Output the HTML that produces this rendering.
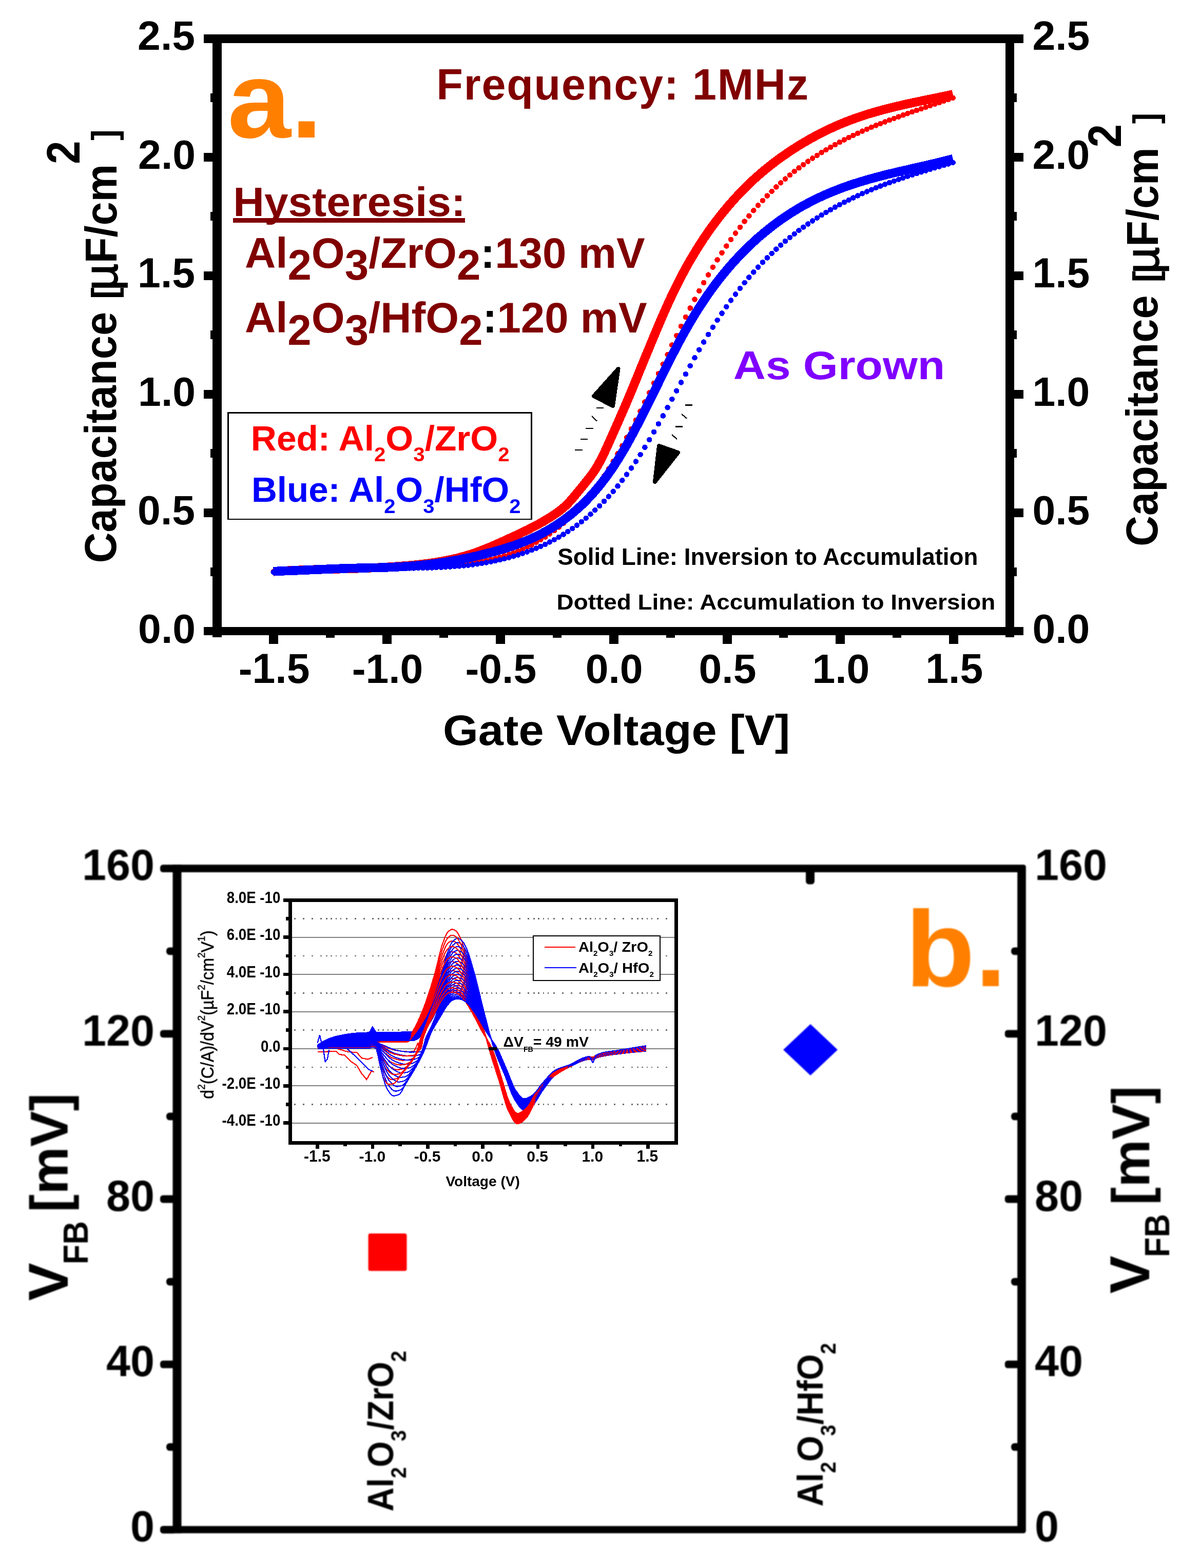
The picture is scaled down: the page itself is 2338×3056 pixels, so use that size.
<!DOCTYPE html>
<html lang="en">
<head>
<meta charset="utf-8">
<title>C-V hysteresis and flat-band voltage</title>
<style>
html,body{margin:0;padding:0;background:#fff;}
body{width:2338px;height:3056px;overflow:hidden;}
svg{display:block;font-family:"Liberation Sans", sans-serif;}
text{white-space:pre;}
</style>
</head>
<body>
<svg width="2338" height="3056" viewBox="0 0 2338 3056">
<rect width="2338" height="3056" fill="#fff"/>
<g id="chart-a" shape-rendering="crispEdges">
<rect x="414.00" y="67.00" width="18.00" height="1175.40" fill="#000" />
<rect x="1959.00" y="67.00" width="17.00" height="1175.40" fill="#000" />
<rect x="397.00" y="67.00" width="1597.00" height="17.00" fill="#000" />
<rect x="397.00" y="1222.40" width="1597.00" height="16.00" fill="#000" />
<rect x="397.00" y="990.90" width="18.00" height="17.00" fill="#000" />
<rect x="1975.00" y="990.90" width="19.00" height="17.00" fill="#000" />
<rect x="397.00" y="759.80" width="18.00" height="17.00" fill="#000" />
<rect x="1975.00" y="759.80" width="19.00" height="17.00" fill="#000" />
<rect x="397.00" y="528.70" width="18.00" height="17.00" fill="#000" />
<rect x="1975.00" y="528.70" width="19.00" height="17.00" fill="#000" />
<rect x="397.00" y="297.60" width="18.00" height="17.00" fill="#000" />
<rect x="1975.00" y="297.60" width="19.00" height="17.00" fill="#000" />
<rect x="410.00" y="1106.45" width="5.00" height="17.00" fill="#000" />
<rect x="1975.00" y="1106.45" width="6.00" height="17.00" fill="#000" />
<rect x="410.00" y="875.35" width="5.00" height="17.00" fill="#000" />
<rect x="1975.00" y="875.35" width="6.00" height="17.00" fill="#000" />
<rect x="410.00" y="644.25" width="5.00" height="17.00" fill="#000" />
<rect x="1975.00" y="644.25" width="6.00" height="17.00" fill="#000" />
<rect x="410.00" y="413.15" width="5.00" height="17.00" fill="#000" />
<rect x="1975.00" y="413.15" width="6.00" height="17.00" fill="#000" />
<rect x="410.00" y="182.05" width="5.00" height="17.00" fill="#000" />
<rect x="1975.00" y="182.05" width="6.00" height="17.00" fill="#000" />
<rect x="524.15" y="1237.40" width="18.00" height="17.60" fill="#000" />
<rect x="745.00" y="1237.40" width="18.00" height="17.60" fill="#000" />
<rect x="965.85" y="1237.40" width="18.00" height="17.60" fill="#000" />
<rect x="1186.70" y="1237.40" width="18.00" height="17.60" fill="#000" />
<rect x="1407.55" y="1237.40" width="18.00" height="17.60" fill="#000" />
<rect x="1628.40" y="1237.40" width="18.00" height="17.60" fill="#000" />
<rect x="1849.25" y="1237.40" width="18.00" height="17.60" fill="#000" />
<rect x="635.08" y="1237.40" width="17.00" height="5.60" fill="#000" />
<rect x="855.93" y="1237.40" width="17.00" height="5.60" fill="#000" />
<rect x="1076.78" y="1237.40" width="17.00" height="5.60" fill="#000" />
<rect x="1297.62" y="1237.40" width="17.00" height="5.60" fill="#000" />
<rect x="1518.47" y="1237.40" width="17.00" height="5.60" fill="#000" />
<rect x="1739.33" y="1237.40" width="17.00" height="5.60" fill="#000" />
<text transform="translate(269.12 1252.90) scale(0.8050 0.7972)" font-size="100" font-weight="bold" fill="#000" >0.0</text>
<text transform="translate(2011.48 1252.90) scale(0.8050 0.7972)" font-size="100" font-weight="bold" fill="#000" >0.0</text>
<text transform="translate(268.12 1021.80) scale(0.8050 0.7972)" font-size="100" font-weight="bold" fill="#000" >0.5</text>
<text transform="translate(2011.48 1021.80) scale(0.8050 0.7972)" font-size="100" font-weight="bold" fill="#000" >0.5</text>
<text transform="translate(269.12 790.70) scale(0.8050 0.7972)" font-size="100" font-weight="bold" fill="#000" >1.0</text>
<text transform="translate(2011.48 790.70) scale(0.8050 0.7972)" font-size="100" font-weight="bold" fill="#000" >1.0</text>
<text transform="translate(268.12 559.59) scale(0.8050 0.8086)" font-size="100" font-weight="bold" fill="#000" >1.5</text>
<text transform="translate(2011.48 559.59) scale(0.8050 0.8086)" font-size="100" font-weight="bold" fill="#000" >1.5</text>
<text transform="translate(269.12 328.50) scale(0.8050 0.7972)" font-size="100" font-weight="bold" fill="#000" >2.0</text>
<text transform="translate(2011.48 328.50) scale(0.8050 0.7972)" font-size="100" font-weight="bold" fill="#000" >2.0</text>
<text transform="translate(268.12 97.40) scale(0.8050 0.7972)" font-size="100" font-weight="bold" fill="#000" >2.5</text>
<text transform="translate(2011.48 97.40) scale(0.8050 0.7972)" font-size="100" font-weight="bold" fill="#000" >2.5</text>
<text transform="translate(464.79 1331.19) scale(0.8050 0.8072)" font-size="100" font-weight="bold" fill="#000" >-1.5</text>
<text transform="translate(685.64 1331.20) scale(0.8050 0.7958)" font-size="100" font-weight="bold" fill="#000" >-1.0</text>
<text transform="translate(906.49 1331.20) scale(0.8050 0.7958)" font-size="100" font-weight="bold" fill="#000" >-0.5</text>
<text transform="translate(1140.74 1331.20) scale(0.8050 0.7958)" font-size="100" font-weight="bold" fill="#000" >0.0</text>
<text transform="translate(1361.59 1331.20) scale(0.8050 0.7958)" font-size="100" font-weight="bold" fill="#000" >0.5</text>
<text transform="translate(1582.44 1331.20) scale(0.8050 0.7958)" font-size="100" font-weight="bold" fill="#000" >1.0</text>
<text transform="translate(1803.29 1331.19) scale(0.8050 0.8072)" font-size="100" font-weight="bold" fill="#000" >1.5</text>
<text transform="translate(863.06 1452.47) scale(0.8839 0.8341)" font-size="100" font-weight="bold" fill="#000" >Gate Voltage [V]</text>
<text transform="translate(226.28 1097.53) rotate(-90) scale(0.8313 0.8783)" font-size="100" font-weight="bold" fill="#000" >Capacitance</text>
<text transform="translate(226.76 582.74) rotate(-90) scale(0.6792 0.6863)" font-size="100" font-weight="bold" fill="#000" >[</text>
<text transform="translate(228.80 566.12) rotate(-90) scale(0.9072 0.9252)" font-size="100" font-weight="normal" fill="#000" stroke="#000" stroke-width="2">µ</text>
<text transform="translate(226.55 513.19) rotate(-90) scale(0.8281 0.8765)" font-size="100" font-weight="bold" fill="#000" >F/cm</text>
<text transform="translate(155.20 319.84) rotate(-90) scale(0.8125 0.9133)" font-size="100" font-weight="bold" fill="#000" >2</text>
<text transform="translate(226.76 273.80) rotate(-90) scale(0.6415 0.6863)" font-size="100" font-weight="bold" fill="#000" >]</text>
<text transform="translate(2255.28 1065.03) rotate(-90) scale(0.8313 0.8783)" font-size="100" font-weight="bold" fill="#000" >Capacitance</text>
<text transform="translate(2255.76 550.24) rotate(-90) scale(0.6792 0.6863)" font-size="100" font-weight="bold" fill="#000" >[</text>
<text transform="translate(2257.80 533.62) rotate(-90) scale(0.9072 0.9252)" font-size="100" font-weight="normal" fill="#000" stroke="#000" stroke-width="2">µ</text>
<text transform="translate(2255.55 480.69) rotate(-90) scale(0.8281 0.8765)" font-size="100" font-weight="bold" fill="#000" >F/cm</text>
<text transform="translate(2184.20 287.34) rotate(-90) scale(0.8125 0.9133)" font-size="100" font-weight="bold" fill="#000" >2</text>
<text transform="translate(2255.76 241.30) rotate(-90) scale(0.6415 0.6863)" font-size="100" font-weight="bold" fill="#000" >]</text>
<text transform="translate(443.14 267.68) scale(2.2204 2.1151)" font-size="100" font-weight="bold" fill="#ff8000" >a.</text>
<text transform="translate(850.30 193.77) scale(0.8447 0.8447)" font-size="100" font-weight="bold" fill="#800000"  letter-spacing="2.135">Frequency: 1MHz</text>
<text transform="translate(454.33 421.30) scale(0.8394 0.7903)" font-size="100" font-weight="bold" fill="#800000" >Hysteresis:</text>
<rect x="454.00" y="425.00" width="452.00" height="9.00" fill="#800000" />
<text transform="translate(476.91 521.50) scale(1.0024 1.0000)" font-size="83.30" font-weight="bold" fill="#800000" ><tspan>Al</tspan><tspan dy="23.57">2</tspan><tspan dy="-23.57">O</tspan><tspan dy="23.57">3</tspan><tspan dy="-23.57">/ZrO</tspan><tspan dy="23.57">2</tspan><tspan dy="-23.57" fill="#000">:</tspan><tspan>130 mV</tspan></text>
<text transform="translate(476.91 648.00) scale(1.0016 1.0000)" font-size="83.30" font-weight="bold" fill="#800000" ><tspan>Al</tspan><tspan dy="23.57">2</tspan><tspan dy="-23.57">O</tspan><tspan dy="23.57">3</tspan><tspan dy="-23.57">/HfO</tspan><tspan dy="23.57">2</tspan><tspan dy="-23.57" fill="#000">:</tspan><tspan>120 mV</tspan></text>
<text transform="translate(1428.82 739.22) scale(0.8733 0.7845)" font-size="100" font-weight="bold" fill="#8000ff" >As Grown</text>
<rect x="444.3" y="804.3" width="591.4" height="207.6" fill="#fff" stroke="#000" stroke-width="2.6"/>
<text transform="translate(488.82 877.80) scale(1.0260 1.0000)" font-size="67.60" font-weight="bold" fill="#ff0000" ><tspan>Red: Al</tspan><tspan font-size="39.21" dy="21.63">2</tspan><tspan dy="-21.63">O</tspan><tspan font-size="39.21" dy="21.63">3</tspan><tspan dy="-21.63">/ZrO</tspan><tspan font-size="39.21" dy="21.63">2</tspan></text>
<text transform="translate(489.94 978.00) scale(1.0217 1.0000)" font-size="67.60" font-weight="bold" fill="#0000ff" ><tspan>Blue: Al</tspan><tspan font-size="39.21" dy="21.63">2</tspan><tspan dy="-21.63">O</tspan><tspan font-size="39.21" dy="21.63">3</tspan><tspan dy="-21.63">/HfO</tspan><tspan font-size="39.21" dy="21.63">2</tspan></text>
<text transform="translate(1086.33 1100.53) scale(0.4576 0.4653)" font-size="100" font-weight="bold" fill="#000" >Solid Line: Inversion to Accumulation</text>
<text transform="translate(1084.60 1187.58) scale(0.4589 0.4245)" font-size="100" font-weight="bold" fill="#000" >Dotted Line: Accumulation to Inversion</text>
<path d="M532.7 1113.9 L537.8 1113.6 L542.9 1113.3 L548.0 1113.0 L553.1 1112.7 L558.3 1112.4 L563.4 1112.1 L568.5 1111.9 L573.6 1111.6 L578.7 1111.4 L583.8 1111.2 L588.9 1111.0 L594.0 1110.8 L599.2 1110.6 L604.3 1110.4 L609.4 1110.3 L614.5 1110.1 L619.6 1110.0 L624.7 1109.8 L629.8 1109.7 L634.9 1109.5 L640.0 1109.4 L645.2 1109.2 L650.3 1109.1 L655.4 1109.0 L660.5 1108.8 L665.6 1108.7 L670.7 1108.5 L675.8 1108.4 L680.9 1108.2 L686.0 1108.1 L691.2 1107.9 L696.3 1107.8 L701.4 1107.6 L706.5 1107.4 L711.6 1107.2 L716.7 1107.0 L721.8 1106.8 L726.9 1106.6 L732.1 1106.4 L737.2 1106.2 L742.3 1105.9 L747.4 1105.6 L752.5 1105.4 L757.6 1105.1 L762.7 1104.8 L767.8 1104.4 L772.9 1104.1 L778.1 1103.7 L783.2 1103.3 L788.3 1102.9 L793.4 1102.5 L798.5 1102.1 L803.6 1101.6 L808.7 1101.1 L813.8 1100.6 L818.9 1100.0 L824.1 1099.4 L829.2 1098.8 L834.3 1098.2 L839.4 1097.5 L844.5 1096.7 L849.6 1096.0 L854.7 1095.1 L859.8 1094.2 L865.0 1093.3 L870.1 1092.3 L875.2 1091.3 L880.3 1090.2 L885.4 1089.0 L890.5 1087.8 L895.6 1086.5 L900.7 1085.1 L905.8 1083.7 L911.0 1082.2 L916.1 1080.6 L921.2 1078.9 L926.3 1077.2 L931.4 1075.3 L936.5 1073.4 L941.6 1071.4 L946.7 1069.4 L951.8 1067.3 L957.0 1065.2 L962.1 1063.0 L967.2 1060.7 L972.3 1058.5 L977.4 1056.2 L982.5 1053.9 L987.6 1051.5 L992.7 1049.2 L997.9 1046.8 L1003.0 1044.5 L1008.1 1042.1 L1013.2 1039.7 L1018.3 1037.3 L1023.4 1034.8 L1028.5 1032.3 L1033.6 1029.7 L1038.7 1027.1 L1043.9 1024.4 L1049.0 1021.7 L1054.1 1018.8 L1059.2 1015.9 L1064.3 1012.8 L1069.4 1009.7 L1074.5 1006.5 L1079.6 1003.1 L1084.8 999.6 L1089.9 995.9 L1095.0 991.9 L1100.1 987.5 L1105.2 982.6 L1110.3 977.2 L1115.4 971.5 L1120.5 965.4 L1125.6 959.1 L1130.8 952.9 L1135.9 946.6 L1141.0 940.3 L1146.1 934.0 L1151.2 927.4 L1156.3 920.4 L1161.4 912.6 L1166.5 903.9 L1171.6 894.2 L1176.8 883.8 L1181.9 872.8 L1187.0 861.5 L1192.1 850.1 L1197.2 838.6 L1202.3 827.1 L1207.4 815.5 L1212.5 803.7 L1217.7 791.9 L1222.8 779.8 L1227.9 767.7 L1233.0 755.4 L1238.1 743.0 L1243.2 730.5 L1248.3 718.0 L1253.4 705.5 L1258.5 693.0 L1263.7 680.6 L1268.8 668.2 L1273.9 655.9 L1279.0 643.7 L1284.1 631.6 L1289.2 619.7 L1294.3 608.0 L1299.4 596.6 L1304.5 585.4 L1309.7 574.4 L1314.8 563.8 L1319.9 553.5 L1325.0 543.4 L1330.1 533.7 L1335.2 524.2 L1340.3 515.0 L1345.4 506.1 L1350.6 497.4 L1355.7 489.0 L1360.8 480.8 L1365.9 472.8 L1371.0 465.0 L1376.1 457.5 L1381.2 450.2 L1386.3 443.0 L1391.4 436.1 L1396.6 429.3 L1401.7 422.7 L1406.8 416.3 L1411.9 410.0 L1417.0 403.9 L1422.1 397.9 L1427.2 392.1 L1432.3 386.4 L1437.5 380.8 L1442.6 375.4 L1447.7 370.2 L1452.8 365.0 L1457.9 360.0 L1463.0 355.1 L1468.1 350.3 L1473.2 345.7 L1478.3 341.2 L1483.5 336.7 L1488.6 332.4 L1493.7 328.2 L1498.8 324.1 L1503.9 320.1 L1509.0 316.2 L1514.1 312.3 L1519.2 308.6 L1524.3 304.9 L1529.5 301.4 L1534.6 297.9 L1539.7 294.4 L1544.8 291.1 L1549.9 287.8 L1555.0 284.6 L1560.1 281.4 L1565.2 278.4 L1570.4 275.4 L1575.5 272.4 L1580.6 269.5 L1585.7 266.7 L1590.8 264.0 L1595.9 261.3 L1601.0 258.6 L1606.1 256.1 L1611.2 253.6 L1616.4 251.2 L1621.5 248.8 L1626.6 246.5 L1631.7 244.3 L1636.8 242.1 L1641.9 240.0 L1647.0 237.9 L1652.1 235.9 L1657.2 234.0 L1662.4 232.1 L1667.5 230.2 L1672.6 228.5 L1677.7 226.7 L1682.8 225.1 L1687.9 223.4 L1693.0 221.8 L1698.1 220.3 L1703.3 218.8 L1708.4 217.3 L1713.5 215.9 L1718.6 214.5 L1723.7 213.1 L1728.8 211.8 L1733.9 210.5 L1739.0 209.2 L1744.1 208.0 L1749.3 206.8 L1754.4 205.6 L1759.5 204.4 L1764.6 203.2 L1769.7 202.1 L1774.8 201.0 L1779.9 199.9 L1785.0 198.8 L1790.1 197.7 L1795.3 196.7 L1800.4 195.6 L1805.5 194.5 L1810.6 193.5 L1815.7 192.4 L1820.8 191.4 L1825.9 190.4 L1831.0 189.3 L1836.2 188.2 L1841.3 187.2 L1846.4 186.1 L1851.5 185.0 L1856.6 183.9" fill="none" stroke="#ff0000" stroke-width="17.5" stroke-linecap="butt" stroke-linejoin="round"/>
<path d="M532.7 1113.7h0M541.5 1113.3h0M550.4 1112.9h0M559.2 1112.5h0M568.0 1112.1h0M576.8 1111.8h0M585.7 1111.4h0M594.5 1111.1h0M603.3 1110.8h0M612.1 1110.4h0M621.0 1110.1h0M629.8 1109.8h0M638.6 1109.5h0M647.4 1109.2h0M656.3 1108.9h0M665.1 1108.7h0M673.9 1108.4h0M682.7 1108.1h0M691.6 1107.8h0M700.4 1107.5h0M709.2 1107.3h0M718.0 1107.0h0M726.9 1106.7h0M735.7 1106.4h0M744.5 1106.2h0M753.4 1105.9h0M762.2 1105.6h0M771.0 1105.3h0M779.8 1105.0h0M788.7 1104.7h0M797.5 1104.4h0M806.3 1104.1h0M815.1 1103.7h0M824.0 1103.4h0M832.8 1103.1h0M841.6 1102.7h0M850.4 1102.3h0M859.3 1101.9h0M868.1 1101.4h0M876.9 1100.9h0M885.7 1100.3h0M894.6 1099.5h0M903.4 1098.7h0M912.2 1097.7h0M921.0 1096.6h0M929.9 1095.3h0M938.7 1093.9h0M947.5 1092.2h0M956.3 1090.4h0M965.2 1088.3h0M974.0 1086.0h0M982.8 1083.4h0M991.7 1080.6h0M1000.5 1077.5h0M1009.3 1074.1h0M1018.1 1070.3h0M1027.0 1066.3h0M1035.8 1061.9h0M1044.6 1057.1h0M1053.4 1052.0h0M1062.3 1046.5h0M1071.1 1040.5h0M1079.9 1034.2h0M1088.7 1027.4h0M1097.6 1020.1h0M1106.4 1012.3h0M1115.2 1004.0h0M1124.0 995.0h0M1132.9 985.5h0M1141.7 975.3h0M1150.5 964.4h0M1159.3 952.9h0M1168.2 940.5h0M1177.0 927.5h0M1185.8 913.8h0M1194.7 899.4h0M1203.5 884.4h0M1212.3 868.8h0M1221.1 852.7h0M1230.0 836.1h0M1238.8 818.9h0M1247.6 801.4h0M1256.4 783.5h0M1265.3 765.3h0M1274.1 746.9h0M1282.9 728.3h0M1291.7 709.7h0M1300.6 691.0h0M1309.4 672.5h0M1318.2 654.1h0M1327.0 635.9h0M1335.9 618.0h0M1344.7 600.5h0M1353.5 583.5h0M1362.3 566.9h0M1371.2 550.9h0M1380.0 535.6h0M1388.8 520.7h0M1397.6 506.4h0M1406.5 492.7h0M1415.3 479.5h0M1424.1 466.8h0M1433.0 454.5h0M1441.8 442.8h0M1450.6 431.5h0M1459.4 420.7h0M1468.3 410.3h0M1477.1 400.3h0M1485.9 390.8h0M1494.7 381.6h0M1503.6 372.8h0M1512.4 364.4h0M1521.2 356.3h0M1530.0 348.6h0M1538.9 341.2h0M1547.7 334.1h0M1556.5 327.3h0M1565.3 320.8h0M1574.2 314.5h0M1583.0 308.5h0M1591.8 302.8h0M1600.6 297.3h0M1609.5 291.9h0M1618.3 286.8h0M1627.1 281.9h0M1635.9 277.1h0M1644.8 272.5h0M1653.6 268.1h0M1662.4 263.8h0M1671.3 259.7h0M1680.1 255.7h0M1688.9 251.8h0M1697.7 248.1h0M1706.6 244.4h0M1715.4 240.9h0M1724.2 237.5h0M1733.0 234.1h0M1741.9 230.8h0M1750.7 227.6h0M1759.5 224.4h0M1768.3 221.3h0M1777.2 218.2h0M1786.0 215.1h0M1794.8 212.1h0M1803.6 209.1h0M1812.5 206.0h0M1821.3 203.0h0M1830.1 200.0h0M1838.9 196.9h0M1847.8 193.8h0M1856.6 190.7h0" fill="none" stroke="#ff0000" stroke-width="10.6" stroke-linecap="round"/>
<path d="M532.7 1113.5 L537.8 1113.3 L542.9 1113.2 L548.0 1113.0 L553.1 1112.8 L558.3 1112.6 L563.4 1112.4 L568.5 1112.2 L573.6 1112.0 L578.7 1111.8 L583.8 1111.6 L588.9 1111.4 L594.0 1111.1 L599.2 1110.9 L604.3 1110.7 L609.4 1110.5 L614.5 1110.2 L619.6 1110.0 L624.7 1109.8 L629.8 1109.5 L634.9 1109.3 L640.0 1109.1 L645.2 1108.9 L650.3 1108.7 L655.4 1108.5 L660.5 1108.3 L665.6 1108.1 L670.7 1107.9 L675.8 1107.8 L680.9 1107.6 L686.0 1107.5 L691.2 1107.4 L696.3 1107.2 L701.4 1107.1 L706.5 1107.0 L711.6 1106.9 L716.7 1106.8 L721.8 1106.7 L726.9 1106.6 L732.1 1106.4 L737.2 1106.3 L742.3 1106.2 L747.4 1106.0 L752.5 1105.9 L757.6 1105.7 L762.7 1105.5 L767.8 1105.2 L772.9 1105.0 L778.1 1104.7 L783.2 1104.4 L788.3 1104.1 L793.4 1103.8 L798.5 1103.4 L803.6 1103.0 L808.7 1102.5 L813.8 1102.1 L818.9 1101.6 L824.1 1101.1 L829.2 1100.5 L834.3 1099.9 L839.4 1099.3 L844.5 1098.6 L849.6 1098.0 L854.7 1097.3 L859.8 1096.5 L865.0 1095.8 L870.1 1095.0 L875.2 1094.1 L880.3 1093.3 L885.4 1092.4 L890.5 1091.5 L895.6 1090.5 L900.7 1089.5 L905.8 1088.5 L911.0 1087.5 L916.1 1086.4 L921.2 1085.3 L926.3 1084.1 L931.4 1082.9 L936.5 1081.7 L941.6 1080.5 L946.7 1079.2 L951.8 1077.9 L957.0 1076.6 L962.1 1075.2 L967.2 1073.8 L972.3 1072.3 L977.4 1070.8 L982.5 1069.3 L987.6 1067.7 L992.7 1066.0 L997.9 1064.3 L1003.0 1062.6 L1008.1 1060.7 L1013.2 1058.8 L1018.3 1056.8 L1023.4 1054.8 L1028.5 1052.7 L1033.6 1050.4 L1038.7 1048.1 L1043.9 1045.7 L1049.0 1043.2 L1054.1 1040.6 L1059.2 1037.9 L1064.3 1035.1 L1069.4 1032.2 L1074.5 1029.2 L1079.6 1026.0 L1084.8 1022.8 L1089.9 1019.4 L1095.0 1015.8 L1100.1 1012.1 L1105.2 1008.3 L1110.3 1004.3 L1115.4 1000.2 L1120.5 995.9 L1125.6 991.4 L1130.8 986.7 L1135.9 981.9 L1141.0 976.8 L1146.1 971.5 L1151.2 966.1 L1156.3 960.4 L1161.4 954.5 L1166.5 948.3 L1171.6 942.0 L1176.8 935.3 L1181.9 928.5 L1187.0 921.4 L1192.1 914.0 L1197.2 906.3 L1202.3 898.4 L1207.4 890.2 L1212.5 881.7 L1217.7 872.9 L1222.8 863.9 L1227.9 854.6 L1233.0 845.2 L1238.1 835.5 L1243.2 825.7 L1248.3 815.7 L1253.4 805.6 L1258.5 795.4 L1263.7 785.2 L1268.8 774.8 L1273.9 764.5 L1279.0 754.1 L1284.1 743.7 L1289.2 733.3 L1294.3 723.0 L1299.4 712.7 L1304.5 702.5 L1309.7 692.5 L1314.8 682.5 L1319.9 672.7 L1325.0 663.1 L1330.1 653.7 L1335.2 644.5 L1340.3 635.5 L1345.4 626.7 L1350.6 618.2 L1355.7 609.9 L1360.8 601.7 L1365.9 593.8 L1371.0 586.1 L1376.1 578.6 L1381.2 571.2 L1386.3 564.1 L1391.4 557.1 L1396.6 550.3 L1401.7 543.7 L1406.8 537.3 L1411.9 531.0 L1417.0 524.9 L1422.1 518.9 L1427.2 513.1 L1432.3 507.5 L1437.5 501.9 L1442.6 496.5 L1447.7 491.3 L1452.8 486.2 L1457.9 481.2 L1463.0 476.3 L1468.1 471.5 L1473.2 466.8 L1478.3 462.3 L1483.5 457.9 L1488.6 453.6 L1493.7 449.4 L1498.8 445.3 L1503.9 441.3 L1509.0 437.4 L1514.1 433.6 L1519.2 429.9 L1524.3 426.3 L1529.5 422.8 L1534.6 419.3 L1539.7 416.0 L1544.8 412.8 L1549.9 409.7 L1555.0 406.6 L1560.1 403.6 L1565.2 400.7 L1570.4 397.9 L1575.5 395.2 L1580.6 392.5 L1585.7 389.9 L1590.8 387.4 L1595.9 385.0 L1601.0 382.6 L1606.1 380.3 L1611.2 378.0 L1616.4 375.9 L1621.5 373.7 L1626.6 371.7 L1631.7 369.7 L1636.8 367.7 L1641.9 365.8 L1647.0 364.0 L1652.1 362.2 L1657.2 360.4 L1662.4 358.7 L1667.5 357.1 L1672.6 355.5 L1677.7 353.9 L1682.8 352.4 L1687.9 350.9 L1693.0 349.4 L1698.1 348.0 L1703.3 346.6 L1708.4 345.2 L1713.5 343.8 L1718.6 342.5 L1723.7 341.2 L1728.8 339.9 L1733.9 338.7 L1739.0 337.4 L1744.1 336.2 L1749.3 335.0 L1754.4 333.8 L1759.5 332.6 L1764.6 331.5 L1769.7 330.3 L1774.8 329.1 L1779.9 327.9 L1785.0 326.8 L1790.1 325.6 L1795.3 324.4 L1800.4 323.3 L1805.5 322.1 L1810.6 320.9 L1815.7 319.7 L1820.8 318.5 L1825.9 317.3 L1831.0 316.0 L1836.2 314.8 L1841.3 313.5 L1846.4 312.2 L1851.5 310.8 L1856.6 309.5" fill="none" stroke="#0000ff" stroke-width="17.5" stroke-linecap="butt" stroke-linejoin="round"/>
<path d="M532.7 1115.3h0M541.5 1114.3h0M550.4 1113.3h0M559.2 1112.5h0M568.0 1111.7h0M576.8 1111.0h0M585.7 1110.4h0M594.5 1109.9h0M603.3 1109.4h0M612.1 1109.0h0M621.0 1108.7h0M629.8 1108.4h0M638.6 1108.2h0M647.4 1108.0h0M656.3 1107.8h0M665.1 1107.7h0M673.9 1107.6h0M682.7 1107.6h0M691.6 1107.5h0M700.4 1107.5h0M709.2 1107.5h0M718.0 1107.5h0M726.9 1107.5h0M735.7 1107.5h0M744.5 1107.5h0M753.4 1107.5h0M762.2 1107.5h0M771.0 1107.5h0M779.8 1107.5h0M788.7 1107.5h0M797.5 1107.5h0M806.3 1107.4h0M815.1 1107.2h0M824.0 1107.1h0M832.8 1106.8h0M841.6 1106.5h0M850.4 1106.2h0M859.3 1105.8h0M868.1 1105.3h0M876.9 1104.8h0M885.7 1104.1h0M894.6 1103.4h0M903.4 1102.5h0M912.2 1101.6h0M921.0 1100.5h0M929.9 1099.3h0M938.7 1097.9h0M947.5 1096.5h0M956.3 1094.8h0M965.2 1093.1h0M974.0 1091.1h0M982.8 1089.0h0M991.7 1086.7h0M1000.5 1084.2h0M1009.3 1081.5h0M1018.1 1078.6h0M1027.0 1075.5h0M1035.8 1072.2h0M1044.6 1068.6h0M1053.4 1064.8h0M1062.3 1060.8h0M1071.1 1056.4h0M1079.9 1051.8h0M1088.7 1046.8h0M1097.6 1041.6h0M1106.4 1035.9h0M1115.2 1030.0h0M1124.0 1023.6h0M1132.9 1016.9h0M1141.7 1009.8h0M1150.5 1002.2h0M1159.3 994.3h0M1168.2 985.9h0M1177.0 977.0h0M1185.8 967.6h0M1194.7 957.7h0M1203.5 947.3h0M1212.3 936.3h0M1221.1 924.7h0M1230.0 912.4h0M1238.8 899.5h0M1247.6 885.9h0M1256.4 871.7h0M1265.3 857.0h0M1274.1 841.8h0M1282.9 826.2h0M1291.7 810.4h0M1300.6 794.3h0M1309.4 778.0h0M1318.2 761.7h0M1327.0 745.4h0M1335.9 729.2h0M1344.7 713.1h0M1353.5 697.2h0M1362.3 681.7h0M1371.2 666.6h0M1380.0 651.9h0M1388.8 637.7h0M1397.6 623.9h0M1406.5 610.6h0M1415.3 597.8h0M1424.1 585.4h0M1433.0 573.5h0M1441.8 562.0h0M1450.6 551.0h0M1459.4 540.5h0M1468.3 530.4h0M1477.1 520.6h0M1485.9 511.3h0M1494.7 502.4h0M1503.6 493.8h0M1512.4 485.6h0M1521.2 477.7h0M1530.0 470.1h0M1538.9 462.8h0M1547.7 455.8h0M1556.5 449.1h0M1565.3 442.7h0M1574.2 436.5h0M1583.0 430.5h0M1591.8 424.7h0M1600.6 419.2h0M1609.5 413.8h0M1618.3 408.7h0M1627.1 403.7h0M1635.9 398.9h0M1644.8 394.3h0M1653.6 389.8h0M1662.4 385.5h0M1671.3 381.4h0M1680.1 377.3h0M1688.9 373.5h0M1697.7 369.7h0M1706.6 366.1h0M1715.4 362.6h0M1724.2 359.3h0M1733.0 356.0h0M1741.9 352.8h0M1750.7 349.7h0M1759.5 346.7h0M1768.3 343.7h0M1777.2 340.9h0M1786.0 338.1h0M1794.8 335.3h0M1803.6 332.6h0M1812.5 329.9h0M1821.3 327.3h0M1830.1 324.7h0M1838.9 322.1h0M1847.8 319.5h0M1856.6 317.0h0" fill="none" stroke="#0000ff" stroke-width="10.6" stroke-linecap="round"/>
<path d="M1204.5 719 L1157 772 L1194 791 Z" fill="#000" stroke="#000" stroke-width="8" stroke-linejoin="round"/>
<path d="M1276 939 L1284 869 L1321 882 Z" fill="#000" stroke="#000" stroke-width="8" stroke-linejoin="round"/>
<path d="M1162 795h14 M1153 811l10 9.5 M1141 835h15 M1131 856h14 M1120 877h15 M1335 789.5h14 M1328 807l10 8.5 M1316 831.5h14 M1309 847l10 9" fill="none" stroke="#000" stroke-width="2.2"/>
</g>
<defs><filter id="soft" x="-2%" y="-2%" width="104%" height="104%"><feGaussianBlur stdDeviation="0.85"/></filter></defs>
<g id="chart-b">
<g id="b-main" filter="url(#soft)">
<rect x="336.50" y="1685.30" width="17.00" height="1303.00" fill="#000" />
<path d="M336.5 1685.3 H1993.8 Q1998.8 1685.3 1998.8 1690.3 V2983.3 Q1998.8 2988.3 1993.8 2988.3 H336.5 V2974.2 H1982.2 V1700.0 H336.5 Z" fill="#000"/>
<rect x="312.0" y="2973.9" width="30.5" height="14.8" rx="5.5" fill="#000"/>
<rect x="312.0" y="2651.8" width="30.5" height="14.8" rx="5.5" fill="#000"/>
<rect x="1957.8" y="2651.8" width="30.4" height="14.8" rx="5.5" fill="#000"/>
<rect x="312.0" y="2329.6" width="30.5" height="14.8" rx="5.5" fill="#000"/>
<rect x="1957.8" y="2329.6" width="30.4" height="14.8" rx="5.5" fill="#000"/>
<rect x="312.0" y="2007.4" width="30.5" height="14.8" rx="5.5" fill="#000"/>
<rect x="1957.8" y="2007.4" width="30.4" height="14.8" rx="5.5" fill="#000"/>
<rect x="312.0" y="1685.3" width="30.5" height="14.8" rx="5.5" fill="#000"/>
<rect x="324.0" y="2812.8" width="18.5" height="14.8" rx="6.5" fill="#000"/>
<rect x="1970.0" y="2812.8" width="18.2" height="14.8" rx="6.5" fill="#000"/>
<rect x="324.0" y="2490.7" width="18.5" height="14.8" rx="6.5" fill="#000"/>
<rect x="1970.0" y="2490.7" width="18.2" height="14.8" rx="6.5" fill="#000"/>
<rect x="324.0" y="2168.5" width="18.5" height="14.8" rx="6.5" fill="#000"/>
<rect x="1970.0" y="2168.5" width="18.2" height="14.8" rx="6.5" fill="#000"/>
<rect x="324.0" y="1846.4" width="18.5" height="14.8" rx="6.5" fill="#000"/>
<rect x="1970.0" y="1846.4" width="18.2" height="14.8" rx="6.5" fill="#000"/>
<rect x="1570" y="1694.0" width="17" height="29.5" rx="6" fill="#000"/>
<text transform="translate(253.98 3004.07) scale(0.8450 0.8450)" font-size="100" font-weight="bold" fill="#000" >0</text>
<text transform="translate(2016.12 3004.07) scale(0.8450 0.8450)" font-size="100" font-weight="bold" fill="#000" >0</text>
<text transform="translate(207.08 2681.92) scale(0.8450 0.8450)" font-size="100" font-weight="bold" fill="#000" >40</text>
<text transform="translate(2016.12 2681.92) scale(0.8450 0.8450)" font-size="100" font-weight="bold" fill="#000" >40</text>
<text transform="translate(207.09 2359.77) scale(0.8450 0.8450)" font-size="100" font-weight="bold" fill="#000" >80</text>
<text transform="translate(2016.12 2359.77) scale(0.8450 0.8450)" font-size="100" font-weight="bold" fill="#000" >80</text>
<text transform="translate(159.98 2037.62) scale(0.8450 0.8450)" font-size="100" font-weight="bold" fill="#000" >120</text>
<text transform="translate(2016.12 2037.62) scale(0.8450 0.8450)" font-size="100" font-weight="bold" fill="#000" >120</text>
<text transform="translate(159.98 1715.47) scale(0.8450 0.8450)" font-size="100" font-weight="bold" fill="#000" >160</text>
<text transform="translate(2016.12 1715.47) scale(0.8450 0.8450)" font-size="100" font-weight="bold" fill="#000" >160</text>
<text transform="translate(131.60 2535.23) rotate(-90) scale(1.1096 1.0996)" font-size="100" font-weight="bold" fill="#000" >V</text>
<text transform="translate(170.70 2464.27) rotate(-90) scale(0.6328 0.6836)" font-size="100" font-weight="bold" fill="#000" >FB</text>
<text transform="translate(131.42 2362.54) rotate(-90) scale(1.0438 1.0402)" font-size="100" font-weight="bold" fill="#000" >[mV]</text>
<text transform="translate(2239.10 2521.23) rotate(-90) scale(1.1096 1.0996)" font-size="100" font-weight="bold" fill="#000" >V</text>
<text transform="translate(2278.20 2450.27) rotate(-90) scale(0.6328 0.6836)" font-size="100" font-weight="bold" fill="#000" >FB</text>
<text transform="translate(2238.92 2348.54) rotate(-90) scale(1.0438 1.0402)" font-size="100" font-weight="bold" fill="#000" >[mV]</text>
<text transform="translate(1763.86 1921.90) scale(2.2212 2.0952)" font-size="100" font-weight="bold" fill="#ff8000" >b.</text>
<rect x="717.5" y="2404" width="75" height="73" rx="4" fill="#ff0000"/>
<path d="M1579 1996 L1632 2046 L1579 2096 L1526 2046 Z" fill="#0000ff"/>
<text transform="translate(765.80 2945.82) rotate(-90) scale(0.9258 1.0000)" font-size="70.00" font-weight="bold" fill="#000" ><tspan>Al</tspan><tspan font-size="42.00" dy="25.20">2</tspan><tspan dy="-25.20">O</tspan><tspan font-size="42.00" dy="25.20">3</tspan><tspan dy="-25.20">/ZrO</tspan><tspan font-size="42.00" dy="25.20">2</tspan></text>
<text transform="translate(1603.00 2935.93) rotate(-90) scale(0.9300 1.0000)" font-size="70.00" font-weight="bold" fill="#000" ><tspan>Al</tspan><tspan font-size="42.00" dy="25.20">2</tspan><tspan dy="-25.20">O</tspan><tspan font-size="42.00" dy="25.20">3</tspan><tspan dy="-25.20">/HfO</tspan><tspan font-size="42.00" dy="25.20">2</tspan></text>
</g>
<g id="inset">
<g id="inset-grid" shape-rendering="crispEdges">
<path d="M565.0 1826.7H1317.3 M565.0 1899.1H1317.3 M565.0 1971.5H1317.3 M565.0 2043.9H1317.3 M565.0 2116.3H1317.3 M565.0 2188.7H1317.3" fill="none" stroke="#7f7f7f" stroke-width="2"/>
<path d="M573.0 1790.5H1313.3 M573.0 1862.9H1313.3 M573.0 1935.3H1313.3 M573.0 2007.7H1313.3 M573.0 2080.1H1313.3 M573.0 2152.5H1313.3" fill="none" stroke="#707070" stroke-width="2.6" stroke-dasharray="2.6 14.4 2.6 14.4 2.6 14.4 2.6 8.6 2.6 6.6 2.6 6.6 2.6 6.6 2.6 8.6"/>
</g>
<g id="inset-curves" shape-rendering="crispEdges">
<path d="M618.6 2050.2 L654.7 2049.0 L661.5 2055.1 L671.4 2056.2 L683.0 2068.2 L695.2 2076.5 L704.4 2092.0 L714.3 2104.0 L723.8 2087.3 L728.7 2089.5 M657.2 2043.9 L678.7 2050.2 L695.2 2051.1 L704.4 2062.0 L716.7 2064.5 L725.9 2060.9" fill="none" stroke="#ff0000" stroke-width="2.2"/>
<path d="M618.6 2033.0 L622.9 2016.8 L627.2 2036.7 L630.4 2047.5 L633.6 2069.2 L637.9 2063.8 L641.1 2045.7 M676.1 2043.9 L695.2 2060.9 L707.0 2072.9 L719.0 2084.8 L726.1 2087.3" fill="none" stroke="#0000ff" stroke-width="2.2"/>
<path d="M618.6 2038.9 622.2 2037.1 625.7 2035.5 629.3 2034.0 632.8 2032.6 636.4 2031.3 640.0 2030.2 643.5 2029.3 647.1 2028.4 650.6 2027.6 654.2 2026.9 657.7 2026.2 661.3 2025.7 664.9 2025.2 668.4 2024.7 672.0 2024.3 675.5 2023.8 679.1 2023.5 682.7 2023.1 686.2 2022.8 689.8 2022.5 693.3 2022.3 696.9 2022.1 700.5 2022.0 704.0 2021.9 707.6 2021.8 711.1 2021.7 714.7 2021.5 718.2 2021.2 719.5 2021.1 721.8 2017.7 725.4 2010.4 725.9 2010.2 728.9 2015.2 732.3 2021.1 732.5 2021.1 736.0 2021.1 739.6 2021.0 743.2 2021.0 746.7 2020.9 750.3 2020.9 753.8 2020.8 757.4 2020.7 761.0 2020.7 764.5 2020.7 768.1 2020.7 771.6 2020.6 775.2 2020.6 778.7 2020.6 782.3 2020.6 785.9 2020.5 789.4 2020.5 793.0 2020.4 796.5 2019.8 800.1 2015.6 803.7 2010.7 807.2 2004.8 810.8 1998.0 814.3 1990.5 817.9 1982.5 821.5 1974.1 825.0 1965.4 828.6 1956.0 832.1 1945.9 835.7 1935.3 839.2 1924.1 842.8 1912.4 846.4 1900.4 849.9 1887.2 853.5 1872.3 857.0 1857.5 860.6 1844.6 864.2 1834.0 867.7 1824.5 871.3 1818.1 874.8 1814.4 878.4 1811.8 881.9 1811.2 885.5 1812.7 889.1 1815.1 892.6 1819.7 896.2 1826.3 899.7 1834.5 903.3 1845.1 906.9 1857.5 910.4 1870.8 914.0 1884.4 917.5 1898.4 921.1 1913.6 924.7 1929.6 928.2 1945.7 931.8 1961.2 935.3 1975.9 938.9 1990.5 942.4 2004.9 946.0 2019.0 949.6 2032.5 953.1 2045.3 956.7 2057.3 960.2 2068.7 963.8 2079.8 967.4 2090.7 970.9 2101.7 974.5 2113.3 978.0 2125.9 981.6 2138.6 985.2 2150.5 988.7 2160.8 992.3 2168.6 995.8 2175.6 999.4 2182.1 1002.9 2187.3 1006.5 2190.2 1010.1 2190.3 1013.6 2188.8 1017.2 2186.4 1020.7 2183.2 1024.3 2179.7 1027.9 2175.6 1031.4 2169.7 1035.0 2162.7 1038.5 2155.2 1042.1 2148.0 1045.7 2141.8 1049.2 2135.9 1052.8 2129.9 1056.3 2124.1 1059.9 2118.5 1063.4 2113.5 1067.0 2109.0 1070.6 2105.3 1074.1 2102.0 1077.7 2099.1 1081.2 2096.3 1084.8 2093.7 1088.4 2091.3 1091.9 2089.1 1095.5 2087.0 1099.0 2085.0 1102.6 2083.1 1106.2 2081.3 1109.7 2079.6 1113.3 2077.7 1116.8 2075.9 1120.4 2074.0 1123.9 2072.2 1127.5 2070.5 1131.1 2069.0 1134.6 2067.6 1138.2 2066.5 1141.7 2065.6 1145.3 2065.1 1148.7 2064.9 1148.9 2064.9 1152.4 2065.6 1155.1 2066.0 1156.0 2065.8 1159.5 2063.2 1161.5 2062.0 1163.1 2061.5 1166.7 2060.5 1170.2 2059.6 1173.8 2058.8 1177.3 2058.0 1180.9 2057.4 1184.4 2056.8 1188.0 2056.3 1191.6 2055.8 1195.1 2055.3 1198.7 2054.9 1202.2 2054.5 1205.8 2054.0 1209.4 2053.6 1212.9 2053.2 1216.5 2052.7 1220.0 2052.3 1223.6 2051.9 1227.2 2051.5 1230.7 2051.1 1234.3 2050.8 1237.8 2050.4 1241.4 2050.1 1244.9 2049.8 1248.5 2049.5 1252.1 2049.2 1255.6 2049.0 1259.2 2048.8 M618.6 2039.5 622.2 2038.0 625.7 2036.6 629.3 2035.3 632.8 2034.1 636.4 2033.0 640.0 2032.0 643.5 2031.2 647.1 2030.4 650.6 2029.7 654.2 2029.1 657.7 2028.5 661.3 2028.1 664.9 2027.6 668.4 2027.2 672.0 2026.8 675.5 2026.4 679.1 2026.1 682.7 2025.8 686.2 2025.5 689.8 2025.3 693.3 2025.1 696.9 2024.9 700.5 2024.8 704.0 2024.7 707.6 2024.7 711.1 2024.6 714.7 2024.4 718.2 2024.2 719.5 2024.1 721.8 2021.0 725.4 2014.5 725.9 2014.3 728.9 2018.8 732.3 2024.1 732.5 2024.1 736.0 2024.0 739.6 2024.0 743.2 2024.0 746.7 2023.9 750.3 2023.8 753.8 2023.8 757.4 2023.7 761.0 2023.7 764.5 2023.6 768.1 2023.6 771.6 2023.6 775.2 2023.6 778.7 2023.6 782.3 2023.5 785.9 2023.5 789.4 2023.5 793.0 2023.4 796.5 2022.8 800.1 2018.5 803.7 2013.7 807.2 2008.3 810.8 2002.2 814.3 1995.5 817.9 1988.3 821.5 1980.8 825.0 1973.0 828.6 1964.5 832.1 1955.4 835.7 1945.8 839.2 1935.7 842.8 1925.2 846.4 1914.3 849.9 1902.3 853.5 1888.9 857.0 1875.6 860.6 1863.9 864.2 1854.3 867.7 1845.7 871.3 1840.0 874.8 1836.6 878.4 1834.3 881.9 1833.8 885.5 1835.1 889.1 1837.3 892.6 1841.3 896.2 1847.1 899.7 1854.3 903.3 1863.6 906.9 1874.5 910.4 1886.4 914.0 1898.6 917.5 1911.0 921.1 1924.4 924.7 1938.7 928.2 1953.0 931.8 1967.0 935.3 1980.2 938.9 1993.1 942.4 2005.8 946.0 2018.3 949.6 2030.5 953.1 2042.5 956.7 2054.2 960.2 2065.6 963.8 2076.7 967.4 2087.8 970.9 2098.9 974.5 2110.4 978.0 2122.8 981.6 2135.5 985.2 2147.5 988.7 2157.9 992.3 2165.8 995.8 2172.8 999.4 2179.4 1002.9 2184.5 1006.5 2187.5 1010.1 2187.6 1013.6 2186.2 1017.2 2183.7 1020.7 2180.6 1024.3 2177.2 1027.9 2173.2 1031.4 2167.4 1035.0 2160.5 1038.5 2153.1 1042.1 2146.1 1045.7 2140.0 1049.2 2134.2 1052.8 2128.3 1056.3 2122.6 1059.9 2117.1 1063.4 2112.2 1067.0 2107.8 1070.6 2104.1 1074.1 2101.0 1077.7 2098.1 1081.2 2095.4 1084.8 2092.9 1088.4 2090.6 1091.9 2088.4 1095.5 2086.3 1099.0 2084.4 1102.6 2082.5 1106.2 2080.8 1109.7 2079.0 1113.3 2077.2 1116.8 2075.3 1120.4 2073.5 1123.9 2071.6 1127.5 2069.9 1131.1 2068.3 1134.6 2066.9 1138.2 2065.8 1141.7 2064.9 1145.3 2064.4 1148.7 2064.2 1148.9 2064.2 1152.4 2064.8 1155.1 2065.3 1156.0 2065.1 1159.5 2062.5 1161.5 2061.3 1163.1 2060.8 1166.7 2059.7 1170.2 2058.8 1173.8 2058.0 1177.3 2057.3 1180.9 2056.6 1184.4 2056.0 1188.0 2055.5 1191.6 2055.0 1195.1 2054.5 1198.7 2054.0 1202.2 2053.6 1205.8 2053.2 1209.4 2052.7 1212.9 2052.2 1216.5 2051.8 1220.0 2051.3 1223.6 2050.9 1227.2 2050.5 1230.7 2050.1 1234.3 2049.7 1237.8 2049.3 1241.4 2048.9 1244.9 2048.6 1248.5 2048.3 1252.1 2048.0 1255.6 2047.7 1259.2 2047.5 M618.6 2040.2 622.2 2038.9 625.7 2037.7 629.3 2036.5 632.8 2035.5 636.4 2034.6 640.0 2033.8 643.5 2033.1 647.1 2032.4 650.6 2031.8 654.2 2031.3 657.7 2030.8 661.3 2030.4 664.9 2030.0 668.4 2029.7 672.0 2029.3 675.5 2029.0 679.1 2028.7 682.7 2028.5 686.2 2028.2 689.8 2028.0 693.3 2027.8 696.9 2027.7 700.5 2027.6 704.0 2027.6 707.6 2027.5 711.1 2027.4 714.7 2027.3 718.2 2027.1 719.5 2027.0 721.8 2024.3 725.4 2018.6 725.9 2018.4 728.9 2022.3 732.3 2027.0 732.5 2027.0 736.0 2027.0 739.6 2026.9 743.2 2026.9 746.7 2026.8 750.3 2026.7 753.8 2026.7 757.4 2026.6 761.0 2026.6 764.5 2026.6 768.1 2026.5 771.6 2026.5 775.2 2026.5 778.7 2026.5 782.3 2026.5 785.9 2026.4 789.4 2026.4 793.0 2026.3 796.5 2025.7 800.1 2021.3 803.7 2016.6 807.2 2011.5 810.8 2006.0 814.3 2000.1 817.9 1993.8 821.5 1987.1 825.0 1980.1 828.6 1972.4 832.1 1964.3 835.7 1955.6 839.2 1946.5 842.8 1937.0 846.4 1927.3 849.9 1916.5 853.5 1904.4 857.0 1892.4 860.6 1881.9 864.2 1873.2 867.7 1865.5 871.3 1860.3 874.8 1857.3 878.4 1855.2 881.9 1854.7 885.5 1855.9 889.1 1857.9 892.6 1861.4 896.2 1866.5 899.7 1872.7 903.3 1880.9 906.9 1890.6 910.4 1901.1 914.0 1912.0 917.5 1922.9 921.1 1934.8 924.7 1947.4 928.2 1960.2 931.8 1972.8 935.3 1984.6 938.9 1996.0 942.4 2007.1 946.0 2018.1 949.6 2029.1 953.1 2040.1 956.7 2051.3 960.2 2062.5 963.8 2073.7 967.4 2084.9 970.9 2096.1 974.5 2107.5 978.0 2119.7 981.6 2132.4 985.2 2144.4 988.7 2155.0 992.3 2163.1 995.8 2170.0 999.4 2176.6 1002.9 2181.8 1006.5 2184.7 1010.1 2184.9 1013.6 2183.5 1017.2 2181.1 1020.7 2178.1 1024.3 2174.7 1027.9 2170.8 1031.4 2165.1 1035.0 2158.3 1038.5 2151.1 1042.1 2144.2 1045.7 2138.2 1049.2 2132.5 1052.8 2126.7 1056.3 2121.1 1059.9 2115.8 1063.4 2110.9 1067.0 2106.6 1070.6 2103.0 1074.1 2099.9 1077.7 2097.1 1081.2 2094.5 1084.8 2092.1 1088.4 2089.8 1091.9 2087.7 1095.5 2085.7 1099.0 2083.8 1102.6 2082.0 1106.2 2080.2 1109.7 2078.5 1113.3 2076.6 1116.8 2074.8 1120.4 2072.9 1123.9 2071.0 1127.5 2069.3 1131.1 2067.7 1134.6 2066.3 1138.2 2065.1 1141.7 2064.2 1145.3 2063.6 1148.7 2063.4 1148.9 2063.5 1152.4 2064.1 1155.1 2064.5 1156.0 2064.4 1159.5 2061.8 1161.5 2060.6 1163.1 2060.1 1166.7 2059.0 1170.2 2058.1 1173.8 2057.2 1177.3 2056.5 1180.9 2055.8 1184.4 2055.2 1188.0 2054.7 1191.6 2054.1 1195.1 2053.7 1198.7 2053.2 1202.2 2052.7 1205.8 2052.3 1209.4 2051.8 1212.9 2051.3 1216.5 2050.8 1220.0 2050.3 1223.6 2049.9 1227.2 2049.4 1230.7 2049.0 1234.3 2048.6 1237.8 2048.2 1241.4 2047.8 1244.9 2047.4 1248.5 2047.1 1252.1 2046.7 1255.6 2046.4 1259.2 2046.1 M618.6 2040.8 622.2 2039.7 625.7 2038.7 629.3 2037.8 632.8 2036.9 636.4 2036.2 640.0 2035.5 643.5 2034.9 647.1 2034.4 650.6 2033.9 654.2 2033.4 657.7 2033.0 661.3 2032.7 664.9 2032.4 668.4 2032.1 672.0 2031.8 675.5 2031.6 679.1 2031.3 682.7 2031.1 686.2 2030.9 689.8 2030.7 693.3 2030.6 696.9 2030.5 700.5 2030.4 704.0 2030.3 707.6 2030.3 711.1 2030.2 714.7 2030.1 718.2 2029.9 719.5 2029.9 721.8 2027.6 725.4 2022.5 725.9 2022.4 728.9 2025.8 732.3 2029.9 732.5 2029.9 736.0 2029.8 739.6 2029.8 743.2 2029.8 746.7 2029.7 750.3 2029.6 753.8 2029.6 757.4 2029.5 761.0 2029.5 764.5 2029.4 768.1 2029.4 771.6 2029.4 775.2 2029.4 778.7 2029.4 782.3 2029.3 785.9 2029.3 789.4 2029.3 793.0 2029.2 796.5 2028.5 800.1 2023.8 803.7 2019.1 807.2 2014.4 810.8 2009.5 814.3 2004.3 817.9 1998.8 821.5 1992.9 825.0 1986.6 828.6 1979.7 832.1 1972.4 835.7 1964.6 839.2 1956.4 842.8 1947.9 846.4 1939.2 849.9 1929.5 853.5 1918.6 857.0 1907.8 860.6 1898.4 864.2 1890.6 867.7 1883.7 871.3 1879.1 874.8 1876.3 878.4 1874.4 881.9 1874.0 885.5 1875.1 889.1 1876.8 892.6 1879.9 896.2 1884.3 899.7 1889.8 903.3 1897.0 906.9 1905.5 910.4 1914.8 914.0 1924.5 917.5 1934.1 921.1 1944.6 924.7 1955.7 928.2 1967.1 931.8 1978.3 935.3 1988.9 938.9 1998.9 942.4 2008.7 946.0 2018.3 949.6 2028.0 953.1 2038.0 956.7 2048.5 960.2 2059.4 963.8 2070.6 967.4 2082.0 970.9 2093.3 974.5 2104.6 978.0 2116.7 981.6 2129.3 985.2 2141.4 988.7 2152.1 992.3 2160.3 995.8 2167.3 999.4 2173.8 1002.9 2179.0 1006.5 2182.0 1010.1 2182.1 1013.6 2180.8 1017.2 2178.4 1020.7 2175.5 1024.3 2172.2 1027.9 2168.3 1031.4 2162.7 1035.0 2156.1 1038.5 2149.0 1042.1 2142.2 1045.7 2136.4 1049.2 2130.8 1052.8 2125.1 1056.3 2119.6 1059.9 2114.4 1063.4 2109.6 1067.0 2105.3 1070.6 2101.9 1074.1 2098.9 1077.7 2096.1 1081.2 2093.6 1084.8 2091.2 1088.4 2089.0 1091.9 2087.0 1095.5 2085.0 1099.0 2083.2 1102.6 2081.4 1106.2 2079.7 1109.7 2077.9 1113.3 2076.1 1116.8 2074.2 1120.4 2072.3 1123.9 2070.5 1127.5 2068.7 1131.1 2067.0 1134.6 2065.6 1138.2 2064.4 1141.7 2063.5 1145.3 2062.9 1148.7 2062.7 1148.9 2062.7 1152.4 2063.4 1155.1 2063.8 1156.0 2063.6 1159.5 2061.1 1161.5 2059.8 1163.1 2059.3 1166.7 2058.3 1170.2 2057.3 1173.8 2056.5 1177.3 2055.7 1180.9 2055.0 1184.4 2054.4 1188.0 2053.8 1191.6 2053.3 1195.1 2052.8 1198.7 2052.3 1202.2 2051.9 1205.8 2051.4 1209.4 2050.9 1212.9 2050.4 1216.5 2049.8 1220.0 2049.3 1223.6 2048.9 1227.2 2048.4 1230.7 2047.9 1234.3 2047.5 1237.8 2047.0 1241.4 2046.6 1244.9 2046.2 1248.5 2045.8 1252.1 2045.5 1255.6 2045.1 1259.2 2044.8 M618.6 2041.4 622.2 2040.6 625.7 2039.8 629.3 2039.0 632.8 2038.3 636.4 2037.7 640.0 2037.2 643.5 2036.7 647.1 2036.3 650.6 2035.9 654.2 2035.5 657.7 2035.2 661.3 2034.9 664.9 2034.7 668.4 2034.5 672.0 2034.2 675.5 2034.0 679.1 2033.8 682.7 2033.7 686.2 2033.5 689.8 2033.4 693.3 2033.3 696.9 2033.2 700.5 2033.1 704.0 2033.1 707.6 2033.0 711.1 2033.0 714.7 2032.9 718.2 2032.7 719.5 2032.7 721.8 2030.7 725.4 2026.5 725.9 2026.3 728.9 2028.7 732.3 2032.7 732.5 2032.8 736.0 2034.8 739.6 2036.4 743.2 2037.8 746.7 2039.1 750.3 2040.4 753.8 2041.7 757.4 2043.1 761.0 2044.3 764.5 2045.5 768.1 2046.4 771.6 2047.1 775.2 2047.7 778.7 2048.2 782.3 2048.7 785.9 2049.1 789.4 2049.4 793.0 2049.6 796.5 2049.6 800.1 2049.6 803.7 2049.5 807.2 2048.0 810.8 2040.6 814.3 2032.9 817.9 2046.7 821.5 2040.0 825.0 2020.0 828.6 2000.1 832.1 1987.8 835.7 1977.4 839.2 1968.0 842.8 1959.1 846.4 1950.0 849.9 1940.4 853.5 1930.7 857.0 1921.4 860.6 1913.3 864.2 1906.4 867.7 1900.1 871.3 1896.0 874.8 1893.5 878.4 1891.8 881.9 1891.5 885.5 1892.4 889.1 1894.0 892.6 1896.7 896.2 1900.5 899.7 1905.3 903.3 1911.6 906.9 1919.1 910.4 1927.3 914.0 1935.9 917.5 1944.4 921.1 1953.6 924.7 1963.4 928.2 1973.5 931.8 1983.5 935.3 1993.0 938.9 2001.9 942.4 2010.4 946.0 2018.8 949.6 2027.4 953.1 2036.3 956.7 2045.9 960.2 2056.4 963.8 2067.5 967.4 2079.0 970.9 2090.5 974.5 2101.8 978.0 2113.7 981.6 2126.2 985.2 2138.3 988.7 2149.1 992.3 2157.6 995.8 2164.5 999.4 2171.0 1002.9 2176.3 1006.5 2179.3 1010.1 2179.4 1013.6 2178.1 1017.2 2175.8 1020.7 2172.9 1024.3 2169.7 1027.9 2165.9 1031.4 2160.4 1035.0 2153.9 1038.5 2146.9 1042.1 2140.3 1045.7 2134.6 1049.2 2129.0 1052.8 2123.5 1056.3 2118.1 1059.9 2113.0 1063.4 2108.3 1067.0 2104.1 1070.6 2100.7 1074.1 2097.8 1077.7 2095.1 1081.2 2092.7 1084.8 2090.4 1088.4 2088.3 1091.9 2086.3 1095.5 2084.4 1099.0 2082.6 1102.6 2080.8 1106.2 2079.1 1109.7 2077.4 1113.3 2075.6 1116.8 2073.7 1120.4 2071.7 1123.9 2069.9 1127.5 2068.1 1131.1 2066.4 1134.6 2064.9 1138.2 2063.7 1141.7 2062.8 1145.3 2062.2 1148.7 2062.0 1148.9 2062.0 1152.4 2062.7 1155.1 2063.1 1156.0 2062.9 1159.5 2060.3 1161.5 2059.1 1163.1 2058.6 1166.7 2057.5 1170.2 2056.5 1173.8 2055.7 1177.3 2054.9 1180.9 2054.2 1184.4 2053.6 1188.0 2053.0 1191.6 2052.5 1195.1 2052.0 1198.7 2051.5 1202.2 2051.0 1205.8 2050.5 1209.4 2050.0 1212.9 2049.4 1216.5 2048.9 1220.0 2048.4 1223.6 2047.8 1227.2 2047.3 1230.7 2046.9 1234.3 2046.4 1237.8 2045.9 1241.4 2045.5 1244.9 2045.0 1248.5 2044.6 1252.1 2044.2 1255.6 2043.9 1259.2 2043.5 M618.6 2042.0 622.2 2041.4 625.7 2040.8 629.3 2040.2 632.8 2039.7 636.4 2039.2 640.0 2038.8 643.5 2038.5 647.1 2038.1 650.6 2037.9 654.2 2037.6 657.7 2037.3 661.3 2037.1 664.9 2036.9 668.4 2036.8 672.0 2036.6 675.5 2036.4 679.1 2036.3 682.7 2036.2 686.2 2036.1 689.8 2036.0 693.3 2035.9 696.9 2035.8 700.5 2035.7 704.0 2035.7 707.6 2035.7 711.1 2035.6 714.7 2035.6 718.2 2035.5 719.5 2035.4 721.8 2033.8 725.4 2030.3 725.9 2030.2 728.9 2031.9 732.3 2035.4 732.5 2035.6 736.0 2038.9 739.6 2042.5 743.2 2045.9 746.7 2049.1 750.3 2052.1 753.8 2055.0 757.4 2057.8 761.0 2060.1 764.5 2061.8 768.1 2063.1 771.6 2064.3 775.2 2065.3 778.7 2066.0 782.3 2066.5 785.9 2066.5 789.4 2066.3 793.0 2066.0 796.5 2065.5 800.1 2064.6 803.7 2063.1 807.2 2061.0 810.8 2054.2 814.3 2042.2 817.9 2031.6 821.5 2022.1 825.0 2012.8 828.6 2003.6 832.1 1994.6 835.7 1985.6 839.2 1976.7 842.8 1968.0 846.4 1959.5 849.9 1950.8 853.5 1942.1 857.0 1933.8 860.6 1926.5 864.2 1920.2 867.7 1914.6 871.3 1910.9 874.8 1908.7 878.4 1907.2 881.9 1906.8 885.5 1907.7 889.1 1909.1 892.6 1911.5 896.2 1914.8 899.7 1919.0 903.3 1924.5 906.9 1931.1 910.4 1938.4 914.0 1946.0 917.5 1953.6 921.1 1961.7 924.7 1970.4 928.2 1979.4 931.8 1988.3 935.3 1996.8 938.9 2004.7 942.4 2012.2 946.0 2019.6 949.6 2027.1 953.1 2035.0 956.7 2043.7 960.2 2053.6 963.8 2064.4 967.4 2075.9 970.9 2087.6 974.5 2099.0 978.0 2110.7 981.6 2123.1 985.2 2135.3 988.7 2146.2 992.3 2154.8 995.8 2161.7 999.4 2168.3 1002.9 2173.6 1006.5 2176.6 1010.1 2176.7 1013.6 2175.4 1017.2 2173.2 1020.7 2170.3 1024.3 2167.2 1027.9 2163.4 1031.4 2158.1 1035.0 2151.7 1038.5 2144.9 1042.1 2138.4 1045.7 2132.8 1049.2 2127.3 1052.8 2121.9 1056.3 2116.6 1059.9 2111.6 1063.4 2107.0 1067.0 2102.9 1070.6 2099.6 1074.1 2096.7 1077.7 2094.1 1081.2 2091.8 1084.8 2089.6 1088.4 2087.5 1091.9 2085.6 1095.5 2083.7 1099.0 2082.0 1102.6 2080.3 1106.2 2078.6 1109.7 2076.9 1113.3 2075.0 1116.8 2073.1 1120.4 2071.2 1123.9 2069.3 1127.5 2067.4 1131.1 2065.8 1134.6 2064.3 1138.2 2063.0 1141.7 2062.1 1145.3 2061.5 1148.7 2061.3 1148.9 2061.3 1152.4 2062.0 1155.1 2062.4 1156.0 2062.2 1159.5 2059.6 1161.5 2058.4 1163.1 2057.9 1166.7 2056.8 1170.2 2055.8 1173.8 2054.9 1177.3 2054.1 1180.9 2053.4 1184.4 2052.8 1188.0 2052.2 1191.6 2051.7 1195.1 2051.2 1198.7 2050.7 1202.2 2050.1 1205.8 2049.6 1209.4 2049.1 1212.9 2048.5 1216.5 2047.9 1220.0 2047.4 1223.6 2046.8 1227.2 2046.3 1230.7 2045.8 1234.3 2045.3 1237.8 2044.8 1241.4 2044.3 1244.9 2043.9 1248.5 2043.4 1252.1 2043.0 1255.6 2042.6 1259.2 2042.2 M618.6 2042.6 622.2 2042.2 625.7 2041.8 629.3 2041.4 632.8 2041.0 636.4 2040.7 640.0 2040.4 643.5 2040.2 647.1 2040.0 650.6 2039.7 654.2 2039.6 657.7 2039.4 661.3 2039.3 664.9 2039.1 668.4 2039.0 672.0 2038.9 675.5 2038.8 679.1 2038.7 682.7 2038.6 686.2 2038.5 689.8 2038.4 693.3 2038.4 696.9 2038.3 700.5 2038.3 704.0 2038.3 707.6 2038.3 711.1 2038.2 714.7 2038.2 718.2 2038.1 719.5 2038.1 721.8 2036.8 725.4 2034.1 725.9 2034.0 728.9 2035.2 732.3 2038.1 732.5 2038.2 736.0 2043.4 739.6 2050.7 743.2 2057.4 746.7 2063.1 750.3 2068.7 753.8 2073.7 757.4 2077.3 761.0 2079.8 764.5 2082.0 768.1 2083.7 771.6 2084.7 775.2 2084.7 778.7 2084.4 782.3 2083.8 785.9 2082.9 789.4 2080.9 793.0 2078.1 796.5 2074.7 800.1 2070.6 803.7 2065.2 807.2 2058.8 810.8 2051.6 814.3 2044.1 817.9 2036.3 821.5 2027.1 825.0 2017.2 828.6 2007.6 832.1 1999.0 835.7 1990.8 839.2 1982.9 842.8 1975.1 846.4 1967.5 849.9 1959.7 853.5 1951.7 857.0 1944.2 860.6 1937.6 864.2 1932.0 867.7 1926.9 871.3 1923.5 874.8 1921.5 878.4 1920.1 881.9 1919.8 885.5 1920.6 889.1 1921.9 892.6 1924.0 896.2 1926.9 899.7 1930.6 903.3 1935.4 906.9 1941.3 910.4 1947.8 914.0 1954.6 917.5 1961.4 921.1 1968.6 924.7 1976.3 928.2 1984.3 931.8 1992.4 935.3 2000.1 938.9 2007.2 942.4 2013.9 946.0 2020.3 949.6 2026.9 953.1 2034.0 956.7 2041.8 960.2 2050.9 963.8 2061.5 967.4 2072.9 970.9 2084.7 974.5 2096.2 978.0 2107.7 981.6 2120.0 985.2 2132.2 988.7 2143.3 992.3 2152.1 995.8 2158.9 999.4 2165.5 1002.9 2170.8 1006.5 2173.9 1010.1 2174.0 1013.6 2172.7 1017.2 2170.5 1020.7 2167.7 1024.3 2164.6 1027.9 2161.0 1031.4 2155.7 1035.0 2149.5 1038.5 2142.8 1042.1 2136.4 1045.7 2130.9 1049.2 2125.6 1052.8 2120.3 1056.3 2115.1 1059.9 2110.2 1063.4 2105.7 1067.0 2101.7 1070.6 2098.4 1074.1 2095.7 1077.7 2093.2 1081.2 2090.9 1084.8 2088.7 1088.4 2086.7 1091.9 2084.9 1095.5 2083.1 1099.0 2081.4 1102.6 2079.7 1106.2 2078.0 1109.7 2076.3 1113.3 2074.5 1116.8 2072.6 1120.4 2070.6 1123.9 2068.7 1127.5 2066.8 1131.1 2065.1 1134.6 2063.6 1138.2 2062.3 1141.7 2061.4 1145.3 2060.8 1148.7 2060.6 1148.9 2060.6 1152.4 2061.2 1155.1 2061.6 1156.0 2061.5 1159.5 2058.9 1161.5 2057.7 1163.1 2057.1 1166.7 2056.0 1170.2 2055.0 1173.8 2054.2 1177.3 2053.4 1180.9 2052.7 1184.4 2052.0 1188.0 2051.4 1191.6 2050.9 1195.1 2050.3 1198.7 2049.8 1202.2 2049.3 1205.8 2048.7 1209.4 2048.1 1212.9 2047.5 1216.5 2047.0 1220.0 2046.4 1223.6 2045.8 1227.2 2045.3 1230.7 2044.7 1234.3 2044.2 1237.8 2043.7 1241.4 2043.2 1244.9 2042.7 1248.5 2042.2 1252.1 2041.7 1255.6 2041.3 1259.2 2040.8 M618.6 2043.2 622.2 2042.9 625.7 2042.7 629.3 2042.5 632.8 2042.3 636.4 2042.1 640.0 2041.9 643.5 2041.8 647.1 2041.7 650.6 2041.5 654.2 2041.4 657.7 2041.4 661.3 2041.3 664.9 2041.2 668.4 2041.1 672.0 2041.1 675.5 2041.0 679.1 2040.9 682.7 2040.9 686.2 2040.9 689.8 2040.8 693.3 2040.8 696.9 2040.8 700.5 2040.7 704.0 2040.7 707.6 2040.7 711.1 2040.7 714.7 2040.7 718.2 2040.6 719.5 2040.6 721.8 2039.7 725.4 2037.7 725.9 2037.7 728.9 2038.4 732.3 2040.6 732.5 2040.7 736.0 2050.0 739.6 2063.8 743.2 2074.5 746.7 2084.8 750.3 2092.7 753.8 2097.5 757.4 2101.4 761.0 2103.6 764.5 2103.8 768.1 2103.3 771.6 2102.5 775.2 2101.1 778.7 2097.8 782.3 2093.5 785.9 2089.0 789.4 2084.8 793.0 2080.4 796.5 2075.8 800.1 2070.9 803.7 2065.8 807.2 2060.2 810.8 2054.2 814.3 2047.8 817.9 2040.5 821.5 2031.1 825.0 2020.6 828.6 2010.7 832.1 2002.4 835.7 1994.8 839.2 1987.6 842.8 1980.6 846.4 1973.7 849.9 1966.5 853.5 1959.2 857.0 1952.3 860.6 1946.2 864.2 1941.0 867.7 1936.3 871.3 1933.2 874.8 1931.4 878.4 1930.1 881.9 1929.9 885.5 1930.6 889.1 1931.7 892.6 1933.6 896.2 1936.3 899.7 1939.5 903.3 1943.9 906.9 1949.1 910.4 1955.0 914.0 1961.2 917.5 1967.4 921.1 1973.9 924.7 1980.9 928.2 1988.1 931.8 1995.4 935.3 2002.5 938.9 2009.1 942.4 2015.1 946.0 2020.9 949.6 2026.8 953.1 2033.1 956.7 2040.2 960.2 2048.5 963.8 2058.6 967.4 2069.9 970.9 2081.8 974.5 2093.4 978.0 2104.8 981.6 2117.0 985.2 2129.2 988.7 2140.3 992.3 2149.3 995.8 2156.2 999.4 2162.7 1002.9 2168.1 1006.5 2171.1 1010.1 2171.3 1013.6 2170.0 1017.2 2167.9 1020.7 2165.2 1024.3 2162.1 1027.9 2158.6 1031.4 2153.4 1035.0 2147.3 1038.5 2140.8 1042.1 2134.5 1045.7 2129.1 1049.2 2123.9 1052.8 2118.7 1056.3 2113.6 1059.9 2108.8 1063.4 2104.4 1067.0 2100.5 1070.6 2097.3 1074.1 2094.6 1077.7 2092.2 1081.2 2089.9 1084.8 2087.9 1088.4 2086.0 1091.9 2084.2 1095.5 2082.4 1099.0 2080.8 1102.6 2079.1 1106.2 2077.5 1109.7 2075.8 1113.3 2073.9 1116.8 2072.0 1120.4 2070.0 1123.9 2068.1 1127.5 2066.2 1131.1 2064.5 1134.6 2062.9 1138.2 2061.6 1141.7 2060.7 1145.3 2060.0 1148.7 2059.8 1148.9 2059.8 1152.4 2060.5 1155.1 2060.9 1156.0 2060.7 1159.5 2058.2 1161.5 2056.9 1163.1 2056.4 1166.7 2055.3 1170.2 2054.3 1173.8 2053.4 1177.3 2052.6 1180.9 2051.9 1184.4 2051.2 1188.0 2050.6 1191.6 2050.1 1195.1 2049.5 1198.7 2049.0 1202.2 2048.4 1205.8 2047.8 1209.4 2047.2 1212.9 2046.6 1216.5 2046.0 1220.0 2045.4 1223.6 2044.8 1227.2 2044.2 1230.7 2043.7 1234.3 2043.1 1237.8 2042.6 1241.4 2042.0 1244.9 2041.5 1248.5 2041.0 1252.1 2040.5 1255.6 2040.0 1259.2 2039.5" fill="none" stroke="#ff0000" stroke-width="2.2" stroke-linejoin="round"/>
<path d="M618.6 2036.9 622.2 2034.5 625.7 2032.2 629.3 2030.0 632.8 2028.1 636.4 2026.3 640.0 2024.8 643.5 2023.5 647.1 2022.3 650.6 2021.1 654.2 2020.1 657.7 2019.2 661.3 2018.5 664.9 2017.8 668.4 2017.1 672.0 2016.5 675.5 2015.9 679.1 2015.3 682.7 2014.8 686.2 2014.4 689.8 2014.0 693.3 2013.7 696.9 2013.4 700.5 2013.2 704.0 2013.1 707.6 2013.0 711.1 2012.8 714.7 2012.6 718.2 2012.2 719.5 2012.0 721.8 2008.6 725.4 2001.4 725.9 2001.2 728.9 2006.1 732.3 2012.0 732.5 2012.0 736.0 2012.0 739.6 2012.0 743.2 2011.9 746.7 2011.9 750.3 2011.8 753.8 2011.7 757.4 2011.7 761.0 2011.7 764.5 2011.6 768.1 2011.6 771.6 2011.6 775.2 2011.6 778.7 2011.6 782.3 2011.6 785.9 2011.5 789.4 2011.5 793.0 2011.5 796.5 2011.5 800.1 2011.4 803.7 2011.3 807.2 2011.2 810.8 2010.5 814.3 2008.9 817.9 2005.1 821.5 1999.6 825.0 1992.9 828.6 1985.6 832.1 1978.1 835.7 1970.7 839.2 1962.2 842.8 1952.8 846.4 1942.7 849.9 1932.0 853.5 1921.0 857.0 1909.8 860.6 1897.3 864.2 1883.5 867.7 1870.0 871.3 1858.4 874.8 1848.7 878.4 1840.2 881.9 1834.8 885.5 1831.5 889.1 1829.3 892.6 1829.0 896.2 1830.6 899.7 1833.0 903.3 1837.6 906.9 1843.9 910.4 1851.9 914.0 1862.1 917.5 1873.7 921.1 1886.2 924.7 1898.8 928.2 1911.9 931.8 1926.2 935.3 1941.1 938.9 1956.0 942.4 1970.2 946.0 1984.0 949.6 1997.9 953.1 2011.6 956.7 2024.6 960.2 2036.6 963.8 2047.4 967.4 2056.9 970.9 2065.7 974.5 2074.1 978.0 2082.2 981.6 2090.6 985.2 2099.5 988.7 2109.1 992.3 2119.0 995.8 2128.4 999.4 2136.7 1002.9 2143.5 1006.5 2148.9 1010.1 2154.2 1013.6 2158.8 1017.2 2162.0 1020.7 2163.4 1024.3 2162.8 1027.9 2161.3 1031.4 2159.0 1035.0 2156.3 1038.5 2153.5 1042.1 2149.5 1045.7 2144.3 1049.2 2138.3 1052.8 2132.3 1056.3 2126.7 1059.9 2121.8 1063.4 2117.0 1067.0 2112.1 1070.6 2107.4 1074.1 2103.0 1077.7 2099.1 1081.2 2095.7 1084.8 2092.9 1088.4 2090.5 1091.9 2088.3 1095.5 2086.4 1099.0 2084.6 1102.6 2082.9 1106.2 2081.3 1109.7 2079.6 1113.3 2077.9 1116.8 2076.0 1120.4 2074.2 1123.9 2072.4 1127.5 2070.7 1131.1 2069.1 1134.6 2067.7 1138.2 2066.5 1141.7 2065.6 1145.3 2065.1 1148.7 2064.9 1148.9 2064.9 1152.4 2065.6 1155.1 2066.0 1156.0 2065.8 1159.5 2063.2 1161.5 2062.0 1163.1 2061.5 1166.7 2060.5 1170.2 2059.6 1173.8 2058.8 1177.3 2058.0 1180.9 2057.4 1184.4 2056.8 1188.0 2056.3 1191.6 2055.8 1195.1 2055.3 1198.7 2054.9 1202.2 2054.5 1205.8 2054.0 1209.4 2053.6 1212.9 2053.2 1216.5 2052.7 1220.0 2052.3 1223.6 2051.9 1227.2 2051.5 1230.7 2051.1 1234.3 2050.8 1237.8 2050.4 1241.4 2050.1 1244.9 2049.8 1248.5 2049.5 1252.1 2049.2 1255.6 2049.0 1259.2 2048.8 M618.6 2037.2 622.2 2034.9 625.7 2032.7 629.3 2030.7 632.8 2028.9 636.4 2027.2 640.0 2025.7 643.5 2024.5 647.1 2023.3 650.6 2022.2 654.2 2021.3 657.7 2020.4 661.3 2019.7 664.9 2019.0 668.4 2018.4 672.0 2017.8 675.5 2017.2 679.1 2016.7 682.7 2016.2 686.2 2015.8 689.8 2015.4 693.3 2015.1 696.9 2014.9 700.5 2014.7 704.0 2014.6 707.6 2014.5 711.1 2014.3 714.7 2014.1 718.2 2013.7 719.5 2013.6 721.8 2010.3 725.4 2003.3 725.9 2003.1 728.9 2007.9 732.3 2013.6 732.5 2013.6 736.0 2013.6 739.6 2013.5 743.2 2013.5 746.7 2013.4 750.3 2013.3 753.8 2013.3 757.4 2013.2 761.0 2013.2 764.5 2013.2 768.1 2013.1 771.6 2013.1 775.2 2013.1 778.7 2013.1 782.3 2013.1 785.9 2013.1 789.4 2013.0 793.0 2013.0 796.5 2013.0 800.1 2012.9 803.7 2012.9 807.2 2012.7 810.8 2012.0 814.3 2010.4 817.9 2006.8 821.5 2001.4 825.0 1994.9 828.6 1987.8 832.1 1980.6 835.7 1973.3 839.2 1965.1 842.8 1956.1 846.4 1946.4 849.9 1936.1 853.5 1925.6 857.0 1914.8 860.6 1902.7 864.2 1889.4 867.7 1876.4 871.3 1865.2 874.8 1855.9 878.4 1847.7 881.9 1842.6 885.5 1839.3 889.1 1837.2 892.6 1837.0 896.2 1838.4 899.7 1840.7 903.3 1845.2 906.9 1851.2 910.4 1858.8 914.0 1868.5 917.5 1879.6 921.1 1891.6 924.7 1903.7 928.2 1916.2 931.8 1929.9 935.3 1944.2 938.9 1958.5 942.4 1972.2 946.0 1985.4 949.6 1998.6 953.1 2011.7 956.7 2024.2 960.2 2035.9 963.8 2046.5 967.4 2056.0 970.9 2064.8 974.5 2073.2 978.0 2081.4 981.6 2089.7 985.2 2098.5 988.7 2108.1 992.3 2117.9 995.8 2127.4 999.4 2135.7 1002.9 2142.5 1006.5 2147.9 1010.1 2153.2 1013.6 2157.8 1017.2 2161.0 1020.7 2162.4 1024.3 2161.9 1027.9 2160.3 1031.4 2158.1 1035.0 2155.4 1038.5 2152.6 1042.1 2148.7 1045.7 2143.5 1049.2 2137.6 1052.8 2131.5 1056.3 2126.0 1059.9 2121.2 1063.4 2116.4 1067.0 2111.5 1070.6 2106.9 1074.1 2102.5 1077.7 2098.6 1081.2 2095.2 1084.8 2092.5 1088.4 2090.1 1091.9 2088.0 1095.5 2086.1 1099.0 2084.3 1102.6 2082.7 1106.2 2081.1 1109.7 2079.4 1113.3 2077.7 1116.8 2075.9 1120.4 2074.0 1123.9 2072.2 1127.5 2070.5 1131.1 2068.9 1134.6 2067.5 1138.2 2066.3 1141.7 2065.4 1145.3 2064.8 1148.7 2064.6 1148.9 2064.6 1152.4 2065.3 1155.1 2065.7 1156.0 2065.6 1159.5 2063.0 1161.5 2061.7 1163.1 2061.2 1166.7 2060.2 1170.2 2059.3 1173.8 2058.5 1177.3 2057.7 1180.9 2057.1 1184.4 2056.5 1188.0 2056.0 1191.6 2055.5 1195.1 2055.0 1198.7 2054.6 1202.2 2054.1 1205.8 2053.7 1209.4 2053.3 1212.9 2052.8 1216.5 2052.4 1220.0 2052.0 1223.6 2051.5 1227.2 2051.1 1230.7 2050.8 1234.3 2050.4 1237.8 2050.0 1241.4 2049.7 1244.9 2049.4 1248.5 2049.1 1252.1 2048.8 1255.6 2048.5 1259.2 2048.3 M618.6 2037.6 622.2 2035.4 625.7 2033.3 629.3 2031.4 632.8 2029.6 636.4 2028.0 640.0 2026.7 643.5 2025.5 647.1 2024.3 650.6 2023.3 654.2 2022.4 657.7 2021.6 661.3 2020.9 664.9 2020.3 668.4 2019.7 672.0 2019.1 675.5 2018.6 679.1 2018.1 682.7 2017.6 686.2 2017.2 689.8 2016.9 693.3 2016.6 696.9 2016.3 700.5 2016.2 704.0 2016.1 707.6 2016.0 711.1 2015.8 714.7 2015.6 718.2 2015.3 719.5 2015.1 721.8 2012.0 725.4 2005.3 725.9 2005.1 728.9 2009.6 732.3 2015.1 732.5 2015.1 736.0 2015.1 739.6 2015.1 743.2 2015.0 746.7 2014.9 750.3 2014.9 753.8 2014.8 757.4 2014.8 761.0 2014.7 764.5 2014.7 768.1 2014.7 771.6 2014.7 775.2 2014.6 778.7 2014.6 782.3 2014.6 785.9 2014.6 789.4 2014.6 793.0 2014.5 796.5 2014.5 800.1 2014.5 803.7 2014.4 807.2 2014.2 810.8 2013.5 814.3 2012.0 817.9 2008.4 821.5 2003.2 825.0 1996.9 828.6 1990.0 832.1 1983.0 835.7 1975.9 839.2 1968.0 842.8 1959.3 846.4 1950.0 849.9 1940.2 853.5 1930.0 857.0 1919.6 860.6 1908.0 864.2 1895.2 867.7 1882.7 871.3 1871.9 874.8 1862.9 878.4 1855.0 881.9 1850.1 885.5 1847.0 889.1 1844.9 892.6 1844.7 896.2 1846.1 899.7 1848.3 903.3 1852.5 906.9 1858.3 910.4 1865.5 914.0 1874.8 917.5 1885.4 921.1 1896.9 924.7 1908.5 928.2 1920.5 931.8 1933.6 935.3 1947.2 938.9 1960.9 942.4 1974.1 946.0 1986.7 949.6 1999.4 953.1 2011.8 956.7 2023.9 960.2 2035.2 963.8 2045.6 967.4 2055.1 970.9 2063.9 974.5 2072.3 978.0 2080.5 981.6 2088.9 985.2 2097.6 988.7 2107.1 992.3 2116.9 995.8 2126.3 999.4 2134.7 1002.9 2141.5 1006.5 2146.9 1010.1 2152.2 1013.6 2156.8 1017.2 2160.0 1020.7 2161.4 1024.3 2160.9 1027.9 2159.4 1031.4 2157.1 1035.0 2154.5 1038.5 2151.7 1042.1 2147.8 1045.7 2142.6 1049.2 2136.8 1052.8 2130.8 1056.3 2125.3 1059.9 2120.6 1063.4 2115.7 1067.0 2111.0 1070.6 2106.4 1074.1 2102.0 1077.7 2098.1 1081.2 2094.8 1084.8 2092.1 1088.4 2089.8 1091.9 2087.7 1095.5 2085.8 1099.0 2084.1 1102.6 2082.5 1106.2 2080.8 1109.7 2079.2 1113.3 2077.5 1116.8 2075.7 1120.4 2073.8 1123.9 2072.0 1127.5 2070.3 1131.1 2068.7 1134.6 2067.2 1138.2 2066.0 1141.7 2065.1 1145.3 2064.6 1148.7 2064.4 1148.9 2064.4 1152.4 2065.0 1155.1 2065.5 1156.0 2065.3 1159.5 2062.7 1161.5 2061.5 1163.1 2061.0 1166.7 2059.9 1170.2 2059.0 1173.8 2058.2 1177.3 2057.5 1180.9 2056.8 1184.4 2056.2 1188.0 2055.7 1191.6 2055.2 1195.1 2054.7 1198.7 2054.3 1202.2 2053.8 1205.8 2053.4 1209.4 2052.9 1212.9 2052.5 1216.5 2052.0 1220.0 2051.6 1223.6 2051.2 1227.2 2050.8 1230.7 2050.4 1234.3 2050.0 1237.8 2049.6 1241.4 2049.3 1244.9 2048.9 1248.5 2048.6 1252.1 2048.3 1255.6 2048.1 1259.2 2047.8" fill="none" stroke="#0000ff" stroke-width="2.2" stroke-linejoin="round"/>
<path d="M618.6 2039.2 622.2 2037.6 625.7 2036.1 629.3 2034.6 632.8 2033.3 636.4 2032.2 640.0 2031.1 643.5 2030.2 647.1 2029.4 650.6 2028.7 654.2 2028.0 657.7 2027.4 661.3 2026.9 664.9 2026.4 668.4 2026.0 672.0 2025.5 675.5 2025.1 679.1 2024.8 682.7 2024.5 686.2 2024.2 689.8 2023.9 693.3 2023.7 696.9 2023.5 700.5 2023.4 704.0 2023.3 707.6 2023.2 711.1 2023.1 714.7 2023.0 718.2 2022.7 719.5 2022.6 721.8 2019.4 725.4 2012.5 725.9 2012.3 728.9 2017.0 732.3 2022.6 732.5 2022.6 736.0 2022.6 739.6 2022.5 743.2 2022.5 746.7 2022.4 750.3 2022.3 753.8 2022.3 757.4 2022.2 761.0 2022.2 764.5 2022.2 768.1 2022.1 771.6 2022.1 775.2 2022.1 778.7 2022.1 782.3 2022.1 785.9 2022.0 789.4 2022.0 793.0 2021.9 796.5 2021.3 800.1 2017.1 803.7 2012.2 807.2 2006.6 810.8 2000.2 814.3 1993.1 817.9 1985.5 821.5 1977.5 825.0 1969.3 828.6 1960.3 832.1 1950.8 835.7 1940.6 839.2 1930.0 842.8 1918.9 846.4 1907.5 849.9 1894.9 853.5 1880.7 857.0 1866.7 860.6 1854.4 864.2 1844.3 867.7 1835.3 871.3 1829.2 874.8 1825.7 878.4 1823.2 881.9 1822.7 885.5 1824.0 889.1 1826.4 892.6 1830.7 896.2 1836.9 899.7 1844.5 903.3 1854.5 906.9 1866.1 910.4 1878.7 914.0 1891.6 917.5 1904.7 921.1 1919.1 924.7 1934.2 928.2 1949.4 931.8 1964.1 935.3 1978.0 938.9 1991.8 942.4 2005.3 946.0 2018.6 949.6 2031.4 953.1 2043.9 956.7 2055.8 960.2 2067.2 963.8 2078.3 967.4 2089.3 970.9 2100.3 974.5 2111.8 978.0 2124.3 981.6 2137.0 985.2 2149.0 988.7 2159.3 992.3 2167.2 995.8 2174.2 999.4 2180.7 1002.9 2185.9 1006.5 2188.8 1010.1 2188.9 1013.6 2187.5 1017.2 2185.0 1020.7 2181.9 1024.3 2178.5 1027.9 2174.4 1031.4 2168.6 1035.0 2161.6 1038.5 2154.1 1042.1 2147.1 1045.7 2140.9 1049.2 2135.0 1052.8 2129.1 1056.3 2123.3 1059.9 2117.8 1063.4 2112.8 1067.0 2108.4 1070.6 2104.7 1074.1 2101.5 1077.7 2098.6 1081.2 2095.8 1084.8 2093.3 1088.4 2090.9 1091.9 2088.7 1095.5 2086.7 1099.0 2084.7 1102.6 2082.8 1106.2 2081.0 1109.7 2079.3 1113.3 2077.5 1116.8 2075.6 1120.4 2073.8 1123.9 2071.9 1127.5 2070.2 1131.1 2068.7 1134.6 2067.3 1138.2 2066.1 1141.7 2065.3 1145.3 2064.7 1148.7 2064.5 1148.9 2064.5 1152.4 2065.2 1155.1 2065.6 1156.0 2065.5 1159.5 2062.9 1161.5 2061.6 1163.1 2061.1 1166.7 2060.1 1170.2 2059.2 1173.8 2058.4 1177.3 2057.6 1180.9 2057.0 1184.4 2056.4 1188.0 2055.9 1191.6 2055.4 1195.1 2054.9 1198.7 2054.5 1202.2 2054.0 1205.8 2053.6 1209.4 2053.1 1212.9 2052.7 1216.5 2052.3 1220.0 2051.8 1223.6 2051.4 1227.2 2051.0 1230.7 2050.6 1234.3 2050.2 1237.8 2049.9 1241.4 2049.5 1244.9 2049.2 1248.5 2048.9 1252.1 2048.6 1255.6 2048.4 1259.2 2048.1" fill="none" stroke="#ff0000" stroke-width="2.2" stroke-linejoin="round"/>
<path d="M618.6 2037.9 622.2 2035.8 625.7 2033.9 629.3 2032.0 632.8 2030.4 636.4 2028.9 640.0 2027.6 643.5 2026.4 647.1 2025.4 650.6 2024.4 654.2 2023.6 657.7 2022.8 661.3 2022.1 664.9 2021.5 668.4 2020.9 672.0 2020.4 675.5 2019.9 679.1 2019.4 682.7 2019.0 686.2 2018.6 689.8 2018.3 693.3 2018.0 696.9 2017.8 700.5 2017.7 704.0 2017.5 707.6 2017.4 711.1 2017.3 714.7 2017.1 718.2 2016.8 719.5 2016.6 721.8 2013.6 725.4 2007.2 725.9 2007.0 728.9 2011.4 732.3 2016.6 732.5 2016.6 736.0 2016.6 739.6 2016.6 743.2 2016.5 746.7 2016.5 750.3 2016.4 753.8 2016.3 757.4 2016.3 761.0 2016.2 764.5 2016.2 768.1 2016.2 771.6 2016.2 775.2 2016.2 778.7 2016.1 782.3 2016.1 785.9 2016.1 789.4 2016.1 793.0 2016.1 796.5 2016.0 800.1 2016.0 803.7 2015.9 807.2 2015.8 810.8 2015.1 814.3 2013.5 817.9 2010.0 821.5 2004.9 825.0 1998.8 828.6 1992.1 832.1 1985.3 835.7 1978.5 839.2 1970.9 842.8 1962.5 846.4 1953.5 849.9 1944.1 853.5 1934.3 857.0 1924.3 860.6 1913.1 864.2 1900.8 867.7 1888.8 871.3 1878.4 874.8 1869.8 878.4 1862.2 881.9 1857.4 885.5 1854.4 889.1 1852.5 892.6 1852.3 896.2 1853.6 899.7 1855.7 903.3 1859.7 906.9 1865.2 910.4 1872.1 914.0 1880.9 917.5 1891.1 921.1 1902.1 924.7 1913.2 928.2 1924.6 931.8 1937.1 935.3 1950.2 938.9 1963.4 942.4 1976.0 946.0 1988.1 949.6 2000.2 953.1 2012.1 956.7 2023.6 960.2 2034.6 963.8 2044.8 967.4 2054.2 970.9 2063.0 974.5 2071.4 978.0 2079.7 981.6 2088.0 985.2 2096.7 988.7 2106.2 992.3 2115.9 995.8 2125.3 999.4 2133.7 1002.9 2140.5 1006.5 2146.0 1010.1 2151.2 1013.6 2155.8 1017.2 2159.1 1020.7 2160.4 1024.3 2159.9 1027.9 2158.4 1031.4 2156.2 1035.0 2153.6 1038.5 2150.8 1042.1 2146.9 1045.7 2141.8 1049.2 2136.0 1052.8 2130.1 1056.3 2124.6 1059.9 2119.9 1063.4 2115.1 1067.0 2110.4 1070.6 2105.8 1074.1 2101.5 1077.7 2097.7 1081.2 2094.4 1084.8 2091.7 1088.4 2089.4 1091.9 2087.4 1095.5 2085.5 1099.0 2083.8 1102.6 2082.2 1106.2 2080.6 1109.7 2079.0 1113.3 2077.3 1116.8 2075.5 1120.4 2073.6 1123.9 2071.8 1127.5 2070.1 1131.1 2068.4 1134.6 2067.0 1138.2 2065.8 1141.7 2064.9 1145.3 2064.3 1148.7 2064.1 1148.9 2064.1 1152.4 2064.8 1155.1 2065.2 1156.0 2065.0 1159.5 2062.4 1161.5 2061.2 1163.1 2060.7 1166.7 2059.7 1170.2 2058.7 1173.8 2057.9 1177.3 2057.2 1180.9 2056.5 1184.4 2055.9 1188.0 2055.4 1191.6 2054.9 1195.1 2054.4 1198.7 2054.0 1202.2 2053.5 1205.8 2053.1 1209.4 2052.6 1212.9 2052.1 1216.5 2051.7 1220.0 2051.2 1223.6 2050.8 1227.2 2050.4 1230.7 2050.0 1234.3 2049.6 1237.8 2049.2 1241.4 2048.8 1244.9 2048.5 1248.5 2048.2 1252.1 2047.9 1255.6 2047.6 1259.2 2047.3 M618.6 2038.2 622.2 2036.3 625.7 2034.4 629.3 2032.7 632.8 2031.1 636.4 2029.7 640.0 2028.5 643.5 2027.4 647.1 2026.4 650.6 2025.5 654.2 2024.7 657.7 2024.0 661.3 2023.3 664.9 2022.8 668.4 2022.2 672.0 2021.7 675.5 2021.2 679.1 2020.8 682.7 2020.4 686.2 2020.0 689.8 2019.7 693.3 2019.5 696.9 2019.2 700.5 2019.1 704.0 2019.0 707.6 2018.9 711.1 2018.8 714.7 2018.6 718.2 2018.3 719.5 2018.1 721.8 2015.3 725.4 2009.1 725.9 2008.9 728.9 2013.1 732.3 2018.1 732.5 2018.1 736.0 2018.1 739.6 2018.1 743.2 2018.0 746.7 2018.0 750.3 2017.9 753.8 2017.8 757.4 2017.8 761.0 2017.8 764.5 2017.7 768.1 2017.7 771.6 2017.7 775.2 2017.7 778.7 2017.7 782.3 2017.6 785.9 2017.6 789.4 2017.6 793.0 2017.6 796.5 2017.5 800.1 2017.5 803.7 2017.4 807.2 2017.3 810.8 2016.6 814.3 2015.1 817.9 2011.6 821.5 2006.7 825.0 2000.7 828.6 1994.1 832.1 1987.5 835.7 1981.0 839.2 1973.6 842.8 1965.6 846.4 1957.0 849.9 1947.9 853.5 1938.5 857.0 1928.9 860.6 1918.1 864.2 1906.3 867.7 1894.7 871.3 1884.8 874.8 1876.5 878.4 1869.2 881.9 1864.6 885.5 1861.7 889.1 1859.8 892.6 1859.6 896.2 1860.9 899.7 1863.0 903.3 1866.8 906.9 1872.0 910.4 1878.5 914.0 1886.9 917.5 1896.6 921.1 1907.1 924.7 1917.8 928.2 1928.7 931.8 1940.7 935.3 1953.2 938.9 1965.8 942.4 1978.0 946.0 1989.5 949.6 2001.0 953.1 2012.4 956.7 2023.4 960.2 2034.0 963.8 2044.0 967.4 2053.3 970.9 2062.1 974.5 2070.5 978.0 2078.8 981.6 2087.1 985.2 2095.8 988.7 2105.2 992.3 2114.9 995.8 2124.3 999.4 2132.7 1002.9 2139.6 1006.5 2145.0 1010.1 2150.2 1013.6 2154.8 1017.2 2158.1 1020.7 2159.4 1024.3 2158.9 1027.9 2157.4 1031.4 2155.2 1035.0 2152.6 1038.5 2149.9 1042.1 2146.1 1045.7 2141.0 1049.2 2135.2 1052.8 2129.4 1056.3 2124.0 1059.9 2119.3 1063.4 2114.5 1067.0 2109.8 1070.6 2105.3 1074.1 2101.0 1077.7 2097.2 1081.2 2093.9 1084.8 2091.3 1088.4 2089.1 1091.9 2087.1 1095.5 2085.3 1099.0 2083.6 1102.6 2082.0 1106.2 2080.4 1109.7 2078.8 1113.3 2077.1 1116.8 2075.3 1120.4 2073.4 1123.9 2071.6 1127.5 2069.8 1131.1 2068.2 1134.6 2066.8 1138.2 2065.5 1141.7 2064.6 1145.3 2064.0 1148.7 2063.8 1148.9 2063.8 1152.4 2064.5 1155.1 2064.9 1156.0 2064.8 1159.5 2062.2 1161.5 2060.9 1163.1 2060.5 1166.7 2059.4 1170.2 2058.5 1173.8 2057.6 1177.3 2056.9 1180.9 2056.2 1184.4 2055.6 1188.0 2055.1 1191.6 2054.6 1195.1 2054.1 1198.7 2053.7 1202.2 2053.2 1205.8 2052.7 1209.4 2052.3 1212.9 2051.8 1216.5 2051.3 1220.0 2050.9 1223.6 2050.4 1227.2 2050.0 1230.7 2049.6 1234.3 2049.2 1237.8 2048.8 1241.4 2048.4 1244.9 2048.1 1248.5 2047.7 1252.1 2047.4 1255.6 2047.1 1259.2 2046.9 M618.6 2038.6 622.2 2036.7 625.7 2035.0 629.3 2033.3 632.8 2031.9 636.4 2030.5 640.0 2029.4 643.5 2028.4 647.1 2027.4 650.6 2026.6 654.2 2025.8 657.7 2025.1 661.3 2024.5 664.9 2024.0 668.4 2023.5 672.0 2023.0 675.5 2022.6 679.1 2022.2 682.7 2021.8 686.2 2021.4 689.8 2021.1 693.3 2020.9 696.9 2020.7 700.5 2020.6 704.0 2020.5 707.6 2020.4 711.1 2020.2 714.7 2020.1 718.2 2019.8 719.5 2019.6 721.8 2016.9 725.4 2011.0 725.9 2010.8 728.9 2014.8 732.3 2019.6 732.5 2019.6 736.0 2019.6 739.6 2019.6 743.2 2019.5 746.7 2019.5 750.3 2019.4 753.8 2019.3 757.4 2019.3 761.0 2019.3 764.5 2019.2 768.1 2019.2 771.6 2019.2 775.2 2019.2 778.7 2019.2 782.3 2019.1 785.9 2019.1 789.4 2019.1 793.0 2019.1 796.5 2019.0 800.1 2019.0 803.7 2018.9 807.2 2018.8 810.8 2018.1 814.3 2016.6 817.9 2013.2 821.5 2008.4 825.0 2002.5 828.6 1996.2 832.1 1989.8 835.7 1983.4 839.2 1976.3 842.8 1968.6 846.4 1960.3 849.9 1951.6 853.5 1942.6 857.0 1933.4 860.6 1923.0 864.2 1911.6 867.7 1900.5 871.3 1890.9 874.8 1882.9 878.4 1875.9 881.9 1871.5 885.5 1868.8 889.1 1866.9 892.6 1866.8 896.2 1868.0 899.7 1870.0 903.3 1873.6 906.9 1878.5 910.4 1884.7 914.0 1892.8 917.5 1902.1 921.1 1912.1 924.7 1922.3 928.2 1932.7 931.8 1944.1 935.3 1956.1 938.9 1968.2 942.4 1979.9 946.0 1990.9 949.6 2001.9 953.1 2012.7 956.7 2023.2 960.2 2033.4 963.8 2043.2 967.4 2052.4 970.9 2061.2 974.5 2069.6 978.0 2077.9 981.6 2086.3 985.2 2094.9 988.7 2104.2 992.3 2113.9 995.8 2123.3 999.4 2131.7 1002.9 2138.6 1006.5 2144.0 1010.1 2149.2 1013.6 2153.8 1017.2 2157.1 1020.7 2158.4 1024.3 2157.9 1027.9 2156.5 1031.4 2154.3 1035.0 2151.7 1038.5 2148.9 1042.1 2145.2 1045.7 2140.2 1049.2 2134.4 1052.8 2128.6 1056.3 2123.3 1059.9 2118.6 1063.4 2113.9 1067.0 2109.2 1070.6 2104.7 1074.1 2100.5 1077.7 2096.7 1081.2 2093.5 1084.8 2090.9 1088.4 2088.7 1091.9 2086.7 1095.5 2085.0 1099.0 2083.3 1102.6 2081.8 1106.2 2080.2 1109.7 2078.6 1113.3 2076.9 1116.8 2075.1 1120.4 2073.2 1123.9 2071.4 1127.5 2069.6 1131.1 2068.0 1134.6 2066.5 1138.2 2065.3 1141.7 2064.4 1145.3 2063.8 1148.7 2063.6 1148.9 2063.6 1152.4 2064.3 1155.1 2064.7 1156.0 2064.5 1159.5 2061.9 1161.5 2060.7 1163.1 2060.2 1166.7 2059.1 1170.2 2058.2 1173.8 2057.4 1177.3 2056.6 1180.9 2056.0 1184.4 2055.3 1188.0 2054.8 1191.6 2054.3 1195.1 2053.8 1198.7 2053.3 1202.2 2052.9 1205.8 2052.4 1209.4 2051.9 1212.9 2051.5 1216.5 2051.0 1220.0 2050.5 1223.6 2050.1 1227.2 2049.6 1230.7 2049.2 1234.3 2048.8 1237.8 2048.4 1241.4 2048.0 1244.9 2047.6 1248.5 2047.3 1252.1 2047.0 1255.6 2046.7 1259.2 2046.4" fill="none" stroke="#0000ff" stroke-width="2.2" stroke-linejoin="round"/>
<path d="M618.6 2039.9 622.2 2038.5 625.7 2037.1 629.3 2035.9 632.8 2034.8 636.4 2033.8 640.0 2032.9 643.5 2032.1 647.1 2031.4 650.6 2030.8 654.2 2030.2 657.7 2029.7 661.3 2029.2 664.9 2028.8 668.4 2028.4 672.0 2028.1 675.5 2027.7 679.1 2027.4 682.7 2027.1 686.2 2026.9 689.8 2026.7 693.3 2026.5 696.9 2026.3 700.5 2026.2 704.0 2026.2 707.6 2026.1 711.1 2026.0 714.7 2025.8 718.2 2025.6 719.5 2025.5 721.8 2022.7 725.4 2016.5 725.9 2016.4 728.9 2020.5 732.3 2025.5 732.5 2025.5 736.0 2025.5 739.6 2025.5 743.2 2025.4 746.7 2025.4 750.3 2025.3 753.8 2025.2 757.4 2025.2 761.0 2025.1 764.5 2025.1 768.1 2025.1 771.6 2025.1 775.2 2025.1 778.7 2025.0 782.3 2025.0 785.9 2025.0 789.4 2024.9 793.0 2024.9 796.5 2024.2 800.1 2019.9 803.7 2015.2 807.2 2010.0 810.8 2004.2 814.3 1997.8 817.9 1991.1 821.5 1984.0 825.0 1976.6 828.6 1968.6 832.1 1959.9 835.7 1950.8 839.2 1941.2 842.8 1931.2 846.4 1920.9 849.9 1909.5 853.5 1896.8 857.0 1884.1 860.6 1873.0 864.2 1863.9 867.7 1855.8 871.3 1850.4 874.8 1847.2 878.4 1844.9 881.9 1844.4 885.5 1845.7 889.1 1847.8 892.6 1851.5 896.2 1857.0 899.7 1863.7 903.3 1872.4 906.9 1882.7 910.4 1893.9 914.0 1905.4 917.5 1917.0 921.1 1929.7 924.7 1943.1 928.2 1956.7 931.8 1969.9 935.3 1982.4 938.9 1994.5 942.4 2006.4 946.0 2018.1 949.6 2029.7 953.1 2041.3 956.7 2052.7 960.2 2064.0 963.8 2075.2 967.4 2086.4 970.9 2097.5 974.5 2108.9 978.0 2121.3 981.6 2133.9 985.2 2145.9 988.7 2156.4 992.3 2164.4 995.8 2171.4 999.4 2178.0 1002.9 2183.2 1006.5 2186.1 1010.1 2186.2 1013.6 2184.8 1017.2 2182.4 1020.7 2179.3 1024.3 2176.0 1027.9 2172.0 1031.4 2166.2 1035.0 2159.4 1038.5 2152.1 1042.1 2145.1 1045.7 2139.1 1049.2 2133.3 1052.8 2127.5 1056.3 2121.8 1059.9 2116.4 1063.4 2111.5 1067.0 2107.2 1070.6 2103.6 1074.1 2100.5 1077.7 2097.6 1081.2 2094.9 1084.8 2092.5 1088.4 2090.2 1091.9 2088.0 1095.5 2086.0 1099.0 2084.1 1102.6 2082.3 1106.2 2080.5 1109.7 2078.7 1113.3 2076.9 1116.8 2075.0 1120.4 2073.2 1123.9 2071.3 1127.5 2069.6 1131.1 2068.0 1134.6 2066.6 1138.2 2065.4 1141.7 2064.6 1145.3 2064.0 1148.7 2063.8 1148.9 2063.8 1152.4 2064.5 1155.1 2064.9 1156.0 2064.7 1159.5 2062.1 1161.5 2060.9 1163.1 2060.4 1166.7 2059.4 1170.2 2058.4 1173.8 2057.6 1177.3 2056.9 1180.9 2056.2 1184.4 2055.6 1188.0 2055.1 1191.6 2054.5 1195.1 2054.1 1198.7 2053.6 1202.2 2053.2 1205.8 2052.7 1209.4 2052.2 1212.9 2051.8 1216.5 2051.3 1220.0 2050.8 1223.6 2050.4 1227.2 2050.0 1230.7 2049.5 1234.3 2049.1 1237.8 2048.7 1241.4 2048.4 1244.9 2048.0 1248.5 2047.7 1252.1 2047.4 1255.6 2047.1 1259.2 2046.8" fill="none" stroke="#ff0000" stroke-width="2.2" stroke-linejoin="round"/>
<path d="M618.6 2038.9 622.2 2037.2 625.7 2035.5 629.3 2034.0 632.8 2032.6 636.4 2031.4 640.0 2030.3 643.5 2029.3 647.1 2028.4 650.6 2027.6 654.2 2026.9 657.7 2026.3 661.3 2025.7 664.9 2025.2 668.4 2024.7 672.0 2024.3 675.5 2023.9 679.1 2023.5 682.7 2023.1 686.2 2022.8 689.8 2022.5 693.3 2022.3 696.9 2022.1 700.5 2022.0 704.0 2021.9 707.6 2021.8 711.1 2021.7 714.7 2021.5 718.2 2021.3 719.5 2021.1 721.8 2018.5 725.4 2012.9 725.9 2012.7 728.9 2016.6 732.3 2021.1 732.5 2021.1 736.0 2021.1 739.6 2021.1 743.2 2021.0 746.7 2021.0 750.3 2020.9 753.8 2020.8 757.4 2020.8 761.0 2020.7 764.5 2020.7 768.1 2020.7 771.6 2020.7 775.2 2020.7 778.7 2020.7 782.3 2020.6 785.9 2020.6 789.4 2020.6 793.0 2020.6 796.5 2020.5 800.1 2020.5 803.7 2020.4 807.2 2020.3 810.8 2019.6 814.3 2018.1 817.9 2014.8 821.5 2010.0 825.0 2004.3 828.6 1998.1 832.1 1991.9 835.7 1985.7 839.2 1978.9 842.8 1971.5 846.4 1963.5 849.9 1955.2 853.5 1946.5 857.0 1937.7 860.6 1927.8 864.2 1916.8 867.7 1906.1 871.3 1896.9 874.8 1889.3 878.4 1882.5 881.9 1878.3 885.5 1875.6 889.1 1873.9 892.6 1873.7 896.2 1874.9 899.7 1876.8 903.3 1880.2 906.9 1884.9 910.4 1890.8 914.0 1898.5 917.5 1907.3 921.1 1916.9 924.7 1926.7 928.2 1936.7 931.8 1947.5 935.3 1959.0 938.9 1970.5 942.4 1981.7 946.0 1992.3 949.6 2002.8 953.1 2013.1 956.7 2023.1 960.2 2033.0 963.8 2042.4 967.4 2051.5 970.9 2060.2 974.5 2068.7 978.0 2077.1 981.6 2085.4 985.2 2094.0 988.7 2103.3 992.3 2112.9 995.8 2122.3 999.4 2130.7 1002.9 2137.6 1006.5 2143.0 1010.1 2148.3 1013.6 2152.8 1017.2 2156.1 1020.7 2157.4 1024.3 2156.9 1027.9 2155.5 1031.4 2153.3 1035.0 2150.8 1038.5 2148.0 1042.1 2144.3 1045.7 2139.3 1049.2 2133.7 1052.8 2127.9 1056.3 2122.6 1059.9 2118.0 1063.4 2113.3 1067.0 2108.7 1070.6 2104.2 1074.1 2100.0 1077.7 2096.3 1081.2 2093.1 1084.8 2090.5 1088.4 2088.3 1091.9 2086.4 1095.5 2084.7 1099.0 2083.1 1102.6 2081.6 1106.2 2080.0 1109.7 2078.4 1113.3 2076.7 1116.8 2074.9 1120.4 2073.0 1123.9 2071.2 1127.5 2069.4 1131.1 2067.8 1134.6 2066.3 1138.2 2065.1 1141.7 2064.1 1145.3 2063.5 1148.7 2063.3 1148.9 2063.3 1152.4 2064.0 1155.1 2064.4 1156.0 2064.2 1159.5 2061.7 1161.5 2060.4 1163.1 2059.9 1166.7 2058.9 1170.2 2057.9 1173.8 2057.1 1177.3 2056.3 1180.9 2055.7 1184.4 2055.1 1188.0 2054.5 1191.6 2054.0 1195.1 2053.5 1198.7 2053.0 1202.2 2052.6 1205.8 2052.1 1209.4 2051.6 1212.9 2051.1 1216.5 2050.6 1220.0 2050.2 1223.6 2049.7 1227.2 2049.2 1230.7 2048.8 1234.3 2048.4 1237.8 2048.0 1241.4 2047.6 1244.9 2047.2 1248.5 2046.8 1252.1 2046.5 1255.6 2046.2 1259.2 2045.9 M618.6 2039.2 622.2 2037.6 625.7 2036.1 629.3 2034.6 632.8 2033.3 636.4 2032.2 640.0 2031.2 643.5 2030.3 647.1 2029.5 650.6 2028.7 654.2 2028.0 657.7 2027.4 661.3 2026.9 664.9 2026.4 668.4 2026.0 672.0 2025.6 675.5 2025.2 679.1 2024.8 682.7 2024.5 686.2 2024.2 689.8 2023.9 693.3 2023.7 696.9 2023.5 700.5 2023.4 704.0 2023.3 707.6 2023.3 711.1 2023.2 714.7 2023.0 718.2 2022.7 719.5 2022.6 721.8 2020.1 725.4 2014.8 725.9 2014.6 728.9 2018.3 732.3 2022.6 732.5 2022.6 736.0 2022.6 739.6 2022.6 743.2 2022.5 746.7 2022.4 750.3 2022.4 753.8 2022.3 757.4 2022.3 761.0 2022.2 764.5 2022.2 768.1 2022.2 771.6 2022.2 775.2 2022.2 778.7 2022.1 782.3 2022.1 785.9 2022.1 789.4 2022.1 793.0 2022.1 796.5 2022.0 800.1 2022.0 803.7 2021.9 807.2 2021.8 810.8 2021.1 814.3 2019.6 817.9 2016.3 821.5 2011.7 825.0 2006.1 828.6 2000.1 832.1 1994.0 835.7 1988.0 839.2 1981.4 842.8 1974.3 846.4 1966.6 849.9 1958.7 853.5 1950.4 857.0 1941.9 860.6 1932.3 864.2 1921.8 867.7 1911.6 871.3 1902.7 874.8 1895.4 878.4 1888.9 881.9 1884.8 885.5 1882.3 889.1 1880.6 892.6 1880.4 896.2 1881.6 899.7 1883.4 903.3 1886.6 906.9 1891.1 910.4 1896.7 914.0 1904.0 917.5 1912.5 921.1 1921.6 924.7 1931.0 928.2 1940.5 931.8 1950.8 935.3 1961.8 938.9 1972.8 942.4 1983.6 946.0 1993.7 949.6 2003.7 953.1 2013.5 956.7 2023.1 960.2 2032.5 963.8 2041.7 967.4 2050.7 970.9 2059.3 974.5 2067.8 978.0 2076.2 981.6 2084.6 985.2 2093.1 988.7 2102.3 992.3 2111.9 995.8 2121.3 999.4 2129.7 1002.9 2136.7 1006.5 2142.1 1010.1 2147.3 1013.6 2151.8 1017.2 2155.1 1020.7 2156.4 1024.3 2156.0 1027.9 2154.5 1031.4 2152.4 1035.0 2149.8 1038.5 2147.1 1042.1 2143.4 1045.7 2138.5 1049.2 2132.9 1052.8 2127.2 1056.3 2121.9 1059.9 2117.3 1063.4 2112.7 1067.0 2108.1 1070.6 2103.7 1074.1 2099.5 1077.7 2095.8 1081.2 2092.6 1084.8 2090.1 1088.4 2088.0 1091.9 2086.1 1095.5 2084.4 1099.0 2082.8 1102.6 2081.3 1106.2 2079.8 1109.7 2078.3 1113.3 2076.5 1116.8 2074.7 1120.4 2072.8 1123.9 2071.0 1127.5 2069.2 1131.1 2067.5 1134.6 2066.0 1138.2 2064.8 1141.7 2063.9 1145.3 2063.3 1148.7 2063.1 1148.9 2063.1 1152.4 2063.7 1155.1 2064.1 1156.0 2064.0 1159.5 2061.4 1161.5 2060.2 1163.1 2059.7 1166.7 2058.6 1170.2 2057.6 1173.8 2056.8 1177.3 2056.1 1180.9 2055.4 1184.4 2054.8 1188.0 2054.2 1191.6 2053.7 1195.1 2053.2 1198.7 2052.7 1202.2 2052.3 1205.8 2051.8 1209.4 2051.3 1212.9 2050.8 1216.5 2050.3 1220.0 2049.8 1223.6 2049.3 1227.2 2048.9 1230.7 2048.4 1234.3 2048.0 1237.8 2047.6 1241.4 2047.2 1244.9 2046.8 1248.5 2046.4 1252.1 2046.1 1255.6 2045.7 1259.2 2045.4" fill="none" stroke="#0000ff" stroke-width="2.2" stroke-linejoin="round"/>
<path d="M618.6 2040.5 622.2 2039.3 625.7 2038.2 629.3 2037.2 632.8 2036.2 636.4 2035.4 640.0 2034.6 643.5 2034.0 647.1 2033.4 650.6 2032.9 654.2 2032.4 657.7 2031.9 661.3 2031.5 664.9 2031.2 668.4 2030.9 672.0 2030.6 675.5 2030.3 679.1 2030.0 682.7 2029.8 686.2 2029.6 689.8 2029.4 693.3 2029.2 696.9 2029.1 700.5 2029.0 704.0 2029.0 707.6 2028.9 711.1 2028.8 714.7 2028.7 718.2 2028.5 719.5 2028.4 721.8 2025.9 725.4 2020.6 725.9 2020.4 728.9 2024.0 732.3 2028.4 732.5 2028.4 736.0 2028.4 739.6 2028.4 743.2 2028.3 746.7 2028.3 750.3 2028.2 753.8 2028.1 757.4 2028.1 761.0 2028.0 764.5 2028.0 768.1 2028.0 771.6 2028.0 775.2 2028.0 778.7 2027.9 782.3 2027.9 785.9 2027.9 789.4 2027.8 793.0 2027.8 796.5 2027.1 800.1 2022.6 803.7 2017.9 807.2 2013.0 810.8 2007.8 814.3 2002.2 817.9 1996.3 821.5 1990.1 825.0 1983.4 828.6 1976.2 832.1 1968.4 835.7 1960.2 839.2 1951.5 842.8 1942.6 846.4 1933.3 849.9 1923.1 853.5 1911.7 857.0 1900.3 860.6 1890.3 864.2 1882.1 867.7 1874.8 871.3 1869.9 874.8 1867.0 878.4 1865.0 881.9 1864.6 885.5 1865.7 889.1 1867.6 892.6 1870.9 896.2 1875.6 899.7 1881.4 903.3 1889.1 906.9 1898.2 910.4 1908.1 914.0 1918.4 917.5 1928.6 921.1 1939.8 924.7 1951.6 928.2 1963.7 931.8 1975.6 935.3 1986.8 938.9 1997.4 942.4 2007.8 946.0 2018.1 949.6 2028.5 953.1 2039.0 956.7 2049.8 960.2 2060.9 963.8 2072.1 967.4 2083.4 970.9 2094.7 974.5 2106.0 978.0 2118.2 981.6 2130.8 985.2 2142.9 988.7 2153.5 992.3 2161.7 995.8 2168.7 999.4 2175.2 1002.9 2180.4 1006.5 2183.4 1010.1 2183.5 1013.6 2182.1 1017.2 2179.8 1020.7 2176.8 1024.3 2173.4 1027.9 2169.5 1031.4 2163.9 1035.0 2157.2 1038.5 2150.0 1042.1 2143.2 1045.7 2137.3 1049.2 2131.6 1052.8 2125.9 1056.3 2120.3 1059.9 2115.1 1063.4 2110.2 1067.0 2105.9 1070.6 2102.4 1074.1 2099.4 1077.7 2096.6 1081.2 2094.0 1084.8 2091.6 1088.4 2089.4 1091.9 2087.3 1095.5 2085.4 1099.0 2083.5 1102.6 2081.7 1106.2 2079.9 1109.7 2078.2 1113.3 2076.4 1116.8 2074.5 1120.4 2072.6 1123.9 2070.7 1127.5 2069.0 1131.1 2067.4 1134.6 2065.9 1138.2 2064.7 1141.7 2063.8 1145.3 2063.3 1148.7 2063.1 1148.9 2063.1 1152.4 2063.8 1155.1 2064.2 1156.0 2064.0 1159.5 2061.4 1161.5 2060.2 1163.1 2059.7 1166.7 2058.6 1170.2 2057.7 1173.8 2056.8 1177.3 2056.1 1180.9 2055.4 1184.4 2054.8 1188.0 2054.2 1191.6 2053.7 1195.1 2053.2 1198.7 2052.8 1202.2 2052.3 1205.8 2051.8 1209.4 2051.3 1212.9 2050.8 1216.5 2050.3 1220.0 2049.8 1223.6 2049.4 1227.2 2048.9 1230.7 2048.5 1234.3 2048.0 1237.8 2047.6 1241.4 2047.2 1244.9 2046.8 1248.5 2046.5 1252.1 2046.1 1255.6 2045.8 1259.2 2045.5" fill="none" stroke="#ff0000" stroke-width="2.2" stroke-linejoin="round"/>
<path d="M618.6 2039.5 622.2 2038.0 625.7 2036.6 629.3 2035.3 632.8 2034.1 636.4 2033.0 640.0 2032.0 643.5 2031.2 647.1 2030.5 650.6 2029.8 654.2 2029.1 657.7 2028.6 661.3 2028.1 664.9 2027.6 668.4 2027.2 672.0 2026.8 675.5 2026.5 679.1 2026.1 682.7 2025.8 686.2 2025.6 689.8 2025.3 693.3 2025.1 696.9 2024.9 700.5 2024.8 704.0 2024.8 707.6 2024.7 711.1 2024.6 714.7 2024.4 718.2 2024.2 719.5 2024.1 721.8 2021.7 725.4 2016.7 725.9 2016.5 728.9 2020.0 732.3 2024.1 732.5 2024.1 736.0 2024.1 739.6 2024.0 743.2 2024.0 746.7 2023.9 750.3 2023.9 753.8 2023.8 757.4 2023.7 761.0 2023.7 764.5 2023.7 768.1 2023.7 771.6 2023.6 775.2 2023.6 778.7 2023.6 782.3 2023.6 785.9 2023.6 789.4 2023.6 793.0 2023.5 796.5 2023.5 800.1 2023.5 803.7 2023.4 807.2 2023.2 810.8 2022.5 814.3 2021.1 817.9 2017.9 821.5 2013.3 825.0 2007.8 828.6 2001.9 832.1 1996.0 835.7 1990.2 839.2 1983.8 842.8 1977.0 846.4 1969.7 849.9 1962.0 853.5 1954.1 857.0 1946.0 860.6 1936.8 864.2 1926.7 867.7 1916.8 871.3 1908.3 874.8 1901.3 878.4 1895.1 881.9 1891.2 885.5 1888.7 889.1 1887.1 892.6 1886.9 896.2 1888.0 899.7 1889.8 903.3 1892.9 906.9 1897.1 910.4 1902.4 914.0 1909.4 917.5 1917.4 921.1 1926.2 924.7 1935.2 928.2 1944.2 931.8 1954.1 935.3 1964.5 938.9 1975.1 942.4 1985.4 946.0 1995.1 949.6 2004.6 953.1 2013.9 956.7 2023.1 960.2 2032.1 963.8 2041.1 967.4 2049.8 970.9 2058.4 974.5 2066.9 978.0 2075.3 981.6 2083.7 985.2 2092.2 988.7 2101.3 992.3 2110.9 995.8 2120.3 999.4 2128.8 1002.9 2135.7 1006.5 2141.1 1010.1 2146.3 1013.6 2150.8 1017.2 2154.1 1020.7 2155.5 1024.3 2155.0 1027.9 2153.5 1031.4 2151.4 1035.0 2148.9 1038.5 2146.2 1042.1 2142.6 1045.7 2137.7 1049.2 2132.1 1052.8 2126.4 1056.3 2121.2 1059.9 2116.7 1063.4 2112.1 1067.0 2107.5 1070.6 2103.1 1074.1 2099.0 1077.7 2095.3 1081.2 2092.2 1084.8 2089.7 1088.4 2087.6 1091.9 2085.8 1095.5 2084.1 1099.0 2082.6 1102.6 2081.1 1106.2 2079.6 1109.7 2078.1 1113.3 2076.3 1116.8 2074.5 1120.4 2072.6 1123.9 2070.8 1127.5 2069.0 1131.1 2067.3 1134.6 2065.8 1138.2 2064.6 1141.7 2063.6 1145.3 2063.0 1148.7 2062.8 1148.9 2062.8 1152.4 2063.5 1155.1 2063.9 1156.0 2063.7 1159.5 2061.1 1161.5 2059.9 1163.1 2059.4 1166.7 2058.3 1170.2 2057.4 1173.8 2056.5 1177.3 2055.8 1180.9 2055.1 1184.4 2054.5 1188.0 2053.9 1191.6 2053.4 1195.1 2052.9 1198.7 2052.4 1202.2 2051.9 1205.8 2051.5 1209.4 2051.0 1212.9 2050.4 1216.5 2049.9 1220.0 2049.4 1223.6 2049.0 1227.2 2048.5 1230.7 2048.0 1234.3 2047.6 1237.8 2047.2 1241.4 2046.7 1244.9 2046.3 1248.5 2046.0 1252.1 2045.6 1255.6 2045.3 1259.2 2044.9 M618.6 2039.9 622.2 2038.5 625.7 2037.2 629.3 2035.9 632.8 2034.8 636.4 2033.8 640.0 2032.9 643.5 2032.2 647.1 2031.4 650.6 2030.8 654.2 2030.2 657.7 2029.7 661.3 2029.3 664.9 2028.9 668.4 2028.5 672.0 2028.1 675.5 2027.8 679.1 2027.5 682.7 2027.2 686.2 2026.9 689.8 2026.7 693.3 2026.5 696.9 2026.4 700.5 2026.3 704.0 2026.2 707.6 2026.1 711.1 2026.0 714.7 2025.9 718.2 2025.7 719.5 2025.6 721.8 2023.3 725.4 2018.5 725.9 2018.4 728.9 2021.7 732.3 2025.6 732.5 2025.6 736.0 2025.5 739.6 2025.5 743.2 2025.5 746.7 2025.4 750.3 2025.3 753.8 2025.3 757.4 2025.2 761.0 2025.2 764.5 2025.1 768.1 2025.1 771.6 2025.1 775.2 2025.1 778.7 2025.1 782.3 2025.1 785.9 2025.1 789.4 2025.0 793.0 2025.0 796.5 2025.0 800.1 2024.9 803.7 2024.9 807.2 2024.7 810.8 2024.0 814.3 2022.5 817.9 2019.4 821.5 2014.9 825.0 2009.5 828.6 2003.7 832.1 1997.9 835.7 1992.3 839.2 1986.2 842.8 1979.6 846.4 1972.6 849.9 1965.3 853.5 1957.7 857.0 1949.9 860.6 1941.1 864.2 1931.4 867.7 1921.9 871.3 1913.8 874.8 1907.0 878.4 1901.0 881.9 1897.3 885.5 1894.9 889.1 1893.4 892.6 1893.2 896.2 1894.3 899.7 1895.9 903.3 1898.9 906.9 1902.9 910.4 1908.0 914.0 1914.6 917.5 1922.2 921.1 1930.6 924.7 1939.2 928.2 1947.8 931.8 1957.2 935.3 1967.2 938.9 1977.3 942.4 1987.2 946.0 1996.5 949.6 2005.6 953.1 2014.4 956.7 2023.1 960.2 2031.8 963.8 2040.4 967.4 2049.0 970.9 2057.6 974.5 2066.0 978.0 2074.4 981.6 2082.9 985.2 2091.3 988.7 2100.4 992.3 2109.9 995.8 2119.3 999.4 2127.8 1002.9 2134.7 1006.5 2140.1 1010.1 2145.3 1013.6 2149.9 1017.2 2153.1 1020.7 2154.5 1024.3 2154.0 1027.9 2152.6 1031.4 2150.5 1035.0 2148.0 1038.5 2145.3 1042.1 2141.7 1045.7 2136.8 1049.2 2131.3 1052.8 2125.7 1056.3 2120.5 1059.9 2116.0 1063.4 2111.5 1067.0 2107.0 1070.6 2102.6 1074.1 2098.5 1077.7 2094.8 1081.2 2091.8 1084.8 2089.3 1088.4 2087.3 1091.9 2085.5 1095.5 2083.8 1099.0 2082.3 1102.6 2080.9 1106.2 2079.4 1109.7 2077.9 1113.3 2076.2 1116.8 2074.3 1120.4 2072.5 1123.9 2070.6 1127.5 2068.8 1131.1 2067.1 1134.6 2065.6 1138.2 2064.3 1141.7 2063.3 1145.3 2062.7 1148.7 2062.5 1148.9 2062.5 1152.4 2063.2 1155.1 2063.6 1156.0 2063.4 1159.5 2060.9 1161.5 2059.6 1163.1 2059.1 1166.7 2058.1 1170.2 2057.1 1173.8 2056.2 1177.3 2055.5 1180.9 2054.8 1184.4 2054.2 1188.0 2053.6 1191.6 2053.1 1195.1 2052.6 1198.7 2052.1 1202.2 2051.6 1205.8 2051.1 1209.4 2050.6 1212.9 2050.1 1216.5 2049.6 1220.0 2049.1 1223.6 2048.6 1227.2 2048.1 1230.7 2047.6 1234.3 2047.2 1237.8 2046.7 1241.4 2046.3 1244.9 2045.9 1248.5 2045.5 1252.1 2045.1 1255.6 2044.8 1259.2 2044.5 M618.6 2040.2 622.2 2038.9 625.7 2037.7 629.3 2036.6 632.8 2035.5 636.4 2034.6 640.0 2033.8 643.5 2033.1 647.1 2032.4 650.6 2031.8 654.2 2031.3 657.7 2030.8 661.3 2030.4 664.9 2030.0 668.4 2029.7 672.0 2029.4 675.5 2029.0 679.1 2028.8 682.7 2028.5 686.2 2028.3 689.8 2028.1 693.3 2027.9 696.9 2027.7 700.5 2027.7 704.0 2027.6 707.6 2027.5 711.1 2027.4 714.7 2027.3 718.2 2027.1 719.5 2027.0 721.8 2024.9 725.4 2020.4 725.9 2020.3 728.9 2023.3 732.3 2027.0 732.5 2027.0 736.0 2027.0 739.6 2027.0 743.2 2026.9 746.7 2026.8 750.3 2026.8 753.8 2026.7 757.4 2026.7 761.0 2026.6 764.5 2026.6 768.1 2026.6 771.6 2026.6 775.2 2026.6 778.7 2026.5 782.3 2026.5 785.9 2026.5 789.4 2026.5 793.0 2026.5 796.5 2026.4 800.1 2026.4 803.7 2026.3 807.2 2026.1 810.8 2025.4 814.3 2023.8 817.9 2020.7 821.5 2016.3 825.0 2011.0 828.6 2005.4 832.1 1999.8 835.7 1994.3 839.2 1988.4 842.8 1982.1 846.4 1975.4 849.9 1968.4 853.5 1961.1 857.0 1953.6 860.6 1945.2 864.2 1935.9 867.7 1926.8 871.3 1919.0 874.8 1912.5 878.4 1906.7 881.9 1903.1 885.5 1900.9 889.1 1899.4 892.6 1899.2 896.2 1900.3 899.7 1901.9 903.3 1904.7 906.9 1908.5 910.4 1913.3 914.0 1919.6 917.5 1926.9 921.1 1934.9 924.7 1943.1 928.2 1951.3 931.8 1960.3 935.3 1969.8 938.9 1979.5 942.4 1989.0 946.0 1997.9 949.6 2006.5 953.1 2014.9 956.7 2023.2 960.2 2031.5 963.8 2039.8 967.4 2048.2 970.9 2056.7 974.5 2065.1 978.0 2073.6 981.6 2082.0 985.2 2090.4 988.7 2099.4 992.3 2108.9 995.8 2118.3 999.4 2126.8 1002.9 2133.8 1006.5 2139.1 1010.1 2144.3 1013.6 2148.9 1017.2 2152.1 1020.7 2153.5 1024.3 2153.0 1027.9 2151.6 1031.4 2149.5 1035.0 2147.1 1038.5 2144.4 1042.1 2140.8 1045.7 2136.0 1049.2 2130.5 1052.8 2125.0 1056.3 2119.9 1059.9 2115.4 1063.4 2110.9 1067.0 2106.4 1070.6 2102.0 1074.1 2098.0 1077.7 2094.4 1081.2 2091.3 1084.8 2088.9 1088.4 2086.9 1091.9 2085.1 1095.5 2083.6 1099.0 2082.1 1102.6 2080.7 1106.2 2079.2 1109.7 2077.7 1113.3 2076.0 1116.8 2074.1 1120.4 2072.3 1123.9 2070.4 1127.5 2068.6 1131.1 2066.9 1134.6 2065.3 1138.2 2064.1 1141.7 2063.1 1145.3 2062.5 1148.7 2062.3 1148.9 2062.3 1152.4 2062.9 1155.1 2063.3 1156.0 2063.2 1159.5 2060.6 1161.5 2059.4 1163.1 2058.9 1166.7 2057.8 1170.2 2056.8 1173.8 2056.0 1177.3 2055.2 1180.9 2054.5 1184.4 2053.9 1188.0 2053.3 1191.6 2052.8 1195.1 2052.3 1198.7 2051.8 1202.2 2051.3 1205.8 2050.8 1209.4 2050.3 1212.9 2049.8 1216.5 2049.2 1220.0 2048.7 1223.6 2048.2 1227.2 2047.7 1230.7 2047.2 1234.3 2046.8 1237.8 2046.3 1241.4 2045.9 1244.9 2045.5 1248.5 2045.1 1252.1 2044.7 1255.6 2044.3 1259.2 2044.0" fill="none" stroke="#0000ff" stroke-width="2.2" stroke-linejoin="round"/>
<path d="M618.6 2041.1 622.2 2040.2 625.7 2039.3 629.3 2038.4 632.8 2037.6 636.4 2036.9 640.0 2036.3 643.5 2035.8 647.1 2035.3 650.6 2034.9 654.2 2034.5 657.7 2034.1 661.3 2033.8 664.9 2033.5 668.4 2033.3 672.0 2033.0 675.5 2032.8 679.1 2032.6 682.7 2032.4 686.2 2032.2 689.8 2032.1 693.3 2031.9 696.9 2031.8 700.5 2031.8 704.0 2031.7 707.6 2031.7 711.1 2031.6 714.7 2031.5 718.2 2031.3 719.5 2031.3 721.8 2029.1 725.4 2024.5 725.9 2024.4 728.9 2027.5 732.3 2031.3 732.5 2031.3 736.0 2031.3 739.6 2031.2 743.2 2031.2 746.7 2031.1 750.3 2031.0 753.8 2031.0 757.4 2030.9 761.0 2030.9 764.5 2030.9 768.1 2030.8 771.6 2030.8 775.2 2030.8 778.7 2030.8 782.3 2030.8 785.9 2030.7 789.4 2030.7 793.0 2030.6 796.5 2029.9 800.1 2025.0 803.7 2020.3 807.2 2015.8 810.8 2011.1 814.3 2006.2 817.9 2001.1 821.5 1995.6 825.0 1989.6 828.6 1983.1 832.1 1976.2 835.7 1968.8 839.2 1961.0 842.8 1953.0 846.4 1944.7 849.9 1935.5 853.5 1925.2 857.0 1915.0 860.6 1906.1 864.2 1898.7 867.7 1892.1 871.3 1887.8 874.8 1885.2 878.4 1883.4 881.9 1883.0 885.5 1884.0 889.1 1885.7 892.6 1888.5 896.2 1892.7 899.7 1897.8 903.3 1904.5 906.9 1912.4 910.4 1921.2 914.0 1930.3 917.5 1939.4 921.1 1949.2 924.7 1959.7 928.2 1970.4 931.8 1981.0 935.3 1991.0 938.9 2000.4 942.4 2009.5 946.0 2018.5 949.6 2027.7 953.1 2037.1 956.7 2047.2 960.2 2057.9 963.8 2069.1 967.4 2080.5 970.9 2091.9 974.5 2103.2 978.0 2115.2 981.6 2127.7 985.2 2139.9 988.7 2150.6 992.3 2159.0 995.8 2165.9 999.4 2172.4 1002.9 2177.7 1006.5 2180.7 1010.1 2180.8 1013.6 2179.4 1017.2 2177.1 1020.7 2174.2 1024.3 2170.9 1027.9 2167.1 1031.4 2161.6 1035.0 2155.0 1038.5 2148.0 1042.1 2141.3 1045.7 2135.5 1049.2 2129.9 1052.8 2124.3 1056.3 2118.8 1059.9 2113.7 1063.4 2108.9 1067.0 2104.7 1070.6 2101.3 1074.1 2098.3 1077.7 2095.6 1081.2 2093.1 1084.8 2090.8 1088.4 2088.7 1091.9 2086.6 1095.5 2084.7 1099.0 2082.9 1102.6 2081.1 1106.2 2079.4 1109.7 2077.7 1113.3 2075.8 1116.8 2073.9 1120.4 2072.0 1123.9 2070.2 1127.5 2068.4 1131.1 2066.7 1134.6 2065.3 1138.2 2064.1 1141.7 2063.1 1145.3 2062.6 1148.7 2062.4 1148.9 2062.4 1152.4 2063.0 1155.1 2063.4 1156.0 2063.3 1159.5 2060.7 1161.5 2059.5 1163.1 2059.0 1166.7 2057.9 1170.2 2056.9 1173.8 2056.1 1177.3 2055.3 1180.9 2054.6 1184.4 2054.0 1188.0 2053.4 1191.6 2052.9 1195.1 2052.4 1198.7 2051.9 1202.2 2051.4 1205.8 2050.9 1209.4 2050.4 1212.9 2049.9 1216.5 2049.4 1220.0 2048.9 1223.6 2048.4 1227.2 2047.9 1230.7 2047.4 1234.3 2046.9 1237.8 2046.5 1241.4 2046.1 1244.9 2045.6 1248.5 2045.2 1252.1 2044.9 1255.6 2044.5 1259.2 2044.1" fill="none" stroke="#ff0000" stroke-width="2.2" stroke-linejoin="round"/>
<path d="M618.6 2040.5 622.2 2039.3 625.7 2038.2 629.3 2037.2 632.8 2036.2 636.4 2035.4 640.0 2034.7 643.5 2034.0 647.1 2033.4 650.6 2032.9 654.2 2032.4 657.7 2031.9 661.3 2031.6 664.9 2031.2 668.4 2030.9 672.0 2030.6 675.5 2030.3 679.1 2030.1 682.7 2029.8 686.2 2029.6 689.8 2029.4 693.3 2029.2 696.9 2029.1 700.5 2029.0 704.0 2029.0 707.6 2028.9 711.1 2028.8 714.7 2028.7 718.2 2028.5 719.5 2028.5 721.8 2026.5 725.4 2022.2 725.9 2022.1 728.9 2025.0 732.3 2028.5 732.5 2028.5 736.0 2028.4 739.6 2028.4 743.2 2028.3 746.7 2028.3 750.3 2028.2 753.8 2028.2 757.4 2028.1 761.0 2028.1 764.5 2028.0 768.1 2028.0 771.6 2028.0 775.2 2028.0 778.7 2028.0 782.3 2028.0 785.9 2028.0 789.4 2027.9 793.0 2027.9 796.5 2027.9 800.1 2027.8 803.7 2027.8 807.2 2027.5 810.8 2026.2 814.3 2024.3 817.9 2021.1 821.5 2017.0 825.0 2012.1 828.6 2006.8 832.1 2001.5 835.7 1996.3 839.2 1990.6 842.8 1984.6 846.4 1978.1 849.9 1971.4 853.5 1964.4 857.0 1957.3 860.6 1949.1 864.2 1940.2 867.7 1931.5 871.3 1924.0 874.8 1917.7 878.4 1912.2 881.9 1908.8 885.5 1906.6 889.1 1905.2 892.6 1905.0 896.2 1906.0 899.7 1907.5 903.3 1910.2 906.9 1913.9 910.4 1918.4 914.0 1924.4 917.5 1931.4 921.1 1939.0 924.7 1946.8 928.2 1954.7 931.8 1963.2 935.3 1972.3 938.9 1981.6 942.4 1990.6 946.0 1999.2 949.6 2007.4 953.1 2015.4 956.7 2023.3 960.2 2031.3 963.8 2039.3 967.4 2047.5 970.9 2055.8 974.5 2064.2 978.0 2072.7 981.6 2081.1 985.2 2089.6 988.7 2098.5 992.3 2107.9 995.8 2117.2 999.4 2125.8 1002.9 2132.8 1006.5 2138.2 1010.1 2143.3 1013.6 2147.9 1017.2 2151.1 1020.7 2152.5 1024.3 2152.0 1027.9 2150.6 1031.4 2148.6 1035.0 2146.1 1038.5 2143.5 1042.1 2139.9 1045.7 2135.2 1049.2 2129.8 1052.8 2124.2 1056.3 2119.2 1059.9 2114.7 1063.4 2110.3 1067.0 2105.8 1070.6 2101.5 1074.1 2097.5 1077.7 2093.9 1081.2 2090.9 1084.8 2088.5 1088.4 2086.5 1091.9 2084.8 1095.5 2083.3 1099.0 2081.8 1102.6 2080.4 1106.2 2079.0 1109.7 2077.5 1113.3 2075.8 1116.8 2074.0 1120.4 2072.1 1123.9 2070.2 1127.5 2068.3 1131.1 2066.6 1134.6 2065.1 1138.2 2063.8 1141.7 2062.8 1145.3 2062.2 1148.7 2062.0 1148.9 2062.0 1152.4 2062.7 1155.1 2063.1 1156.0 2062.9 1159.5 2060.3 1161.5 2059.1 1163.1 2058.6 1166.7 2057.5 1170.2 2056.5 1173.8 2055.7 1177.3 2054.9 1180.9 2054.2 1184.4 2053.6 1188.0 2053.0 1191.6 2052.5 1195.1 2052.0 1198.7 2051.5 1202.2 2051.0 1205.8 2050.5 1209.4 2050.0 1212.9 2049.4 1216.5 2048.9 1220.0 2048.4 1223.6 2047.8 1227.2 2047.3 1230.7 2046.9 1234.3 2046.4 1237.8 2045.9 1241.4 2045.5 1244.9 2045.0 1248.5 2044.6 1252.1 2044.2 1255.6 2043.9 1259.2 2043.5 M618.6 2040.8 622.2 2039.8 625.7 2038.7 629.3 2037.8 632.8 2036.9 636.4 2036.2 640.0 2035.5 643.5 2034.9 647.1 2034.4 650.6 2033.9 654.2 2033.4 657.7 2033.1 661.3 2032.7 664.9 2032.4 668.4 2032.1 672.0 2031.8 675.5 2031.6 679.1 2031.3 682.7 2031.1 686.2 2030.9 689.8 2030.8 693.3 2030.6 696.9 2030.5 700.5 2030.4 704.0 2030.4 707.6 2030.3 711.1 2030.2 714.7 2030.1 718.2 2030.0 719.5 2029.9 721.8 2028.0 725.4 2024.1 725.9 2024.0 728.9 2026.2 732.3 2029.9 732.5 2030.0 736.0 2032.2 739.6 2034.0 743.2 2035.7 746.7 2037.2 750.3 2038.6 753.8 2040.2 757.4 2041.7 761.0 2043.1 764.5 2044.5 768.1 2045.7 771.6 2046.7 775.2 2047.5 778.7 2048.1 782.3 2048.8 785.9 2049.3 789.4 2049.8 793.0 2050.2 796.5 2050.4 800.1 2050.5 803.7 2050.4 807.2 2050.4 810.8 2050.3 814.3 2050.1 817.9 2049.9 821.5 2049.3 825.0 2041.9 828.6 2025.5 832.1 2017.1 835.7 2010.5 839.2 2003.4 842.8 1995.1 846.4 1986.4 849.9 1977.7 853.5 1969.0 857.0 1960.6 860.6 1952.2 864.2 1943.7 867.7 1935.7 871.3 1928.8 874.8 1922.8 878.4 1917.5 881.9 1914.2 885.5 1912.1 889.1 1910.7 892.6 1910.6 896.2 1911.5 899.7 1913.0 903.3 1915.5 906.9 1919.0 910.4 1923.3 914.0 1929.0 917.5 1935.6 921.1 1942.9 924.7 1950.4 928.2 1957.9 931.8 1966.1 935.3 1974.7 938.9 1983.6 942.4 1992.3 946.0 2000.5 949.6 2008.4 953.1 2016.0 956.7 2023.5 960.2 2031.0 963.8 2038.8 967.4 2046.7 970.9 2054.9 974.5 2063.3 978.0 2071.8 981.6 2080.3 985.2 2088.7 988.7 2097.5 992.3 2106.9 995.8 2116.2 999.4 2124.8 1002.9 2131.8 1006.5 2137.2 1010.1 2142.3 1013.6 2146.9 1017.2 2150.2 1020.7 2151.5 1024.3 2151.0 1027.9 2149.7 1031.4 2147.6 1035.0 2145.2 1038.5 2142.6 1042.1 2139.1 1045.7 2134.3 1049.2 2129.0 1052.8 2123.5 1056.3 2118.5 1059.9 2114.1 1063.4 2109.7 1067.0 2105.2 1070.6 2101.0 1074.1 2097.0 1077.7 2093.4 1081.2 2090.5 1084.8 2088.1 1088.4 2086.2 1091.9 2084.5 1095.5 2083.0 1099.0 2081.6 1102.6 2080.2 1106.2 2078.8 1109.7 2077.3 1113.3 2075.6 1116.8 2073.8 1120.4 2071.9 1123.9 2070.0 1127.5 2068.1 1131.1 2066.4 1134.6 2064.9 1138.2 2063.6 1141.7 2062.6 1145.3 2061.9 1148.7 2061.7 1148.9 2061.7 1152.4 2062.4 1155.1 2062.8 1156.0 2062.7 1159.5 2060.1 1161.5 2058.8 1163.1 2058.3 1166.7 2057.2 1170.2 2056.3 1173.8 2055.4 1177.3 2054.6 1180.9 2053.9 1184.4 2053.3 1188.0 2052.7 1191.6 2052.2 1195.1 2051.7 1198.7 2051.2 1202.2 2050.7 1205.8 2050.2 1209.4 2049.6 1212.9 2049.1 1216.5 2048.5 1220.0 2048.0 1223.6 2047.5 1227.2 2047.0 1230.7 2046.5 1234.3 2046.0 1237.8 2045.5 1241.4 2045.1 1244.9 2044.6 1248.5 2044.2 1252.1 2043.8 1255.6 2043.4 1259.2 2043.0 M618.6 2041.1 622.2 2040.2 625.7 2039.3 629.3 2038.4 632.8 2037.6 636.4 2037.0 640.0 2036.4 643.5 2035.8 647.1 2035.3 650.6 2034.9 654.2 2034.5 657.7 2034.1 661.3 2033.8 664.9 2033.6 668.4 2033.3 672.0 2033.0 675.5 2032.8 679.1 2032.6 682.7 2032.4 686.2 2032.2 689.8 2032.1 693.3 2031.9 696.9 2031.8 700.5 2031.8 704.0 2031.7 707.6 2031.7 711.1 2031.6 714.7 2031.5 718.2 2031.4 719.5 2031.3 721.8 2029.6 725.4 2025.9 725.9 2025.8 728.9 2027.7 732.3 2031.3 732.5 2031.4 736.0 2034.0 739.6 2036.5 743.2 2038.9 746.7 2041.1 750.3 2043.1 753.8 2045.2 757.4 2047.3 761.0 2049.2 764.5 2051.0 768.1 2052.6 771.6 2053.8 775.2 2054.7 778.7 2055.5 782.3 2056.3 785.9 2057.0 789.4 2057.5 793.0 2057.9 796.5 2058.0 800.1 2057.9 803.7 2057.8 807.2 2057.6 810.8 2057.2 814.3 2056.6 817.9 2055.5 821.5 2052.4 825.0 2038.9 828.6 2028.1 832.1 2020.0 835.7 2012.6 839.2 2005.1 842.8 1996.9 846.4 1988.6 849.9 1980.2 853.5 1972.0 857.0 1963.9 860.6 1955.8 864.2 1947.6 867.7 1940.0 871.3 1933.3 874.8 1927.5 878.4 1922.5 881.9 1919.3 885.5 1917.3 889.1 1916.0 892.6 1915.8 896.2 1916.8 899.7 1918.1 903.3 1920.6 906.9 1923.9 910.4 1928.0 914.0 1933.4 917.5 1939.7 921.1 1946.7 924.7 1953.9 928.2 1961.0 931.8 1968.8 935.3 1977.1 938.9 1985.5 942.4 1993.9 946.0 2001.8 949.6 2009.3 953.1 2016.5 956.7 2023.7 960.2 2030.9 963.8 2038.3 967.4 2046.0 970.9 2054.1 974.5 2062.4 978.0 2070.9 981.6 2079.4 985.2 2087.9 988.7 2096.6 992.3 2106.0 995.8 2115.2 999.4 2123.8 1002.9 2130.8 1006.5 2136.2 1010.1 2141.4 1013.6 2145.9 1017.2 2149.2 1020.7 2150.5 1024.3 2150.1 1027.9 2148.7 1031.4 2146.7 1035.0 2144.3 1038.5 2141.7 1042.1 2138.2 1045.7 2133.5 1049.2 2128.2 1052.8 2122.8 1056.3 2117.8 1059.9 2113.5 1063.4 2109.1 1067.0 2104.7 1070.6 2100.4 1074.1 2096.5 1077.7 2093.0 1081.2 2090.0 1084.8 2087.7 1088.4 2085.8 1091.9 2084.2 1095.5 2082.7 1099.0 2081.3 1102.6 2080.0 1106.2 2078.6 1109.7 2077.1 1113.3 2075.4 1116.8 2073.6 1120.4 2071.7 1123.9 2069.8 1127.5 2067.9 1131.1 2066.2 1134.6 2064.6 1138.2 2063.3 1141.7 2062.3 1145.3 2061.7 1148.7 2061.5 1148.9 2061.5 1152.4 2062.2 1155.1 2062.6 1156.0 2062.4 1159.5 2059.8 1161.5 2058.6 1163.1 2058.1 1166.7 2057.0 1170.2 2056.0 1173.8 2055.1 1177.3 2054.4 1180.9 2053.7 1184.4 2053.0 1188.0 2052.5 1191.6 2051.9 1195.1 2051.4 1198.7 2050.9 1202.2 2050.4 1205.8 2049.9 1209.4 2049.3 1212.9 2048.7 1216.5 2048.2 1220.0 2047.6 1223.6 2047.1 1227.2 2046.6 1230.7 2046.1 1234.3 2045.6 1237.8 2045.1 1241.4 2044.6 1244.9 2044.2 1248.5 2043.7 1252.1 2043.3 1255.6 2042.9 1259.2 2042.5" fill="none" stroke="#0000ff" stroke-width="2.2" stroke-linejoin="round"/>
<path d="M618.6 2041.7 622.2 2041.0 625.7 2040.3 629.3 2039.6 632.8 2039.0 636.4 2038.5 640.0 2038.0 643.5 2037.6 647.1 2037.2 650.6 2036.9 654.2 2036.6 657.7 2036.3 661.3 2036.0 664.9 2035.8 668.4 2035.6 672.0 2035.4 675.5 2035.2 679.1 2035.1 682.7 2034.9 686.2 2034.8 689.8 2034.7 693.3 2034.6 696.9 2034.5 700.5 2034.4 704.0 2034.4 707.6 2034.4 711.1 2034.3 714.7 2034.2 718.2 2034.1 719.5 2034.1 721.8 2032.3 725.4 2028.4 725.9 2028.3 728.9 2030.3 732.3 2034.1 732.5 2034.2 736.0 2036.8 739.6 2039.3 743.2 2041.5 746.7 2043.7 750.3 2045.7 753.8 2047.8 757.4 2049.8 761.0 2051.6 764.5 2053.1 768.1 2054.3 771.6 2055.1 775.2 2056.0 778.7 2056.7 782.3 2057.3 785.9 2057.7 789.4 2057.8 793.0 2057.7 796.5 2057.6 800.1 2057.4 803.7 2057.1 807.2 2056.4 810.8 2055.3 814.3 2047.8 817.9 2028.3 821.5 2017.9 825.0 2009.6 828.6 2001.3 832.1 1992.0 835.7 1982.6 839.2 1973.2 842.8 1964.0 846.4 1954.9 849.9 1945.8 853.5 1936.6 857.0 1927.8 860.6 1920.1 864.2 1913.6 867.7 1907.7 871.3 1903.7 874.8 1901.4 878.4 1899.8 881.9 1899.4 885.5 1900.3 889.1 1901.8 892.6 1904.3 896.2 1907.9 899.7 1912.4 903.3 1918.3 906.9 1925.3 910.4 1933.0 914.0 1941.1 917.5 1949.2 921.1 1957.8 924.7 1967.0 928.2 1976.5 931.8 1986.0 935.3 1995.0 938.9 2003.4 942.4 2011.3 946.0 2019.2 949.6 2027.2 953.1 2035.6 956.7 2044.8 960.2 2055.0 963.8 2066.0 967.4 2077.5 970.9 2089.1 974.5 2100.4 978.0 2112.2 981.6 2124.6 985.2 2136.8 988.7 2147.7 992.3 2156.2 995.8 2163.1 999.4 2169.7 1002.9 2174.9 1006.5 2177.9 1010.1 2178.1 1013.6 2176.8 1017.2 2174.5 1020.7 2171.6 1024.3 2168.4 1027.9 2164.7 1031.4 2159.2 1035.0 2152.8 1038.5 2145.9 1042.1 2139.3 1045.7 2133.7 1049.2 2128.2 1052.8 2122.7 1056.3 2117.3 1059.9 2112.3 1063.4 2107.6 1067.0 2103.5 1070.6 2100.1 1074.1 2097.3 1077.7 2094.6 1081.2 2092.2 1084.8 2090.0 1088.4 2087.9 1091.9 2085.9 1095.5 2084.1 1099.0 2082.3 1102.6 2080.6 1106.2 2078.9 1109.7 2077.1 1113.3 2075.3 1116.8 2073.4 1120.4 2071.5 1123.9 2069.6 1127.5 2067.8 1131.1 2066.1 1134.6 2064.6 1138.2 2063.4 1141.7 2062.4 1145.3 2061.8 1148.7 2061.6 1148.9 2061.6 1152.4 2062.3 1155.1 2062.7 1156.0 2062.6 1159.5 2060.0 1161.5 2058.7 1163.1 2058.2 1166.7 2057.1 1170.2 2056.2 1173.8 2055.3 1177.3 2054.5 1180.9 2053.8 1184.4 2053.2 1188.0 2052.6 1191.6 2052.1 1195.1 2051.6 1198.7 2051.1 1202.2 2050.6 1205.8 2050.1 1209.4 2049.5 1212.9 2048.9 1216.5 2048.4 1220.0 2047.9 1223.6 2047.3 1227.2 2046.8 1230.7 2046.3 1234.3 2045.8 1237.8 2045.4 1241.4 2044.9 1244.9 2044.5 1248.5 2044.0 1252.1 2043.6 1255.6 2043.2 1259.2 2042.8" fill="none" stroke="#ff0000" stroke-width="2.2" stroke-linejoin="round"/>
<path d="M618.6 2041.4 622.2 2040.6 625.7 2039.8 629.3 2039.0 632.8 2038.3 636.4 2037.7 640.0 2037.2 643.5 2036.7 647.1 2036.3 650.6 2035.9 654.2 2035.5 657.7 2035.2 661.3 2035.0 664.9 2034.7 668.4 2034.5 672.0 2034.3 675.5 2034.0 679.1 2033.9 682.7 2033.7 686.2 2033.5 689.8 2033.4 693.3 2033.3 696.9 2033.2 700.5 2033.1 704.0 2033.1 707.6 2033.0 711.1 2033.0 714.7 2032.9 718.2 2032.8 719.5 2032.7 721.8 2031.1 725.4 2027.7 725.9 2027.6 728.9 2029.3 732.3 2032.7 732.5 2032.8 736.0 2035.9 739.6 2039.1 743.2 2042.4 746.7 2045.4 750.3 2048.1 753.8 2050.8 757.4 2053.5 761.0 2056.0 764.5 2058.2 768.1 2060.0 771.6 2061.3 775.2 2062.5 778.7 2063.5 782.3 2064.5 785.9 2065.2 789.4 2065.7 793.0 2065.9 796.5 2065.8 800.1 2065.6 803.7 2065.3 807.2 2064.7 810.8 2063.6 814.3 2061.9 817.9 2059.2 821.5 2050.6 825.0 2039.2 828.6 2030.1 832.1 2022.1 835.7 2014.3 839.2 2006.6 842.8 1998.6 846.4 1990.6 849.9 1982.6 853.5 1974.7 857.0 1967.0 860.6 1959.2 864.2 1951.4 867.7 1944.0 871.3 1937.6 874.8 1932.1 878.4 1927.2 881.9 1924.1 885.5 1922.2 889.1 1921.0 892.6 1920.8 896.2 1921.7 899.7 1923.0 903.3 1925.3 906.9 1928.5 910.4 1932.4 914.0 1937.5 917.5 1943.6 921.1 1950.2 924.7 1957.1 928.2 1964.0 931.8 1971.4 935.3 1979.3 938.9 1987.4 942.4 1995.4 946.0 2003.0 949.6 2010.1 953.1 2017.0 956.7 2023.9 960.2 2030.7 963.8 2037.8 967.4 2045.3 970.9 2053.3 974.5 2061.6 978.0 2070.0 981.6 2078.6 985.2 2087.0 988.7 2095.7 992.3 2105.0 995.8 2114.2 999.4 2122.8 1002.9 2129.9 1006.5 2135.3 1010.1 2140.4 1013.6 2144.9 1017.2 2148.2 1020.7 2149.5 1024.3 2149.1 1027.9 2147.7 1031.4 2145.7 1035.0 2143.3 1038.5 2140.8 1042.1 2137.3 1045.7 2132.7 1049.2 2127.4 1052.8 2122.1 1056.3 2117.1 1059.9 2112.8 1063.4 2108.4 1067.0 2104.1 1070.6 2099.9 1074.1 2096.0 1077.7 2092.5 1081.2 2089.6 1084.8 2087.3 1088.4 2085.5 1091.9 2083.9 1095.5 2082.4 1099.0 2081.1 1102.6 2079.8 1106.2 2078.4 1109.7 2076.9 1113.3 2075.2 1116.8 2073.4 1120.4 2071.5 1123.9 2069.6 1127.5 2067.7 1131.1 2066.0 1134.6 2064.4 1138.2 2063.1 1141.7 2062.1 1145.3 2061.4 1148.7 2061.2 1148.9 2061.2 1152.4 2061.9 1155.1 2062.3 1156.0 2062.1 1159.5 2059.6 1161.5 2058.3 1163.1 2057.8 1166.7 2056.7 1170.2 2055.7 1173.8 2054.9 1177.3 2054.1 1180.9 2053.4 1184.4 2052.7 1188.0 2052.2 1191.6 2051.6 1195.1 2051.1 1198.7 2050.6 1202.2 2050.1 1205.8 2049.5 1209.4 2049.0 1212.9 2048.4 1216.5 2047.8 1220.0 2047.3 1223.6 2046.7 1227.2 2046.2 1230.7 2045.7 1234.3 2045.2 1237.8 2044.7 1241.4 2044.2 1244.9 2043.8 1248.5 2043.3 1252.1 2042.9 1255.6 2042.4 1259.2 2042.0 M618.6 2041.7 622.2 2041.0 625.7 2040.3 629.3 2039.6 632.8 2039.0 636.4 2038.5 640.0 2038.0 643.5 2037.6 647.1 2037.2 650.6 2036.9 654.2 2036.6 657.7 2036.3 661.3 2036.1 664.9 2035.8 668.4 2035.6 672.0 2035.4 675.5 2035.3 679.1 2035.1 682.7 2034.9 686.2 2034.8 689.8 2034.7 693.3 2034.6 696.9 2034.5 700.5 2034.5 704.0 2034.4 707.6 2034.4 711.1 2034.3 714.7 2034.3 718.2 2034.1 719.5 2034.1 721.8 2032.6 725.4 2029.5 725.9 2029.4 728.9 2030.9 732.3 2034.1 732.5 2034.2 736.0 2037.8 739.6 2041.9 743.2 2046.2 746.7 2050.1 750.3 2053.6 753.8 2057.0 757.4 2060.4 761.0 2063.4 764.5 2066.0 768.1 2068.0 771.6 2069.4 775.2 2070.9 778.7 2072.1 782.3 2073.1 785.9 2073.8 789.4 2074.1 793.0 2074.0 796.5 2073.7 800.1 2073.3 803.7 2072.5 807.2 2070.9 810.8 2068.7 814.3 2065.7 817.9 2059.3 821.5 2050.0 825.0 2040.3 828.6 2031.9 832.1 2023.9 835.7 2015.9 839.2 2008.0 842.8 2000.2 846.4 1992.5 849.9 1984.9 853.5 1977.3 857.0 1970.0 860.6 1962.4 864.2 1954.9 867.7 1947.8 871.3 1941.7 874.8 1936.3 878.4 1931.6 881.9 1928.7 885.5 1926.8 889.1 1925.6 892.6 1925.5 896.2 1926.3 899.7 1927.6 903.3 1929.8 906.9 1932.8 910.4 1936.5 914.0 1941.4 917.5 1947.2 921.1 1953.6 924.7 1960.2 928.2 1966.7 931.8 1973.8 935.3 1981.4 938.9 1989.1 942.4 1996.8 946.0 2004.1 949.6 2011.0 953.1 2017.6 956.7 2024.0 960.2 2030.6 963.8 2037.4 967.4 2044.7 970.9 2052.5 974.5 2060.7 978.0 2069.1 981.6 2077.7 985.2 2086.1 988.7 2094.8 992.3 2104.0 995.8 2113.2 999.4 2121.8 1002.9 2128.9 1006.5 2134.3 1010.1 2139.4 1013.6 2143.9 1017.2 2147.2 1020.7 2148.5 1024.3 2148.1 1027.9 2146.8 1031.4 2144.8 1035.0 2142.4 1038.5 2139.9 1042.1 2136.5 1045.7 2131.9 1049.2 2126.6 1052.8 2121.3 1056.3 2116.4 1059.9 2112.2 1063.4 2107.8 1067.0 2103.5 1070.6 2099.3 1074.1 2095.5 1077.7 2092.0 1081.2 2089.1 1084.8 2086.9 1088.4 2085.1 1091.9 2083.5 1095.5 2082.1 1099.0 2080.8 1102.6 2079.5 1106.2 2078.2 1109.7 2076.7 1113.3 2075.0 1116.8 2073.2 1120.4 2071.3 1123.9 2069.4 1127.5 2067.5 1131.1 2065.8 1134.6 2064.2 1138.2 2062.8 1141.7 2061.8 1145.3 2061.2 1148.7 2060.9 1148.9 2060.9 1152.4 2061.6 1155.1 2062.0 1156.0 2061.9 1159.5 2059.3 1161.5 2058.1 1163.1 2057.5 1166.7 2056.4 1170.2 2055.4 1173.8 2054.6 1177.3 2053.8 1180.9 2053.1 1184.4 2052.5 1188.0 2051.9 1191.6 2051.3 1195.1 2050.8 1198.7 2050.3 1202.2 2049.8 1205.8 2049.2 1209.4 2048.6 1212.9 2048.1 1216.5 2047.5 1220.0 2046.9 1223.6 2046.4 1227.2 2045.8 1230.7 2045.3 1234.3 2044.8 1237.8 2044.3 1241.4 2043.8 1244.9 2043.3 1248.5 2042.9 1252.1 2042.4 1255.6 2042.0 1259.2 2041.6" fill="none" stroke="#0000ff" stroke-width="2.2" stroke-linejoin="round"/>
<path d="M618.6 2042.3 622.2 2041.8 625.7 2041.3 629.3 2040.8 632.8 2040.4 636.4 2040.0 640.0 2039.6 643.5 2039.3 647.1 2039.1 650.6 2038.8 654.2 2038.6 657.7 2038.4 661.3 2038.2 664.9 2038.0 668.4 2037.9 672.0 2037.8 675.5 2037.6 679.1 2037.5 682.7 2037.4 686.2 2037.3 689.8 2037.2 693.3 2037.1 696.9 2037.1 700.5 2037.0 704.0 2037.0 707.6 2037.0 711.1 2037.0 714.7 2036.9 718.2 2036.8 719.5 2036.8 721.8 2035.3 725.4 2032.2 725.9 2032.1 728.9 2033.6 732.3 2036.8 732.5 2036.9 736.0 2041.0 739.6 2046.1 743.2 2051.2 746.7 2055.4 750.3 2059.6 753.8 2063.6 757.4 2067.0 761.0 2069.5 764.5 2071.3 768.1 2072.9 771.6 2074.3 775.2 2075.2 778.7 2075.5 782.3 2075.4 785.9 2075.0 789.4 2074.5 793.0 2073.5 796.5 2071.7 800.1 2069.2 803.7 2065.9 807.2 2059.8 810.8 2051.6 814.3 2042.7 817.9 2034.1 821.5 2024.8 825.0 2015.2 828.6 2005.7 832.1 1996.9 835.7 1988.3 839.2 1980.0 842.8 1971.8 846.4 1963.7 849.9 1955.5 853.5 1947.1 857.0 1939.2 860.6 1932.3 864.2 1926.4 867.7 1921.1 871.3 1917.5 874.8 1915.4 878.4 1914.0 881.9 1913.7 885.5 1914.5 889.1 1915.8 892.6 1918.0 896.2 1921.2 899.7 1925.1 903.3 1930.2 906.9 1936.4 910.4 1943.3 914.0 1950.5 917.5 1957.7 921.1 1965.3 924.7 1973.5 928.2 1982.0 931.8 1990.4 935.3 1998.5 938.9 2006.0 942.4 2013.1 946.0 2020.0 949.6 2027.0 953.1 2034.5 956.7 2042.7 960.2 2052.2 963.8 2062.9 967.4 2074.4 970.9 2086.2 974.5 2097.6 978.0 2109.2 981.6 2121.6 985.2 2133.8 988.7 2144.7 992.3 2153.4 995.8 2160.3 999.4 2166.9 1002.9 2172.2 1006.5 2175.2 1010.1 2175.4 1013.6 2174.1 1017.2 2171.9 1020.7 2169.0 1024.3 2165.9 1027.9 2162.2 1031.4 2156.9 1035.0 2150.6 1038.5 2143.8 1042.1 2137.4 1045.7 2131.8 1049.2 2126.5 1052.8 2121.1 1056.3 2115.9 1059.9 2110.9 1063.4 2106.3 1067.0 2102.3 1070.6 2099.0 1074.1 2096.2 1077.7 2093.7 1081.2 2091.3 1084.8 2089.1 1088.4 2087.1 1091.9 2085.2 1095.5 2083.4 1099.0 2081.7 1102.6 2080.0 1106.2 2078.3 1109.7 2076.6 1113.3 2074.7 1116.8 2072.8 1120.4 2070.9 1123.9 2069.0 1127.5 2067.1 1131.1 2065.4 1134.6 2063.9 1138.2 2062.7 1141.7 2061.7 1145.3 2061.1 1148.7 2060.9 1148.9 2060.9 1152.4 2061.6 1155.1 2062.0 1156.0 2061.8 1159.5 2059.3 1161.5 2058.0 1163.1 2057.5 1166.7 2056.4 1170.2 2055.4 1173.8 2054.5 1177.3 2053.8 1180.9 2053.1 1184.4 2052.4 1188.0 2051.8 1191.6 2051.3 1195.1 2050.8 1198.7 2050.2 1202.2 2049.7 1205.8 2049.2 1209.4 2048.6 1212.9 2048.0 1216.5 2047.4 1220.0 2046.9 1223.6 2046.3 1227.2 2045.8 1230.7 2045.3 1234.3 2044.7 1237.8 2044.2 1241.4 2043.7 1244.9 2043.3 1248.5 2042.8 1252.1 2042.4 1255.6 2041.9 1259.2 2041.5" fill="none" stroke="#ff0000" stroke-width="2.2" stroke-linejoin="round"/>
<path d="M618.6 2042.0 622.2 2041.4 625.7 2040.8 629.3 2040.2 632.8 2039.7 636.4 2039.2 640.0 2038.8 643.5 2038.5 647.1 2038.2 650.6 2037.9 654.2 2037.6 657.7 2037.4 661.3 2037.1 664.9 2037.0 668.4 2036.8 672.0 2036.6 675.5 2036.5 679.1 2036.3 682.7 2036.2 686.2 2036.1 689.8 2036.0 693.3 2035.9 696.9 2035.8 700.5 2035.8 704.0 2035.7 707.6 2035.7 711.1 2035.7 714.7 2035.6 718.2 2035.5 719.5 2035.4 721.8 2034.1 725.4 2031.2 725.9 2031.2 728.9 2032.5 732.3 2035.4 732.5 2035.6 736.0 2039.6 739.6 2044.9 743.2 2050.4 746.7 2055.2 750.3 2059.5 753.8 2063.9 757.4 2067.9 761.0 2071.5 764.5 2074.3 768.1 2076.3 771.6 2078.2 775.2 2079.8 778.7 2081.1 782.3 2082.1 785.9 2082.5 789.4 2082.4 793.0 2082.1 796.5 2081.5 800.1 2080.5 803.7 2078.5 807.2 2075.6 810.8 2072.2 814.3 2066.8 817.9 2059.1 821.5 2050.4 825.0 2041.7 828.6 2033.6 832.1 2025.5 835.7 2017.3 839.2 2009.4 842.8 2001.7 846.4 1994.3 849.9 1986.9 853.5 1979.8 857.0 1972.7 860.6 1965.4 864.2 1958.2 867.7 1951.3 871.3 1945.4 874.8 1940.3 878.4 1935.8 881.9 1932.9 885.5 1931.2 889.1 1930.0 892.6 1929.9 896.2 1930.7 899.7 1931.9 903.3 1934.0 906.9 1936.8 910.4 1940.4 914.0 1945.0 917.5 1950.6 921.1 1956.7 924.7 1963.0 928.2 1969.3 931.8 1976.1 935.3 1983.3 938.9 1990.8 942.4 1998.1 946.0 2005.2 949.6 2011.8 953.1 2018.0 956.7 2024.2 960.2 2030.5 963.8 2037.1 967.4 2044.1 970.9 2051.7 974.5 2059.8 978.0 2068.3 981.6 2076.8 985.2 2085.3 988.7 2093.8 992.3 2103.0 995.8 2112.2 999.4 2120.8 1002.9 2127.9 1006.5 2133.3 1010.1 2138.4 1013.6 2142.9 1017.2 2146.2 1020.7 2147.6 1024.3 2147.1 1027.9 2145.8 1031.4 2143.8 1035.0 2141.5 1038.5 2139.0 1042.1 2135.6 1045.7 2131.0 1049.2 2125.9 1052.8 2120.6 1056.3 2115.8 1059.9 2111.5 1063.4 2107.2 1067.0 2102.9 1070.6 2098.8 1074.1 2095.0 1077.7 2091.6 1081.2 2088.7 1084.8 2086.5 1088.4 2084.8 1091.9 2083.2 1095.5 2081.8 1099.0 2080.6 1102.6 2079.3 1106.2 2078.0 1109.7 2076.5 1113.3 2074.9 1116.8 2073.0 1120.4 2071.1 1123.9 2069.2 1127.5 2067.3 1131.1 2065.5 1134.6 2063.9 1138.2 2062.6 1141.7 2061.6 1145.3 2060.9 1148.7 2060.7 1148.9 2060.7 1152.4 2061.4 1155.1 2061.8 1156.0 2061.6 1159.5 2059.0 1161.5 2057.8 1163.1 2057.3 1166.7 2056.2 1170.2 2055.2 1173.8 2054.3 1177.3 2053.5 1180.9 2052.8 1184.4 2052.2 1188.0 2051.6 1191.6 2051.0 1195.1 2050.5 1198.7 2050.0 1202.2 2049.4 1205.8 2048.9 1209.4 2048.3 1212.9 2047.7 1216.5 2047.1 1220.0 2046.6 1223.6 2046.0 1227.2 2045.5 1230.7 2044.9 1234.3 2044.4 1237.8 2043.9 1241.4 2043.4 1244.9 2042.9 1248.5 2042.4 1252.1 2042.0 1255.6 2041.5 1259.2 2041.1 M618.6 2042.3 622.2 2041.8 625.7 2041.3 629.3 2040.8 632.8 2040.4 636.4 2040.0 640.0 2039.6 643.5 2039.3 647.1 2039.1 650.6 2038.8 654.2 2038.6 657.7 2038.4 661.3 2038.2 664.9 2038.1 668.4 2037.9 672.0 2037.8 675.5 2037.6 679.1 2037.5 682.7 2037.4 686.2 2037.3 689.8 2037.2 693.3 2037.1 696.9 2037.1 700.5 2037.1 704.0 2037.0 707.6 2037.0 711.1 2037.0 714.7 2036.9 718.2 2036.8 719.5 2036.8 721.8 2035.6 725.4 2033.0 725.9 2032.9 728.9 2034.0 732.3 2036.8 732.5 2036.9 736.0 2041.5 739.6 2048.1 743.2 2055.0 746.7 2060.8 750.3 2066.2 753.8 2071.4 757.4 2076.2 761.0 2080.2 764.5 2083.1 768.1 2085.3 771.6 2087.4 775.2 2089.2 778.7 2090.5 782.3 2091.1 785.9 2091.0 789.4 2090.6 793.0 2089.9 796.5 2088.7 800.1 2086.2 803.7 2082.8 807.2 2078.9 810.8 2073.8 814.3 2067.1 817.9 2059.5 821.5 2051.3 825.0 2043.1 828.6 2035.3 832.1 2027.0 835.7 2018.6 839.2 2010.6 842.8 2003.1 846.4 1995.9 849.9 1988.9 853.5 1982.0 857.0 1975.2 860.6 1968.2 864.2 1961.2 867.7 1954.6 871.3 1948.9 874.8 1943.9 878.4 1939.6 881.9 1936.8 885.5 1935.1 889.1 1934.0 892.6 1933.9 896.2 1934.6 899.7 1935.8 903.3 1937.8 906.9 1940.5 910.4 1943.9 914.0 1948.4 917.5 1953.7 921.1 1959.5 924.7 1965.6 928.2 1971.7 931.8 1978.2 935.3 1985.1 938.9 1992.2 942.4 1999.4 946.0 2006.1 949.6 2012.5 953.1 2018.5 956.7 2024.4 960.2 2030.4 963.8 2036.7 967.4 2043.5 970.9 2050.9 974.5 2059.0 978.0 2067.4 981.6 2076.0 985.2 2084.4 988.7 2092.9 992.3 2102.1 995.8 2111.2 999.4 2119.8 1002.9 2127.0 1006.5 2132.4 1010.1 2137.4 1013.6 2141.9 1017.2 2145.2 1020.7 2146.6 1024.3 2146.1 1027.9 2144.8 1031.4 2142.9 1035.0 2140.5 1038.5 2138.1 1042.1 2134.7 1045.7 2130.2 1049.2 2125.1 1052.8 2119.9 1056.3 2115.1 1059.9 2110.9 1063.4 2106.6 1067.0 2102.4 1070.6 2098.3 1074.1 2094.5 1077.7 2091.1 1081.2 2088.3 1084.8 2086.1 1088.4 2084.4 1091.9 2082.9 1095.5 2081.6 1099.0 2080.3 1102.6 2079.1 1106.2 2077.8 1109.7 2076.3 1113.3 2074.7 1116.8 2072.8 1120.4 2070.9 1123.9 2069.0 1127.5 2067.1 1131.1 2065.3 1134.6 2063.7 1138.2 2062.3 1141.7 2061.3 1145.3 2060.6 1148.7 2060.4 1148.9 2060.4 1152.4 2061.1 1155.1 2061.5 1156.0 2061.3 1159.5 2058.8 1161.5 2057.5 1163.1 2057.0 1166.7 2055.9 1170.2 2054.9 1173.8 2054.0 1177.3 2053.2 1180.9 2052.5 1184.4 2051.9 1188.0 2051.3 1191.6 2050.7 1195.1 2050.2 1198.7 2049.7 1202.2 2049.1 1205.8 2048.6 1209.4 2048.0 1212.9 2047.4 1216.5 2046.8 1220.0 2046.2 1223.6 2045.6 1227.2 2045.1 1230.7 2044.5 1234.3 2044.0 1237.8 2043.5 1241.4 2043.0 1244.9 2042.5 1248.5 2042.0 1252.1 2041.5 1255.6 2041.0 1259.2 2040.6 M618.6 2042.6 622.2 2042.2 625.7 2041.8 629.3 2041.4 632.8 2041.0 636.4 2040.7 640.0 2040.4 643.5 2040.2 647.1 2040.0 650.6 2039.8 654.2 2039.6 657.7 2039.4 661.3 2039.3 664.9 2039.1 668.4 2039.0 672.0 2038.9 675.5 2038.8 679.1 2038.7 682.7 2038.6 686.2 2038.5 689.8 2038.5 693.3 2038.4 696.9 2038.3 700.5 2038.3 704.0 2038.3 707.6 2038.3 711.1 2038.2 714.7 2038.2 718.2 2038.1 719.5 2038.1 721.8 2037.0 725.4 2034.7 725.9 2034.6 728.9 2035.6 732.3 2038.1 732.5 2038.2 736.0 2043.6 739.6 2051.7 743.2 2060.3 746.7 2067.0 750.3 2073.5 753.8 2079.7 757.4 2085.2 761.0 2089.4 764.5 2092.3 768.1 2095.0 771.6 2097.2 775.2 2098.9 778.7 2099.8 782.3 2099.7 785.9 2099.2 789.4 2098.5 793.0 2097.1 796.5 2094.2 800.1 2090.1 803.7 2085.7 807.2 2080.7 810.8 2074.6 814.3 2067.7 817.9 2060.2 821.5 2052.5 825.0 2044.7 828.6 2036.9 832.1 2028.5 835.7 2019.9 839.2 2011.7 842.8 2004.3 846.4 1997.3 849.9 1990.6 853.5 1984.0 857.0 1977.4 860.6 1970.7 864.2 1963.9 867.7 1957.5 871.3 1952.0 874.8 1947.2 878.4 1943.0 881.9 1940.4 885.5 1938.7 889.1 1937.6 892.6 1937.5 896.2 1938.2 899.7 1939.4 903.3 1941.3 906.9 1943.9 910.4 1947.1 914.0 1951.4 917.5 1956.5 921.1 1962.1 924.7 1968.0 928.2 1973.8 931.8 1980.0 935.3 1986.7 938.9 1993.6 942.4 2000.4 946.0 2007.0 949.6 2013.1 953.1 2018.9 956.7 2024.6 960.2 2030.3 963.8 2036.4 967.4 2042.9 970.9 2050.2 974.5 2058.1 978.0 2066.5 981.6 2075.1 985.2 2083.6 988.7 2092.0 992.3 2101.1 995.8 2110.3 999.4 2118.8 1002.9 2126.0 1006.5 2131.4 1010.1 2136.4 1013.6 2141.0 1017.2 2144.2 1020.7 2145.6 1024.3 2145.1 1027.9 2143.8 1031.4 2141.9 1035.0 2139.6 1038.5 2137.2 1042.1 2133.8 1045.7 2129.4 1049.2 2124.3 1052.8 2119.1 1056.3 2114.4 1059.9 2110.2 1063.4 2106.0 1067.0 2101.8 1070.6 2097.7 1074.1 2094.0 1077.7 2090.6 1081.2 2087.8 1084.8 2085.7 1088.4 2084.0 1091.9 2082.6 1095.5 2081.3 1099.0 2080.1 1102.6 2078.9 1106.2 2077.6 1109.7 2076.1 1113.3 2074.5 1116.8 2072.7 1120.4 2070.7 1123.9 2068.8 1127.5 2066.9 1131.1 2065.1 1134.6 2063.5 1138.2 2062.1 1141.7 2061.0 1145.3 2060.4 1148.7 2060.2 1148.9 2060.2 1152.4 2060.8 1155.1 2061.2 1156.0 2061.1 1159.5 2058.5 1161.5 2057.3 1163.1 2056.7 1166.7 2055.6 1170.2 2054.6 1173.8 2053.7 1177.3 2052.9 1180.9 2052.2 1184.4 2051.6 1188.0 2051.0 1191.6 2050.4 1195.1 2049.9 1198.7 2049.3 1202.2 2048.8 1205.8 2048.2 1209.4 2047.6 1212.9 2047.0 1216.5 2046.4 1220.0 2045.9 1223.6 2045.3 1227.2 2044.7 1230.7 2044.1 1234.3 2043.6 1237.8 2043.1 1241.4 2042.5 1244.9 2042.0 1248.5 2041.5 1252.1 2041.0 1255.6 2040.6 1259.2 2040.1" fill="none" stroke="#0000ff" stroke-width="2.2" stroke-linejoin="round"/>
<path d="M618.6 2042.9 622.2 2042.6 625.7 2042.2 629.3 2041.9 632.8 2041.7 636.4 2041.4 640.0 2041.2 643.5 2041.0 647.1 2040.8 650.6 2040.7 654.2 2040.5 657.7 2040.4 661.3 2040.3 664.9 2040.2 668.4 2040.1 672.0 2040.0 675.5 2039.9 679.1 2039.8 682.7 2039.8 686.2 2039.7 689.8 2039.6 693.3 2039.6 696.9 2039.6 700.5 2039.5 704.0 2039.5 707.6 2039.5 711.1 2039.5 714.7 2039.4 718.2 2039.4 719.5 2039.4 721.8 2038.3 725.4 2035.9 725.9 2035.9 728.9 2036.8 732.3 2039.4 732.5 2039.5 736.0 2046.3 739.6 2056.4 743.2 2064.9 746.7 2072.6 750.3 2079.8 753.8 2085.1 757.4 2088.5 761.0 2091.5 764.5 2093.5 768.1 2094.2 771.6 2094.0 775.2 2093.4 778.7 2092.7 782.3 2090.8 785.9 2087.6 789.4 2083.8 793.0 2079.8 796.5 2075.4 800.1 2070.5 803.7 2065.0 807.2 2059.1 810.8 2052.7 814.3 2045.9 817.9 2038.4 821.5 2029.2 825.0 2019.0 828.6 2009.3 832.1 2000.9 835.7 1993.0 839.2 1985.5 842.8 1978.1 846.4 1970.8 849.9 1963.3 853.5 1955.8 857.0 1948.6 860.6 1942.3 864.2 1936.9 867.7 1932.0 871.3 1928.8 874.8 1926.9 878.4 1925.6 881.9 1925.3 885.5 1926.0 889.1 1927.2 892.6 1929.2 896.2 1932.0 899.7 1935.4 903.3 1940.0 906.9 1945.5 910.4 1951.7 914.0 1958.2 917.5 1964.7 921.1 1971.5 924.7 1978.8 928.2 1986.4 931.8 1994.1 935.3 2001.4 938.9 2008.3 942.4 2014.6 946.0 2020.7 949.6 2026.9 953.1 2033.5 956.7 2041.0 960.2 2049.7 963.8 2060.0 967.4 2071.4 970.9 2083.2 974.5 2094.8 978.0 2106.2 981.6 2118.5 985.2 2130.7 988.7 2141.8 992.3 2150.7 995.8 2157.5 999.4 2164.1 1002.9 2169.4 1006.5 2172.5 1010.1 2172.7 1013.6 2171.4 1017.2 2169.2 1020.7 2166.4 1024.3 2163.4 1027.9 2159.8 1031.4 2154.6 1035.0 2148.4 1038.5 2141.8 1042.1 2135.5 1045.7 2130.0 1049.2 2124.8 1052.8 2119.5 1056.3 2114.4 1059.9 2109.5 1063.4 2105.0 1067.0 2101.1 1070.6 2097.9 1074.1 2095.2 1077.7 2092.7 1081.2 2090.4 1084.8 2088.3 1088.4 2086.3 1091.9 2084.5 1095.5 2082.8 1099.0 2081.1 1102.6 2079.4 1106.2 2077.8 1109.7 2076.0 1113.3 2074.2 1116.8 2072.3 1120.4 2070.3 1123.9 2068.4 1127.5 2066.5 1131.1 2064.8 1134.6 2063.3 1138.2 2062.0 1141.7 2061.0 1145.3 2060.4 1148.7 2060.2 1148.9 2060.2 1152.4 2060.9 1155.1 2061.3 1156.0 2061.1 1159.5 2058.5 1161.5 2057.3 1163.1 2056.8 1166.7 2055.7 1170.2 2054.7 1173.8 2053.8 1177.3 2053.0 1180.9 2052.3 1184.4 2051.6 1188.0 2051.0 1191.6 2050.5 1195.1 2049.9 1198.7 2049.4 1202.2 2048.8 1205.8 2048.3 1209.4 2047.7 1212.9 2047.1 1216.5 2046.5 1220.0 2045.9 1223.6 2045.3 1227.2 2044.7 1230.7 2044.2 1234.3 2043.6 1237.8 2043.1 1241.4 2042.6 1244.9 2042.1 1248.5 2041.6 1252.1 2041.1 1255.6 2040.6 1259.2 2040.2" fill="none" stroke="#ff0000" stroke-width="2.2" stroke-linejoin="round"/>
<path d="M618.6 2042.9 622.2 2042.6 625.7 2042.2 629.3 2041.9 632.8 2041.7 636.4 2041.4 640.0 2041.2 643.5 2041.0 647.1 2040.8 650.6 2040.7 654.2 2040.5 657.7 2040.4 661.3 2040.3 664.9 2040.2 668.4 2040.1 672.0 2040.0 675.5 2039.9 679.1 2039.8 682.7 2039.8 686.2 2039.7 689.8 2039.7 693.3 2039.6 696.9 2039.6 700.5 2039.5 704.0 2039.5 707.6 2039.5 711.1 2039.5 714.7 2039.5 718.2 2039.4 719.5 2039.4 721.8 2038.4 725.4 2036.4 725.9 2036.3 728.9 2037.2 732.3 2039.4 732.5 2039.5 736.0 2045.7 739.6 2055.8 743.2 2066.0 746.7 2073.9 750.3 2081.7 753.8 2088.9 757.4 2094.9 761.0 2099.0 764.5 2102.3 768.1 2105.2 771.6 2107.4 775.2 2108.6 778.7 2108.6 782.3 2108.0 785.9 2107.2 789.4 2105.7 793.0 2102.3 796.5 2097.6 800.1 2092.7 803.7 2087.5 807.2 2081.7 810.8 2075.3 814.3 2068.5 817.9 2061.3 821.5 2053.9 825.0 2046.3 828.6 2038.6 832.1 2029.9 835.7 2021.0 839.2 2012.7 842.8 2005.4 846.4 1998.6 849.9 1992.1 853.5 1985.8 857.0 1979.4 860.6 1972.9 864.2 1966.3 867.7 1960.1 871.3 1954.8 874.8 1950.1 878.4 1946.0 881.9 1943.5 885.5 1941.9 889.1 1940.8 892.6 1940.7 896.2 1941.4 899.7 1942.5 903.3 1944.4 906.9 1946.9 910.4 1950.0 914.0 1954.1 917.5 1959.0 921.1 1964.4 924.7 1970.1 928.2 1975.7 931.8 1981.7 935.3 1988.1 938.9 1994.8 942.4 2001.4 946.0 2007.8 949.6 2013.7 953.1 2019.3 956.7 2024.7 960.2 2030.3 963.8 2036.1 967.4 2042.4 970.9 2049.5 974.5 2057.3 978.0 2065.7 981.6 2074.3 985.2 2082.7 988.7 2091.1 992.3 2100.1 995.8 2109.3 999.4 2117.8 1002.9 2125.0 1006.5 2130.4 1010.1 2135.5 1013.6 2140.0 1017.2 2143.2 1020.7 2144.6 1024.3 2144.2 1027.9 2142.9 1031.4 2141.0 1035.0 2138.7 1038.5 2136.3 1042.1 2133.0 1045.7 2128.5 1049.2 2123.5 1052.8 2118.4 1056.3 2113.7 1059.9 2109.6 1063.4 2105.4 1067.0 2101.2 1070.6 2097.2 1074.1 2093.4 1077.7 2090.1 1081.2 2087.4 1084.8 2085.3 1088.4 2083.7 1091.9 2082.2 1095.5 2081.0 1099.0 2079.8 1102.6 2078.6 1106.2 2077.4 1109.7 2076.0 1113.3 2074.3 1116.8 2072.5 1120.4 2070.6 1123.9 2068.6 1127.5 2066.7 1131.1 2064.9 1134.6 2063.2 1138.2 2061.9 1141.7 2060.8 1145.3 2060.1 1148.7 2059.9 1148.9 2059.9 1152.4 2060.6 1155.1 2061.0 1156.0 2060.8 1159.5 2058.2 1161.5 2057.0 1163.1 2056.5 1166.7 2055.3 1170.2 2054.3 1173.8 2053.5 1177.3 2052.7 1180.9 2051.9 1184.4 2051.3 1188.0 2050.7 1191.6 2050.1 1195.1 2049.6 1198.7 2049.0 1202.2 2048.5 1205.8 2047.9 1209.4 2047.3 1212.9 2046.7 1216.5 2046.1 1220.0 2045.5 1223.6 2044.9 1227.2 2044.3 1230.7 2043.8 1234.3 2043.2 1237.8 2042.7 1241.4 2042.1 1244.9 2041.6 1248.5 2041.1 1252.1 2040.6 1255.6 2040.1 1259.2 2039.6 M618.6 2043.2 622.2 2042.9 625.7 2042.7 629.3 2042.5 632.8 2042.3 636.4 2042.1 640.0 2041.9 643.5 2041.8 647.1 2041.7 650.6 2041.6 654.2 2041.4 657.7 2041.4 661.3 2041.3 664.9 2041.2 668.4 2041.1 672.0 2041.1 675.5 2041.0 679.1 2041.0 682.7 2040.9 686.2 2040.9 689.8 2040.8 693.3 2040.8 696.9 2040.8 700.5 2040.7 704.0 2040.7 707.6 2040.7 711.1 2040.7 714.7 2040.7 718.2 2040.6 719.5 2040.6 721.8 2039.8 725.4 2038.0 725.9 2038.0 728.9 2038.7 732.3 2040.6 732.5 2040.7 736.0 2048.1 739.6 2060.6 743.2 2072.4 746.7 2081.7 750.3 2090.9 753.8 2099.1 757.4 2105.2 761.0 2109.2 764.5 2112.9 768.1 2115.8 771.6 2117.4 775.2 2117.5 778.7 2117.0 782.3 2116.0 785.9 2114.4 789.4 2110.6 793.0 2105.3 796.5 2099.8 800.1 2094.4 803.7 2088.7 807.2 2082.6 810.8 2076.2 814.3 2069.5 817.9 2062.6 821.5 2055.4 825.0 2048.0 828.6 2040.1 832.1 2031.2 835.7 2022.0 839.2 2013.6 842.8 2006.3 846.4 1999.7 849.9 1993.4 853.5 1987.3 857.0 1981.1 860.6 1974.7 864.2 1968.3 867.7 1962.3 871.3 1957.1 874.8 1952.6 878.4 1948.6 881.9 1946.1 885.5 1944.5 889.1 1943.5 892.6 1943.4 896.2 1944.1 899.7 1945.2 903.3 1946.9 906.9 1949.4 910.4 1952.3 914.0 1956.3 917.5 1961.1 921.1 1966.3 924.7 1971.8 928.2 1977.3 931.8 1983.0 935.3 1989.3 938.9 1995.7 942.4 2002.2 946.0 2008.4 949.6 2014.1 953.1 2019.5 956.7 2024.8 960.2 2030.1 963.8 2035.8 967.4 2041.9 970.9 2048.8 974.5 2056.5 978.0 2064.8 981.6 2073.4 985.2 2081.9 988.7 2090.2 992.3 2099.2 995.8 2108.3 999.4 2116.8 1002.9 2124.0 1006.5 2129.5 1010.1 2134.5 1013.6 2139.0 1017.2 2142.2 1020.7 2143.6 1024.3 2143.2 1027.9 2141.9 1031.4 2140.0 1035.0 2137.8 1038.5 2135.4 1042.1 2132.1 1045.7 2127.7 1049.2 2122.7 1052.8 2117.7 1056.3 2113.0 1059.9 2108.9 1063.4 2104.8 1067.0 2100.6 1070.6 2096.7 1074.1 2092.9 1077.7 2089.7 1081.2 2087.0 1084.8 2084.9 1088.4 2083.3 1091.9 2081.9 1095.5 2080.7 1099.0 2079.6 1102.6 2078.4 1106.2 2077.2 1109.7 2075.8 1113.3 2074.1 1116.8 2072.3 1120.4 2070.4 1123.9 2068.4 1127.5 2066.5 1131.1 2064.7 1134.6 2063.0 1138.2 2061.6 1141.7 2060.5 1145.3 2059.9 1148.7 2059.6 1148.9 2059.6 1152.4 2060.3 1155.1 2060.7 1156.0 2060.6 1159.5 2058.0 1161.5 2056.7 1163.1 2056.2 1166.7 2055.1 1170.2 2054.1 1173.8 2053.2 1177.3 2052.4 1180.9 2051.7 1184.4 2051.0 1188.0 2050.4 1191.6 2049.8 1195.1 2049.3 1198.7 2048.7 1202.2 2048.2 1205.8 2047.6 1209.4 2047.0 1212.9 2046.4 1216.5 2045.7 1220.0 2045.1 1223.6 2044.5 1227.2 2043.9 1230.7 2043.4 1234.3 2042.8 1237.8 2042.2 1241.4 2041.7 1244.9 2041.2 1248.5 2040.6 1252.1 2040.1 1255.6 2039.6 1259.2 2039.2 M618.6 2043.4 622.2 2043.3 625.7 2043.1 629.3 2043.0 632.8 2042.9 636.4 2042.7 640.0 2042.6 643.5 2042.5 647.1 2042.5 650.6 2042.4 654.2 2042.3 657.7 2042.3 661.3 2042.2 664.9 2042.2 668.4 2042.1 672.0 2042.1 675.5 2042.0 679.1 2042.0 682.7 2042.0 686.2 2041.9 689.8 2041.9 693.3 2041.9 696.9 2041.9 700.5 2041.9 704.0 2041.9 707.6 2041.9 711.1 2041.8 714.7 2041.8 718.2 2041.8 719.5 2041.8 721.8 2041.1 725.4 2039.6 725.9 2039.6 728.9 2040.1 732.3 2041.8 732.5 2041.9 736.0 2050.7 739.6 2066.0 743.2 2079.3 746.7 2090.6 750.3 2101.3 753.8 2110.1 757.4 2115.7 761.0 2120.4 764.5 2124.1 768.1 2126.3 771.6 2126.6 775.2 2126.0 778.7 2124.9 782.3 2123.2 785.9 2119.0 789.4 2113.1 793.0 2107.0 796.5 2101.4 800.1 2095.6 803.7 2089.7 807.2 2083.7 810.8 2077.4 814.3 2070.8 817.9 2064.1 821.5 2057.0 825.0 2049.6 828.6 2041.7 832.1 2032.4 835.7 2022.8 839.2 2014.2 842.8 2007.0 846.4 2000.5 849.9 1994.3 853.5 1988.4 857.0 1982.4 860.6 1976.2 864.2 1969.9 867.7 1964.0 871.3 1958.9 874.8 1954.5 878.4 1950.6 881.9 1948.1 885.5 1946.6 889.1 1945.6 892.6 1945.5 896.2 1946.2 899.7 1947.2 903.3 1948.9 906.9 1951.3 910.4 1954.2 914.0 1958.0 917.5 1962.6 921.1 1967.7 924.7 1973.1 928.2 1978.4 931.8 1984.0 935.3 1990.1 938.9 1996.4 942.4 2002.7 946.0 2008.7 949.6 2014.4 953.1 2019.7 956.7 2024.8 960.2 2030.0 963.8 2035.4 967.4 2041.4 970.9 2048.1 974.5 2055.8 978.0 2064.0 981.6 2072.6 985.2 2081.0 988.7 2089.3 992.3 2098.2 995.8 2107.3 999.4 2115.8 1002.9 2123.1 1006.5 2128.5 1010.1 2133.5 1013.6 2138.0 1017.2 2141.3 1020.7 2142.6 1024.3 2142.2 1027.9 2140.9 1031.4 2139.1 1035.0 2136.8 1038.5 2134.5 1042.1 2131.2 1045.7 2126.9 1049.2 2122.0 1052.8 2116.9 1056.3 2112.3 1059.9 2108.3 1063.4 2104.2 1067.0 2100.1 1070.6 2096.1 1074.1 2092.4 1077.7 2089.2 1081.2 2086.5 1084.8 2084.6 1088.4 2083.0 1091.9 2081.6 1095.5 2080.4 1099.0 2079.3 1102.6 2078.2 1106.2 2077.0 1109.7 2075.6 1113.3 2073.9 1116.8 2072.1 1120.4 2070.2 1123.9 2068.2 1127.5 2066.3 1131.1 2064.4 1134.6 2062.8 1138.2 2061.4 1141.7 2060.3 1145.3 2059.6 1148.7 2059.4 1148.9 2059.4 1152.4 2060.0 1155.1 2060.5 1156.0 2060.3 1159.5 2057.7 1161.5 2056.5 1163.1 2055.9 1166.7 2054.8 1170.2 2053.8 1173.8 2052.9 1177.3 2052.1 1180.9 2051.4 1184.4 2050.7 1188.0 2050.1 1191.6 2049.5 1195.1 2049.0 1198.7 2048.4 1202.2 2047.9 1205.8 2047.3 1209.4 2046.7 1212.9 2046.0 1216.5 2045.4 1220.0 2044.8 1223.6 2044.2 1227.2 2043.6 1230.7 2043.0 1234.3 2042.4 1237.8 2041.8 1241.4 2041.3 1244.9 2040.7 1248.5 2040.2 1252.1 2039.7 1255.6 2039.2 1259.2 2038.7" fill="none" stroke="#0000ff" stroke-width="2.2" stroke-linejoin="round"/>
<path d="M618.6 2043.4 622.2 2043.3 625.7 2043.1 629.3 2043.0 632.8 2042.9 636.4 2042.7 640.0 2042.6 643.5 2042.5 647.1 2042.5 650.6 2042.4 654.2 2042.3 657.7 2042.3 661.3 2042.2 664.9 2042.2 668.4 2042.1 672.0 2042.1 675.5 2042.0 679.1 2042.0 682.7 2042.0 686.2 2041.9 689.8 2041.9 693.3 2041.9 696.9 2041.9 700.5 2041.9 704.0 2041.9 707.6 2041.8 711.1 2041.8 714.7 2041.8 718.2 2041.8 719.5 2041.8 721.8 2041.1 725.4 2039.5 725.9 2039.4 728.9 2040.0 732.3 2041.8 732.5 2041.9 736.0 2055.2 739.6 2073.1 743.2 2087.7 746.7 2099.9 750.3 2106.8 753.8 2111.8 757.4 2113.6 761.0 2113.3 764.5 2112.5 768.1 2111.4 771.6 2108.6 775.2 2104.0 778.7 2098.8 782.3 2094.1 785.9 2089.7 789.4 2085.4 793.0 2081.1 796.5 2076.6 800.1 2072.0 803.7 2067.1 807.2 2061.8 810.8 2056.0 814.3 2049.7 817.9 2042.6 821.5 2032.9 825.0 2021.9 828.6 2011.8 832.1 2003.6 835.7 1996.2 839.2 1989.2 842.8 1982.5 846.4 1975.8 849.9 1968.9 853.5 1961.8 857.0 1955.1 860.6 1949.2 864.2 1944.2 867.7 1939.7 871.3 1936.7 874.8 1934.9 878.4 1933.7 881.9 1933.4 885.5 1934.1 889.1 1935.2 892.6 1937.0 896.2 1939.6 899.7 1942.7 903.3 1946.8 906.9 1951.9 910.4 1957.5 914.0 1963.5 917.5 1969.5 921.1 1975.7 924.7 1982.4 928.2 1989.4 931.8 1996.4 935.3 2003.3 938.9 2009.7 942.4 2015.5 946.0 2021.0 949.6 2026.7 953.1 2032.7 956.7 2039.5 960.2 2047.4 963.8 2057.2 967.4 2068.5 970.9 2080.3 974.5 2092.0 978.0 2103.3 981.6 2115.5 985.2 2127.7 988.7 2138.8 992.3 2147.9 995.8 2154.8 999.4 2161.3 1002.9 2166.7 1006.5 2169.8 1010.1 2169.9 1013.6 2168.7 1017.2 2166.6 1020.7 2163.9 1024.3 2160.9 1027.9 2157.3 1031.4 2152.2 1035.0 2146.2 1038.5 2139.7 1042.1 2133.6 1045.7 2128.2 1049.2 2123.1 1052.8 2117.9 1056.3 2112.9 1059.9 2108.1 1063.4 2103.7 1067.0 2099.9 1070.6 2096.7 1074.1 2094.1 1077.7 2091.7 1081.2 2089.5 1084.8 2087.5 1088.4 2085.6 1091.9 2083.8 1095.5 2082.1 1099.0 2080.5 1102.6 2078.8 1106.2 2077.2 1109.7 2075.5 1113.3 2073.7 1116.8 2071.7 1120.4 2069.8 1123.9 2067.8 1127.5 2065.9 1131.1 2064.2 1134.6 2062.6 1138.2 2061.3 1141.7 2060.3 1145.3 2059.7 1148.7 2059.5 1148.9 2059.5 1152.4 2060.1 1155.1 2060.6 1156.0 2060.4 1159.5 2057.8 1161.5 2056.6 1163.1 2056.0 1166.7 2054.9 1170.2 2053.9 1173.8 2053.0 1177.3 2052.2 1180.9 2051.5 1184.4 2050.8 1188.0 2050.2 1191.6 2049.6 1195.1 2049.1 1198.7 2048.5 1202.2 2048.0 1205.8 2047.4 1209.4 2046.8 1212.9 2046.1 1216.5 2045.5 1220.0 2044.9 1223.6 2044.3 1227.2 2043.7 1230.7 2043.1 1234.3 2042.6 1237.8 2042.0 1241.4 2041.4 1244.9 2040.9 1248.5 2040.4 1252.1 2039.9 1255.6 2039.3 1259.2 2038.9" fill="none" stroke="#ff0000" stroke-width="2.2" stroke-linejoin="round"/>
<path d="M618.6 2043.7 622.2 2043.6 625.7 2043.5 629.3 2043.4 632.8 2043.4 636.4 2043.3 640.0 2043.2 643.5 2043.2 647.1 2043.2 650.6 2043.1 654.2 2043.1 657.7 2043.1 661.3 2043.0 664.9 2043.0 668.4 2043.0 672.0 2043.0 675.5 2042.9 679.1 2042.9 682.7 2042.9 686.2 2042.9 689.8 2042.9 693.3 2042.9 696.9 2042.9 700.5 2042.9 704.0 2042.9 707.6 2042.8 711.1 2042.8 714.7 2042.8 718.2 2042.8 719.5 2042.8 721.8 2042.3 725.4 2041.0 725.9 2041.0 728.9 2041.5 732.3 2042.8 732.5 2042.9 736.0 2053.7 739.6 2072.3 743.2 2087.2 746.7 2100.8 750.3 2112.9 753.8 2121.6 757.4 2127.3 761.0 2132.2 764.5 2135.3 768.1 2135.8 771.6 2135.2 775.2 2134.0 778.7 2132.2 782.3 2127.6 785.9 2121.1 789.4 2114.3 793.0 2108.4 796.5 2102.6 800.1 2096.8 803.7 2090.9 807.2 2084.9 810.8 2078.7 814.3 2072.3 817.9 2065.7 821.5 2058.7 825.0 2051.3 828.6 2043.2 832.1 2033.6 835.7 2023.5 839.2 2014.6 842.8 2007.3 846.4 2000.9 849.9 1994.8 853.5 1989.0 857.0 1983.1 860.6 1977.0 864.2 1970.8 867.7 1964.9 871.3 1959.9 874.8 1955.5 878.4 1951.6 881.9 1949.2 885.5 1947.7 889.1 1946.7 892.6 1946.6 896.2 1947.3 899.7 1948.3 903.3 1950.0 906.9 1952.3 910.4 1955.1 914.0 1958.9 917.5 1963.4 921.1 1968.5 924.7 1973.7 928.2 1979.0 931.8 1984.5 935.3 1990.4 938.9 1996.6 942.4 2002.8 946.0 2008.8 949.6 2014.4 953.1 2019.6 956.7 2024.7 960.2 2029.7 963.8 2035.1 967.4 2040.9 970.9 2047.5 974.5 2055.0 978.0 2063.2 981.6 2071.7 985.2 2080.2 988.7 2088.4 992.3 2097.3 995.8 2106.3 999.4 2114.8 1002.9 2122.1 1006.5 2127.5 1010.1 2132.5 1013.6 2137.0 1017.2 2140.3 1020.7 2141.6 1024.3 2141.2 1027.9 2140.0 1031.4 2138.1 1035.0 2135.9 1038.5 2133.6 1042.1 2130.3 1045.7 2126.0 1049.2 2121.2 1052.8 2116.2 1056.3 2111.6 1059.9 2107.7 1063.4 2103.6 1067.0 2099.5 1070.6 2095.6 1074.1 2091.9 1077.7 2088.7 1081.2 2086.1 1084.8 2084.2 1088.4 2082.6 1091.9 2081.3 1095.5 2080.1 1099.0 2079.0 1102.6 2077.9 1106.2 2076.8 1109.7 2075.4 1113.3 2073.8 1116.8 2071.9 1120.4 2070.0 1123.9 2068.0 1127.5 2066.1 1131.1 2064.2 1134.6 2062.6 1138.2 2061.1 1141.7 2060.0 1145.3 2059.3 1148.7 2059.1 1148.9 2059.1 1152.4 2066.6 1155.1 2071.1 1156.0 2070.3 1159.5 2060.1 1161.5 2056.2 1163.1 2055.5 1166.7 2054.0 1170.2 2052.8 1173.8 2051.8 1177.3 2050.9 1180.9 2050.2 1184.4 2049.7 1188.0 2049.2 1191.6 2048.7 1195.1 2048.3 1198.7 2047.9 1202.2 2047.4 1205.8 2046.9 1209.4 2046.3 1212.9 2045.7 1216.5 2045.0 1220.0 2044.4 1223.6 2043.8 1227.2 2043.2 1230.7 2042.6 1234.3 2042.0 1237.8 2041.4 1241.4 2040.9 1244.9 2040.3 1248.5 2039.8 1252.1 2039.2 1255.6 2038.7 1259.2 2038.2" fill="none" stroke="#0000ff" stroke-width="2.2" stroke-linejoin="round"/>
</g>
<g id="inset-frame" shape-rendering="crispEdges">
<rect x="951.50" y="2040.50" width="17.00" height="6.00" fill="#000" />
<rect x="565.0" y="1754.5" width="752.3" height="472.7" fill="none" stroke="#000" stroke-width="7.0"/>
<path d="M618.6 2227.2V2238.5 M725.9 2227.2V2238.5 M833.2 2227.2V2238.5 M940.5 2227.2V2238.5 M1047.8 2227.2V2238.5 M1155.1 2227.2V2238.5 M1262.4 2227.2V2238.5 M672.2 2227.2V2234 M779.5 2227.2V2234 M886.9 2227.2V2234 M994.1 2227.2V2234 M1101.5 2227.2V2234 M1208.8 2227.2V2234 M565.0 1754.3H551.5 M565.0 1826.7H551.5 M565.0 1899.1H551.5 M565.0 1971.5H551.5 M565.0 2043.9H551.5 M565.0 2116.3H551.5 M565.0 2188.7H551.5 M565.0 1790.5H556.5 M565.0 1862.9H556.5 M565.0 1935.3H556.5 M565.0 2007.7H556.5 M565.0 2080.1H556.5 M565.0 2152.5H556.5" fill="none" stroke="#000" stroke-width="6.6"/>
<text transform="translate(441.81 1760.09) scale(0.2764 0.3053)" font-size="100" font-weight="bold" fill="#000" >8.0E -10</text>
<text transform="translate(441.81 1832.49) scale(0.2765 0.3053)" font-size="100" font-weight="bold" fill="#000" >6.0E -10</text>
<text transform="translate(441.81 1904.89) scale(0.2764 0.3053)" font-size="100" font-weight="bold" fill="#000" >4.0E -10</text>
<text transform="translate(441.81 1977.29) scale(0.2764 0.3053)" font-size="100" font-weight="bold" fill="#000" >2.0E -10</text>
<text transform="translate(507.88 2049.69) scale(0.2764 0.3053)" font-size="100" font-weight="bold" fill="#000" >0.0</text>
<text transform="translate(432.62 2122.09) scale(0.2764 0.3053)" font-size="100" font-weight="bold" fill="#000" >-2.0E -10</text>
<text transform="translate(432.62 2194.49) scale(0.2764 0.3053)" font-size="100" font-weight="bold" fill="#000" >-4.0E -10</text>
<text transform="translate(592.07 2264.09) scale(0.3000 0.3068)" font-size="100" font-weight="bold" fill="#000" >-1.5</text>
<text transform="translate(699.56 2264.10) scale(0.3000 0.3025)" font-size="100" font-weight="bold" fill="#000" >-1.0</text>
<text transform="translate(806.67 2264.10) scale(0.3000 0.3025)" font-size="100" font-weight="bold" fill="#000" >-0.5</text>
<text transform="translate(919.15 2264.10) scale(0.3000 0.3025)" font-size="100" font-weight="bold" fill="#000" >0.0</text>
<text transform="translate(1026.26 2264.10) scale(0.3000 0.3025)" font-size="100" font-weight="bold" fill="#000" >0.5</text>
<text transform="translate(1133.41 2264.10) scale(0.3000 0.3025)" font-size="100" font-weight="bold" fill="#000" >1.0</text>
<text transform="translate(1240.53 2264.09) scale(0.3000 0.3068)" font-size="100" font-weight="bold" fill="#000" >1.5</text>
<text transform="translate(868.39 2311.97) scale(0.2806 0.2699)" font-size="100" font-weight="bold" fill="#000" >Voltage (V)</text>
<text transform="translate(416.20 2141.87) rotate(-90) scale(0.9405 1.0000)" font-size="34.30" font-weight="normal" fill="#000" stroke="#000" stroke-width="0.5"><tspan>d</tspan><tspan font-size="20.58" dy="-16.81">2</tspan><tspan dy="16.81">(C/A)/dV</tspan><tspan font-size="20.58" dy="-16.81">2</tspan><tspan dy="16.81">(µF</tspan><tspan font-size="20.58" dy="-16.81">2</tspan><tspan dy="16.81">/cm</tspan><tspan font-size="20.58" dy="-16.81">2</tspan><tspan dy="16.81">V</tspan><tspan font-size="20.58" dy="-16.81">1</tspan><tspan dy="16.81">)</tspan></text>
<rect x="1039.3" y="1824.3" width="246.4" height="87" fill="#fff" stroke="#000" stroke-width="2"/>
<path d="M1060.7 1846H1120.7" stroke="#ff0000" stroke-width="2" fill="none"/>
<path d="M1060.7 1886.3H1122.7" stroke="#0000ff" stroke-width="2" fill="none"/>
<text transform="translate(1126.98 1855.00) scale(1.0504 1.0000)" font-size="27.60" font-weight="bold" fill="#000" ><tspan>Al</tspan><tspan font-size="14.35" dy="8.28">2</tspan><tspan dy="-8.28">O</tspan><tspan font-size="14.35" dy="8.28">3</tspan><tspan dy="-8.28">/ ZrO</tspan><tspan font-size="14.35" dy="8.28">2</tspan></text>
<text transform="translate(1126.97 1895.70) scale(1.0576 1.0000)" font-size="27.60" font-weight="bold" fill="#000" ><tspan>Al</tspan><tspan font-size="14.35" dy="8.28">2</tspan><tspan dy="-8.28">O</tspan><tspan font-size="14.35" dy="8.28">3</tspan><tspan dy="-8.28">/ HfO</tspan><tspan font-size="14.35" dy="8.28">2</tspan></text>
<text transform="translate(980.56 2040.00) scale(1.0286 1.0000)" font-size="27.60" font-weight="bold" fill="#000" ><tspan>ΔV</tspan><tspan font-size="13.80" dy="9.94">FB</tspan><tspan dy="-9.94">= 49 mV</tspan></text>
</g>
</g>
</g>
</svg>
</body>
</html>
